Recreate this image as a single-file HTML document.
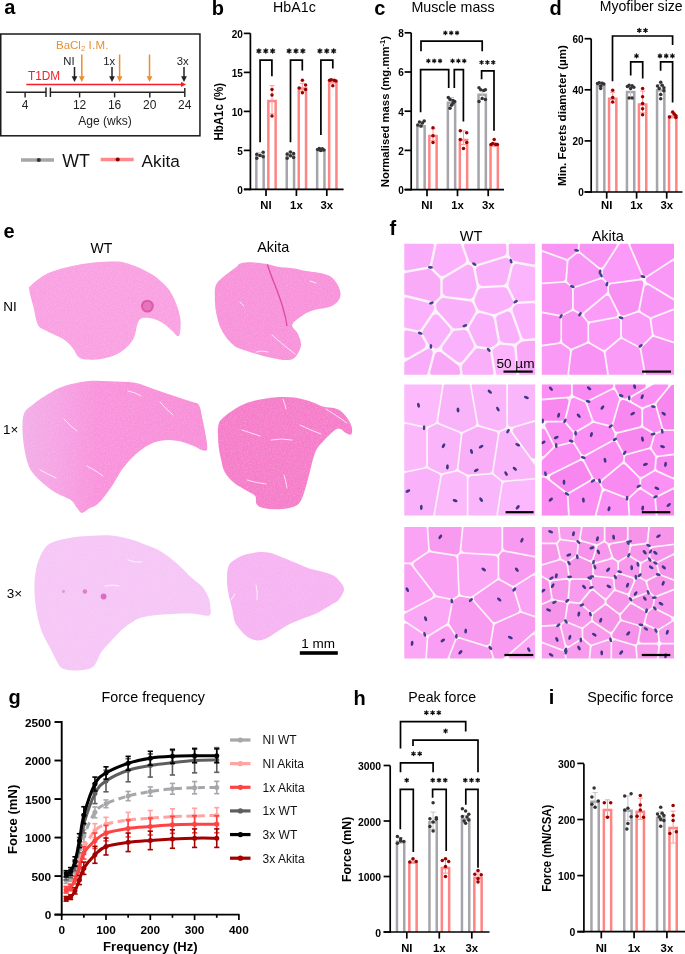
<!DOCTYPE html>
<html><head><meta charset="utf-8"><style>
html,body{margin:0;padding:0;background:#fff;}
svg{display:block;font-family:"Liberation Sans", sans-serif;will-change:transform;}
</style></head><body>
<svg width="685" height="954" viewBox="0 0 685 954">
<rect width="685" height="954" fill="#fff"/>
<text x="4.20" y="14.30" font-size="20" font-weight="bold" text-anchor="start" fill="#000">a</text>
<rect x="0.75" y="34" width="199.2" height="101.8" fill="none" stroke="#1a1a1a" stroke-width="1.5"/>
<text x="56" y="48.9" font-size="11.5" fill="#ea8f2e">BaCl<tspan font-size="7.5" dy="2.5">2</tspan><tspan dy="-2.5" letter-spacing="0.25"> I.M.</tspan></text>
<text x="28.00" y="79.60" font-size="12" text-anchor="start" fill="#f81c28" textLength="32.2" lengthAdjust="spacingAndGlyphs">T1DM</text>
<text x="69.00" y="65.00" font-size="11.3" text-anchor="middle" fill="#222">NI</text>
<text x="109.20" y="65.00" font-size="11.3" text-anchor="middle" fill="#222">1x</text>
<text x="182.80" y="65.00" font-size="11.3" text-anchor="middle" fill="#222">3x</text>
<line x1="74.50" y1="67.00" x2="74.50" y2="78.00" stroke="#222" stroke-width="1.5"/>
<path d="M71.60 76.20 L77.40 76.20 L74.50 82.00 Z" stroke="none" fill="#222" stroke-width="0"/>
<line x1="112.00" y1="67.00" x2="112.00" y2="78.00" stroke="#222" stroke-width="1.5"/>
<path d="M109.10 76.20 L114.90 76.20 L112.00 82.00 Z" stroke="none" fill="#222" stroke-width="0"/>
<line x1="184.00" y1="67.00" x2="184.00" y2="78.00" stroke="#222" stroke-width="1.5"/>
<path d="M181.10 76.20 L186.90 76.20 L184.00 82.00 Z" stroke="none" fill="#222" stroke-width="0"/>
<line x1="81.80" y1="54.50" x2="81.80" y2="78.00" stroke="#ea8f2e" stroke-width="1.5"/>
<path d="M78.90 76.20 L84.70 76.20 L81.80 82.00 Z" stroke="none" fill="#ea8f2e" stroke-width="0"/>
<line x1="119.60" y1="54.50" x2="119.60" y2="78.00" stroke="#ea8f2e" stroke-width="1.5"/>
<path d="M116.70 76.20 L122.50 76.20 L119.60 82.00 Z" stroke="none" fill="#ea8f2e" stroke-width="0"/>
<line x1="149.50" y1="54.50" x2="149.50" y2="78.00" stroke="#ea8f2e" stroke-width="1.5"/>
<path d="M146.60 76.20 L152.40 76.20 L149.50 82.00 Z" stroke="none" fill="#ea8f2e" stroke-width="0"/>
<line x1="26.30" y1="84.40" x2="182.00" y2="84.40" stroke="#f81c28" stroke-width="1.5"/>
<path d="M181 81.8 L186 84.4 L181 87 Z" stroke="none" fill="#f81c28" stroke-width="0"/>
<line x1="6.10" y1="92.20" x2="46.00" y2="92.20" stroke="#222" stroke-width="1.45"/>
<line x1="50.40" y1="92.20" x2="184.80" y2="92.20" stroke="#222" stroke-width="1.45"/>
<line x1="46.00" y1="87.60" x2="46.00" y2="97.00" stroke="#222" stroke-width="1.45"/>
<line x1="50.40" y1="87.60" x2="50.40" y2="97.00" stroke="#222" stroke-width="1.45"/>
<line x1="25.10" y1="92.20" x2="25.10" y2="97.40" stroke="#222" stroke-width="1.45"/>
<line x1="79.60" y1="92.20" x2="79.60" y2="97.40" stroke="#222" stroke-width="1.45"/>
<line x1="114.60" y1="92.20" x2="114.60" y2="97.40" stroke="#222" stroke-width="1.45"/>
<line x1="149.80" y1="92.20" x2="149.80" y2="97.40" stroke="#222" stroke-width="1.45"/>
<line x1="184.80" y1="88.00" x2="184.80" y2="97.00" stroke="#222" stroke-width="1.45"/>
<text x="25.10" y="109.00" font-size="12" text-anchor="middle" fill="#222">4</text>
<text x="79.60" y="109.00" font-size="12" text-anchor="middle" fill="#222">12</text>
<text x="114.60" y="109.00" font-size="12" text-anchor="middle" fill="#222">16</text>
<text x="149.80" y="109.00" font-size="12" text-anchor="middle" fill="#222">20</text>
<text x="184.80" y="109.00" font-size="12" text-anchor="middle" fill="#222">24</text>
<text x="105.00" y="124.80" font-size="12.3" text-anchor="middle" fill="#222" textLength="53.6" lengthAdjust="spacingAndGlyphs">Age (wks)</text>
<line x1="21.00" y1="160.00" x2="54.00" y2="160.00" stroke="#a6a6a6" stroke-width="3.4"/>
<circle cx="38.80" cy="160.00" r="2.1" fill="#333"/>
<text x="62.30" y="167.40" font-size="17.8" text-anchor="start" fill="#111">WT</text>
<line x1="100.70" y1="159.50" x2="133.70" y2="159.50" stroke="#ff8a8a" stroke-width="3.4"/>
<circle cx="117.70" cy="159.50" r="2.1" fill="#8b0000"/>
<text x="141.60" y="167.40" font-size="17.2" text-anchor="start" fill="#111">Akita</text>
<text x="211.80" y="14.50" font-size="20" font-weight="bold" text-anchor="start" fill="#000">b</text>
<path d="M256.35 189.40 L256.35 155.55 L263.65 155.55 L263.65 189.40" fill="#fff" stroke="#a5a5ab" stroke-width="2.5"/>
<path d="M268.35 189.40 L268.35 100.95 L275.65 100.95 L275.65 189.40" fill="#fff" stroke="#ff8484" stroke-width="2.5"/>
<path d="M286.75 189.40 L286.75 155.55 L294.05 155.55 L294.05 189.40" fill="#fff" stroke="#a5a5ab" stroke-width="2.5"/>
<path d="M298.75 189.40 L298.75 88.47 L306.05 88.47 L306.05 189.40" fill="#fff" stroke="#ff8484" stroke-width="2.5"/>
<path d="M317.15 189.40 L317.15 150.87 L324.45 150.87 L324.45 189.40" fill="#fff" stroke="#a5a5ab" stroke-width="2.5"/>
<path d="M329.15 189.40 L329.15 82.23 L336.45 82.23 L336.45 189.40" fill="#fff" stroke="#ff8484" stroke-width="2.5"/>
<line x1="260.00" y1="155.86" x2="260.00" y2="152.74" stroke="#c8c8cc" stroke-width="1.1"/>
<line x1="257.50" y1="152.74" x2="262.50" y2="152.74" stroke="#c8c8cc" stroke-width="1.1"/>
<line x1="257.50" y1="155.86" x2="262.50" y2="155.86" stroke="#c8c8cc" stroke-width="1.1"/>
<circle cx="256.80" cy="158.20" r="1.75" fill="#333333"/>
<circle cx="256.80" cy="154.30" r="1.75" fill="#333333"/>
<circle cx="260.00" cy="155.47" r="1.75" fill="#333333"/>
<circle cx="263.20" cy="152.35" r="1.75" fill="#333333"/>
<circle cx="263.20" cy="156.64" r="1.75" fill="#333333"/>
<line x1="272.00" y1="113.74" x2="272.00" y2="85.66" stroke="#ffa0a0" stroke-width="1.1"/>
<line x1="269.50" y1="85.66" x2="274.50" y2="85.66" stroke="#ffa0a0" stroke-width="1.1"/>
<line x1="269.50" y1="113.74" x2="274.50" y2="113.74" stroke="#ffa0a0" stroke-width="1.1"/>
<circle cx="272.00" cy="89.56" r="1.75" fill="#990000"/>
<circle cx="272.00" cy="95.02" r="1.75" fill="#990000"/>
<circle cx="272.00" cy="116.08" r="1.75" fill="#990000"/>
<line x1="290.40" y1="156.64" x2="290.40" y2="151.96" stroke="#c8c8cc" stroke-width="1.1"/>
<line x1="287.90" y1="151.96" x2="292.90" y2="151.96" stroke="#c8c8cc" stroke-width="1.1"/>
<line x1="287.90" y1="156.64" x2="292.90" y2="156.64" stroke="#c8c8cc" stroke-width="1.1"/>
<circle cx="287.20" cy="158.20" r="1.75" fill="#333333"/>
<circle cx="287.20" cy="153.91" r="1.75" fill="#333333"/>
<circle cx="290.40" cy="151.96" r="1.75" fill="#333333"/>
<circle cx="293.60" cy="153.52" r="1.75" fill="#333333"/>
<circle cx="293.60" cy="157.42" r="1.75" fill="#333333"/>
<circle cx="290.40" cy="155.86" r="1.75" fill="#333333"/>
<line x1="302.40" y1="91.12" x2="302.40" y2="83.32" stroke="#ffa0a0" stroke-width="1.1"/>
<line x1="299.90" y1="83.32" x2="304.90" y2="83.32" stroke="#ffa0a0" stroke-width="1.1"/>
<line x1="299.90" y1="91.12" x2="304.90" y2="91.12" stroke="#ffa0a0" stroke-width="1.1"/>
<circle cx="302.40" cy="80.20" r="1.75" fill="#990000"/>
<circle cx="299.20" cy="88.00" r="1.75" fill="#990000"/>
<circle cx="305.60" cy="84.88" r="1.75" fill="#990000"/>
<circle cx="305.60" cy="89.56" r="1.75" fill="#990000"/>
<circle cx="302.40" cy="92.68" r="1.75" fill="#990000"/>
<line x1="320.80" y1="150.40" x2="320.80" y2="148.84" stroke="#c8c8cc" stroke-width="1.1"/>
<line x1="318.30" y1="148.84" x2="323.30" y2="148.84" stroke="#c8c8cc" stroke-width="1.1"/>
<line x1="318.30" y1="150.40" x2="323.30" y2="150.40" stroke="#c8c8cc" stroke-width="1.1"/>
<circle cx="317.60" cy="149.62" r="1.75" fill="#333333"/>
<circle cx="319.30" cy="148.45" r="1.75" fill="#333333"/>
<circle cx="322.30" cy="148.84" r="1.75" fill="#333333"/>
<circle cx="324.00" cy="150.01" r="1.75" fill="#333333"/>
<circle cx="320.80" cy="150.40" r="1.75" fill="#333333"/>
<line x1="332.80" y1="82.54" x2="332.80" y2="80.20" stroke="#ffa0a0" stroke-width="1.1"/>
<line x1="330.30" y1="80.20" x2="335.30" y2="80.20" stroke="#ffa0a0" stroke-width="1.1"/>
<line x1="330.30" y1="82.54" x2="335.30" y2="82.54" stroke="#ffa0a0" stroke-width="1.1"/>
<circle cx="329.60" cy="80.20" r="1.75" fill="#990000"/>
<circle cx="331.30" cy="79.81" r="1.75" fill="#990000"/>
<circle cx="334.30" cy="80.20" r="1.75" fill="#990000"/>
<circle cx="336.00" cy="80.98" r="1.75" fill="#990000"/>
<circle cx="332.80" cy="85.66" r="1.75" fill="#990000"/>
<line x1="250.40" y1="33.30" x2="250.40" y2="190.20" stroke="#000" stroke-width="1.7"/>
<line x1="244.00" y1="189.40" x2="343.60" y2="189.40" stroke="#000" stroke-width="1.7"/>
<line x1="243.80" y1="189.40" x2="250.40" y2="189.40" stroke="#000" stroke-width="1.7"/>
<text x="242.90" y="193.70" font-size="10" font-weight="bold" text-anchor="end" fill="#000">0</text>
<line x1="243.80" y1="150.40" x2="250.40" y2="150.40" stroke="#000" stroke-width="1.7"/>
<text x="242.90" y="154.70" font-size="10" font-weight="bold" text-anchor="end" fill="#000">5</text>
<line x1="243.80" y1="111.40" x2="250.40" y2="111.40" stroke="#000" stroke-width="1.7"/>
<text x="242.90" y="115.70" font-size="10" font-weight="bold" text-anchor="end" fill="#000">10</text>
<line x1="243.80" y1="72.40" x2="250.40" y2="72.40" stroke="#000" stroke-width="1.7"/>
<text x="242.90" y="76.70" font-size="10" font-weight="bold" text-anchor="end" fill="#000">15</text>
<line x1="243.80" y1="33.40" x2="250.40" y2="33.40" stroke="#000" stroke-width="1.7"/>
<text x="242.90" y="37.70" font-size="10" font-weight="bold" text-anchor="end" fill="#000">20</text>
<line x1="266.00" y1="189.40" x2="266.00" y2="196.00" stroke="#000" stroke-width="1.7"/>
<text x="266.00" y="208.90" font-size="11.3" font-weight="bold" text-anchor="middle" fill="#000">NI</text>
<line x1="296.40" y1="189.40" x2="296.40" y2="196.00" stroke="#000" stroke-width="1.7"/>
<text x="296.40" y="208.90" font-size="11.3" font-weight="bold" text-anchor="middle" fill="#000">1x</text>
<line x1="326.80" y1="189.40" x2="326.80" y2="196.00" stroke="#000" stroke-width="1.7"/>
<text x="326.80" y="208.90" font-size="11.3" font-weight="bold" text-anchor="middle" fill="#000">3x</text>
<path d="M260.10 142.30 L260.10 60.10 L271.90 60.10 L271.90 76.30" stroke="#000" fill="none" stroke-width="1.7" stroke-linejoin="miter"/>
<path d="M258.91 48.88 L258.91 53.12 M257.07 49.94 L260.75 52.06 M257.07 52.06 L260.75 49.94 " stroke="#111" stroke-width="1.43" stroke-linecap="round" fill="none"/>
<path d="M265.80 48.88 L265.80 53.12 M263.96 49.94 L267.64 52.06 M263.96 52.06 L267.64 49.94 " stroke="#111" stroke-width="1.43" stroke-linecap="round" fill="none"/>
<path d="M272.69 48.88 L272.69 53.12 M270.85 49.94 L274.53 52.06 M270.85 52.06 L274.53 49.94 " stroke="#111" stroke-width="1.43" stroke-linecap="round" fill="none"/>
<path d="M290.50 142.30 L290.50 60.10 L302.30 60.10 L302.30 70.40" stroke="#000" fill="none" stroke-width="1.7" stroke-linejoin="miter"/>
<path d="M289.11 48.88 L289.11 53.12 M287.27 49.94 L290.95 52.06 M287.27 52.06 L290.95 49.94 " stroke="#111" stroke-width="1.43" stroke-linecap="round" fill="none"/>
<path d="M296.00 48.88 L296.00 53.12 M294.16 49.94 L297.84 52.06 M294.16 52.06 L297.84 49.94 " stroke="#111" stroke-width="1.43" stroke-linecap="round" fill="none"/>
<path d="M302.89 48.88 L302.89 53.12 M301.05 49.94 L304.73 52.06 M301.05 52.06 L304.73 49.94 " stroke="#111" stroke-width="1.43" stroke-linecap="round" fill="none"/>
<path d="M320.90 135.00 L320.90 60.10 L332.80 60.10 L332.80 68.60" stroke="#000" fill="none" stroke-width="1.7" stroke-linejoin="miter"/>
<path d="M319.91 48.88 L319.91 53.12 M318.07 49.94 L321.75 52.06 M318.07 52.06 L321.75 49.94 " stroke="#111" stroke-width="1.43" stroke-linecap="round" fill="none"/>
<path d="M326.80 48.88 L326.80 53.12 M324.96 49.94 L328.64 52.06 M324.96 52.06 L328.64 49.94 " stroke="#111" stroke-width="1.43" stroke-linecap="round" fill="none"/>
<path d="M333.69 48.88 L333.69 53.12 M331.85 49.94 L335.53 52.06 M331.85 52.06 L335.53 49.94 " stroke="#111" stroke-width="1.43" stroke-linecap="round" fill="none"/>
<text x="0" y="0" font-size="12" font-weight="bold" text-anchor="middle" textLength="57.7" lengthAdjust="spacingAndGlyphs" transform="translate(223 111.75) rotate(-90)">HbA1c (%)</text>
<text x="273.10" y="11.80" font-size="14.6" text-anchor="start" fill="#000" textLength="42.7" lengthAdjust="spacingAndGlyphs">HbA1c</text>
<text x="374.30" y="14.60" font-size="20" font-weight="bold" text-anchor="start" fill="#000">c</text>
<path d="M417.35 189.60 L417.35 126.17 L424.65 126.17 L424.65 189.60" fill="#fff" stroke="#a5a5ab" stroke-width="2.5"/>
<path d="M429.35 189.60 L429.35 135.97 L436.65 135.97 L436.65 189.60" fill="#fff" stroke="#ff8484" stroke-width="2.5"/>
<path d="M447.85 189.60 L447.85 102.65 L455.15 102.65 L455.15 189.60" fill="#fff" stroke="#a5a5ab" stroke-width="2.5"/>
<path d="M459.85 189.60 L459.85 139.89 L467.15 139.89 L467.15 189.60" fill="#fff" stroke="#ff8484" stroke-width="2.5"/>
<path d="M478.55 189.60 L478.55 94.81 L485.85 94.81 L485.85 189.60" fill="#fff" stroke="#a5a5ab" stroke-width="2.5"/>
<path d="M490.55 189.60 L490.55 145.77 L497.85 145.77 L497.85 189.60" fill="#fff" stroke="#ff8484" stroke-width="2.5"/>
<line x1="421.00" y1="126.88" x2="421.00" y2="121.98" stroke="#c8c8cc" stroke-width="1.1"/>
<line x1="418.50" y1="121.98" x2="423.50" y2="121.98" stroke="#c8c8cc" stroke-width="1.1"/>
<line x1="418.50" y1="126.88" x2="423.50" y2="126.88" stroke="#c8c8cc" stroke-width="1.1"/>
<circle cx="417.80" cy="124.92" r="1.75" fill="#333333"/>
<circle cx="419.50" cy="121.98" r="1.75" fill="#333333"/>
<circle cx="422.50" cy="122.96" r="1.75" fill="#333333"/>
<circle cx="424.20" cy="121.00" r="1.75" fill="#333333"/>
<circle cx="421.00" cy="125.90" r="1.75" fill="#333333"/>
<line x1="433.00" y1="140.60" x2="433.00" y2="128.84" stroke="#ffa0a0" stroke-width="1.1"/>
<line x1="430.50" y1="128.84" x2="435.50" y2="128.84" stroke="#ffa0a0" stroke-width="1.1"/>
<line x1="430.50" y1="140.60" x2="435.50" y2="140.60" stroke="#ffa0a0" stroke-width="1.1"/>
<circle cx="433.00" cy="127.86" r="1.75" fill="#990000"/>
<circle cx="433.00" cy="135.70" r="1.75" fill="#990000"/>
<circle cx="433.00" cy="142.56" r="1.75" fill="#990000"/>
<line x1="451.50" y1="105.32" x2="451.50" y2="97.48" stroke="#c8c8cc" stroke-width="1.1"/>
<line x1="449.00" y1="97.48" x2="454.00" y2="97.48" stroke="#c8c8cc" stroke-width="1.1"/>
<line x1="449.00" y1="105.32" x2="454.00" y2="105.32" stroke="#c8c8cc" stroke-width="1.1"/>
<circle cx="448.30" cy="97.48" r="1.75" fill="#333333"/>
<circle cx="450.00" cy="99.44" r="1.75" fill="#333333"/>
<circle cx="453.00" cy="100.42" r="1.75" fill="#333333"/>
<circle cx="454.70" cy="101.40" r="1.75" fill="#333333"/>
<circle cx="451.50" cy="105.32" r="1.75" fill="#333333"/>
<circle cx="450.00" cy="108.26" r="1.75" fill="#333333"/>
<circle cx="453.00" cy="103.36" r="1.75" fill="#333333"/>
<line x1="463.50" y1="144.52" x2="463.50" y2="130.80" stroke="#ffa0a0" stroke-width="1.1"/>
<line x1="461.00" y1="130.80" x2="466.00" y2="130.80" stroke="#ffa0a0" stroke-width="1.1"/>
<line x1="461.00" y1="144.52" x2="466.00" y2="144.52" stroke="#ffa0a0" stroke-width="1.1"/>
<circle cx="460.30" cy="130.80" r="1.75" fill="#990000"/>
<circle cx="466.70" cy="132.76" r="1.75" fill="#990000"/>
<circle cx="460.30" cy="139.62" r="1.75" fill="#990000"/>
<circle cx="466.70" cy="142.56" r="1.75" fill="#990000"/>
<circle cx="463.50" cy="148.44" r="1.75" fill="#990000"/>
<line x1="482.20" y1="99.44" x2="482.20" y2="89.64" stroke="#c8c8cc" stroke-width="1.1"/>
<line x1="479.70" y1="89.64" x2="484.70" y2="89.64" stroke="#c8c8cc" stroke-width="1.1"/>
<line x1="479.70" y1="99.44" x2="484.70" y2="99.44" stroke="#c8c8cc" stroke-width="1.1"/>
<circle cx="479.00" cy="87.68" r="1.75" fill="#333333"/>
<circle cx="480.70" cy="89.64" r="1.75" fill="#333333"/>
<circle cx="483.70" cy="90.62" r="1.75" fill="#333333"/>
<circle cx="485.40" cy="89.64" r="1.75" fill="#333333"/>
<circle cx="479.00" cy="101.40" r="1.75" fill="#333333"/>
<circle cx="482.20" cy="98.46" r="1.75" fill="#333333"/>
<circle cx="485.40" cy="99.44" r="1.75" fill="#333333"/>
<line x1="494.20" y1="146.48" x2="494.20" y2="142.56" stroke="#ffa0a0" stroke-width="1.1"/>
<line x1="491.70" y1="142.56" x2="496.70" y2="142.56" stroke="#ffa0a0" stroke-width="1.1"/>
<line x1="491.70" y1="146.48" x2="496.70" y2="146.48" stroke="#ffa0a0" stroke-width="1.1"/>
<circle cx="491.00" cy="144.52" r="1.75" fill="#990000"/>
<circle cx="492.70" cy="143.54" r="1.75" fill="#990000"/>
<circle cx="495.70" cy="144.52" r="1.75" fill="#990000"/>
<circle cx="497.40" cy="144.52" r="1.75" fill="#990000"/>
<circle cx="494.20" cy="139.62" r="1.75" fill="#990000"/>
<line x1="411.20" y1="32.80" x2="411.20" y2="190.40" stroke="#000" stroke-width="1.7"/>
<line x1="404.60" y1="189.60" x2="504.00" y2="189.60" stroke="#000" stroke-width="1.7"/>
<line x1="404.60" y1="189.60" x2="411.20" y2="189.60" stroke="#000" stroke-width="1.7"/>
<text x="403.70" y="193.90" font-size="10" font-weight="bold" text-anchor="end" fill="#000">0</text>
<line x1="404.60" y1="150.40" x2="411.20" y2="150.40" stroke="#000" stroke-width="1.7"/>
<text x="403.70" y="154.70" font-size="10" font-weight="bold" text-anchor="end" fill="#000">2</text>
<line x1="404.60" y1="111.20" x2="411.20" y2="111.20" stroke="#000" stroke-width="1.7"/>
<text x="403.70" y="115.50" font-size="10" font-weight="bold" text-anchor="end" fill="#000">4</text>
<line x1="404.60" y1="72.00" x2="411.20" y2="72.00" stroke="#000" stroke-width="1.7"/>
<text x="403.70" y="76.30" font-size="10" font-weight="bold" text-anchor="end" fill="#000">6</text>
<line x1="404.60" y1="32.80" x2="411.20" y2="32.80" stroke="#000" stroke-width="1.7"/>
<text x="403.70" y="37.10" font-size="10" font-weight="bold" text-anchor="end" fill="#000">8</text>
<line x1="427.00" y1="189.60" x2="427.00" y2="196.20" stroke="#000" stroke-width="1.7"/>
<text x="427.00" y="208.90" font-size="11.3" font-weight="bold" text-anchor="middle" fill="#000">NI</text>
<line x1="457.50" y1="189.60" x2="457.50" y2="196.20" stroke="#000" stroke-width="1.7"/>
<text x="457.50" y="208.90" font-size="11.3" font-weight="bold" text-anchor="middle" fill="#000">1x</text>
<line x1="488.20" y1="189.60" x2="488.20" y2="196.20" stroke="#000" stroke-width="1.7"/>
<text x="488.20" y="208.90" font-size="11.3" font-weight="bold" text-anchor="middle" fill="#000">3x</text>
<path d="M421.00 51.30 L421.00 41.20 L482.20 41.20 L482.20 51.30" stroke="#000" fill="none" stroke-width="1.7" stroke-linejoin="miter"/>
<path d="M445.35 31.10 L445.35 34.70 M443.79 32.00 L446.91 33.80 M443.79 33.80 L446.91 32.00 " stroke="#111" stroke-width="1.22" stroke-linecap="round" fill="none"/>
<path d="M451.20 31.10 L451.20 34.70 M449.64 32.00 L452.76 33.80 M449.64 33.80 L452.76 32.00 " stroke="#111" stroke-width="1.22" stroke-linecap="round" fill="none"/>
<path d="M457.05 31.10 L457.05 34.70 M455.49 32.00 L458.61 33.80 M455.49 33.80 L458.61 32.00 " stroke="#111" stroke-width="1.22" stroke-linecap="round" fill="none"/>
<path d="M420.60 112.20 L420.60 69.70 L448.70 69.70 L448.70 88.00" stroke="#000" fill="none" stroke-width="1.7" stroke-linejoin="miter"/>
<path d="M428.35 59.10 L428.35 62.70 M426.79 60.00 L429.91 61.80 M426.79 61.80 L429.91 60.00 " stroke="#111" stroke-width="1.22" stroke-linecap="round" fill="none"/>
<path d="M434.20 59.10 L434.20 62.70 M432.64 60.00 L435.76 61.80 M432.64 61.80 L435.76 60.00 " stroke="#111" stroke-width="1.22" stroke-linecap="round" fill="none"/>
<path d="M440.05 59.10 L440.05 62.70 M438.49 60.00 L441.61 61.80 M438.49 61.80 L441.61 60.00 " stroke="#111" stroke-width="1.22" stroke-linecap="round" fill="none"/>
<path d="M454.30 88.00 L454.30 69.70 L463.40 69.70 L463.40 121.50" stroke="#000" fill="none" stroke-width="1.7" stroke-linejoin="miter"/>
<path d="M452.55 59.10 L452.55 62.70 M450.99 60.00 L454.11 61.80 M450.99 61.80 L454.11 60.00 " stroke="#111" stroke-width="1.22" stroke-linecap="round" fill="none"/>
<path d="M458.40 59.10 L458.40 62.70 M456.84 60.00 L459.96 61.80 M456.84 61.80 L459.96 60.00 " stroke="#111" stroke-width="1.22" stroke-linecap="round" fill="none"/>
<path d="M464.25 59.10 L464.25 62.70 M462.69 60.00 L465.81 61.80 M462.69 61.80 L465.81 60.00 " stroke="#111" stroke-width="1.22" stroke-linecap="round" fill="none"/>
<path d="M481.60 79.30 L481.60 70.90 L494.00 70.90 L494.00 130.70" stroke="#000" fill="none" stroke-width="1.7" stroke-linejoin="miter"/>
<path d="M481.55 60.60 L481.55 64.20 M479.99 61.50 L483.11 63.30 M479.99 63.30 L483.11 61.50 " stroke="#111" stroke-width="1.22" stroke-linecap="round" fill="none"/>
<path d="M487.40 60.60 L487.40 64.20 M485.84 61.50 L488.96 63.30 M485.84 63.30 L488.96 61.50 " stroke="#111" stroke-width="1.22" stroke-linecap="round" fill="none"/>
<path d="M493.25 60.60 L493.25 64.20 M491.69 61.50 L494.81 63.30 M491.69 63.30 L494.81 61.50 " stroke="#111" stroke-width="1.22" stroke-linecap="round" fill="none"/>
<text x="0" y="0" font-size="11.3" font-weight="bold" text-anchor="middle" transform="translate(389.4 111.6) rotate(-90)">Normalised mass (mg.mm<tspan font-size="7.5" dy="-4.5">-1</tspan><tspan dy="4.5">)</tspan></text>
<text x="411.40" y="11.70" font-size="14.6" text-anchor="start" fill="#000" textLength="83.2" lengthAdjust="spacingAndGlyphs">Muscle mass</text>
<text x="549.60" y="14.60" font-size="20" font-weight="bold" text-anchor="start" fill="#000">d</text>
<path d="M597.05 192.00 L597.05 85.94 L604.35 85.94 L604.35 192.00" fill="#fff" stroke="#a5a5ab" stroke-width="2.5"/>
<path d="M609.05 192.00 L609.05 98.71 L616.35 98.71 L616.35 192.00" fill="#fff" stroke="#ff8484" stroke-width="2.5"/>
<path d="M626.95 192.00 L626.95 92.07 L634.25 92.07 L634.25 192.00" fill="#fff" stroke="#a5a5ab" stroke-width="2.5"/>
<path d="M638.95 192.00 L638.95 104.59 L646.25 104.59 L646.25 192.00" fill="#fff" stroke="#ff8484" stroke-width="2.5"/>
<path d="M657.05 192.00 L657.05 90.28 L664.35 90.28 L664.35 192.00" fill="#fff" stroke="#a5a5ab" stroke-width="2.5"/>
<path d="M669.05 192.00 L669.05 116.60 L676.35 116.60 L676.35 192.00" fill="#fff" stroke="#ff8484" stroke-width="2.5"/>
<line x1="600.70" y1="87.24" x2="600.70" y2="82.13" stroke="#c8c8cc" stroke-width="1.1"/>
<line x1="598.20" y1="82.13" x2="603.20" y2="82.13" stroke="#c8c8cc" stroke-width="1.1"/>
<line x1="598.20" y1="87.24" x2="603.20" y2="87.24" stroke="#c8c8cc" stroke-width="1.1"/>
<circle cx="597.50" cy="83.41" r="1.75" fill="#333333"/>
<circle cx="599.20" cy="82.65" r="1.75" fill="#333333"/>
<circle cx="602.20" cy="83.16" r="1.75" fill="#333333"/>
<circle cx="603.90" cy="83.92" r="1.75" fill="#333333"/>
<circle cx="600.70" cy="85.97" r="1.75" fill="#333333"/>
<circle cx="600.70" cy="88.52" r="1.75" fill="#333333"/>
<line x1="612.70" y1="102.57" x2="612.70" y2="92.35" stroke="#ffa0a0" stroke-width="1.1"/>
<line x1="610.20" y1="92.35" x2="615.20" y2="92.35" stroke="#ffa0a0" stroke-width="1.1"/>
<line x1="610.20" y1="102.57" x2="615.20" y2="102.57" stroke="#ffa0a0" stroke-width="1.1"/>
<circle cx="612.70" cy="90.31" r="1.75" fill="#990000"/>
<circle cx="612.70" cy="97.46" r="1.75" fill="#990000"/>
<circle cx="612.70" cy="102.06" r="1.75" fill="#990000"/>
<line x1="630.60" y1="97.46" x2="630.60" y2="87.24" stroke="#c8c8cc" stroke-width="1.1"/>
<line x1="628.10" y1="87.24" x2="633.10" y2="87.24" stroke="#c8c8cc" stroke-width="1.1"/>
<line x1="628.10" y1="97.46" x2="633.10" y2="97.46" stroke="#c8c8cc" stroke-width="1.1"/>
<circle cx="627.40" cy="86.48" r="1.75" fill="#333333"/>
<circle cx="629.10" cy="85.20" r="1.75" fill="#333333"/>
<circle cx="632.10" cy="85.71" r="1.75" fill="#333333"/>
<circle cx="633.80" cy="87.24" r="1.75" fill="#333333"/>
<circle cx="630.60" cy="88.52" r="1.75" fill="#333333"/>
<circle cx="629.10" cy="97.98" r="1.75" fill="#333333"/>
<circle cx="632.10" cy="97.98" r="1.75" fill="#333333"/>
<line x1="642.60" y1="112.80" x2="642.60" y2="91.08" stroke="#ffa0a0" stroke-width="1.1"/>
<line x1="640.10" y1="91.08" x2="645.10" y2="91.08" stroke="#ffa0a0" stroke-width="1.1"/>
<line x1="640.10" y1="112.80" x2="645.10" y2="112.80" stroke="#ffa0a0" stroke-width="1.1"/>
<circle cx="642.60" cy="88.52" r="1.75" fill="#990000"/>
<circle cx="642.60" cy="96.70" r="1.75" fill="#990000"/>
<circle cx="642.60" cy="103.60" r="1.75" fill="#990000"/>
<circle cx="642.60" cy="108.71" r="1.75" fill="#990000"/>
<circle cx="642.60" cy="114.84" r="1.75" fill="#990000"/>
<line x1="660.70" y1="94.91" x2="660.70" y2="84.69" stroke="#c8c8cc" stroke-width="1.1"/>
<line x1="658.20" y1="84.69" x2="663.20" y2="84.69" stroke="#c8c8cc" stroke-width="1.1"/>
<line x1="658.20" y1="94.91" x2="663.20" y2="94.91" stroke="#c8c8cc" stroke-width="1.1"/>
<circle cx="660.70" cy="82.13" r="1.75" fill="#333333"/>
<circle cx="657.50" cy="85.97" r="1.75" fill="#333333"/>
<circle cx="662.20" cy="85.20" r="1.75" fill="#333333"/>
<circle cx="663.90" cy="87.76" r="1.75" fill="#333333"/>
<circle cx="659.20" cy="88.52" r="1.75" fill="#333333"/>
<circle cx="663.90" cy="90.82" r="1.75" fill="#333333"/>
<circle cx="660.70" cy="94.40" r="1.75" fill="#333333"/>
<circle cx="660.70" cy="98.74" r="1.75" fill="#333333"/>
<line x1="672.70" y1="117.91" x2="672.70" y2="112.80" stroke="#ffa0a0" stroke-width="1.1"/>
<line x1="670.20" y1="112.80" x2="675.20" y2="112.80" stroke="#ffa0a0" stroke-width="1.1"/>
<line x1="670.20" y1="117.91" x2="675.20" y2="117.91" stroke="#ffa0a0" stroke-width="1.1"/>
<circle cx="672.70" cy="112.03" r="1.75" fill="#990000"/>
<circle cx="669.50" cy="116.88" r="1.75" fill="#990000"/>
<circle cx="675.90" cy="115.86" r="1.75" fill="#990000"/>
<circle cx="674.20" cy="114.07" r="1.75" fill="#990000"/>
<circle cx="675.90" cy="117.39" r="1.75" fill="#990000"/>
<line x1="591.20" y1="38.70" x2="591.20" y2="192.80" stroke="#000" stroke-width="1.7"/>
<line x1="584.60" y1="192.00" x2="682.50" y2="192.00" stroke="#000" stroke-width="1.7"/>
<line x1="584.60" y1="192.00" x2="591.20" y2="192.00" stroke="#000" stroke-width="1.7"/>
<text x="583.70" y="196.30" font-size="10" font-weight="bold" text-anchor="end" fill="#000">0</text>
<line x1="584.60" y1="140.90" x2="591.20" y2="140.90" stroke="#000" stroke-width="1.7"/>
<text x="583.70" y="145.20" font-size="10" font-weight="bold" text-anchor="end" fill="#000">20</text>
<line x1="584.60" y1="89.80" x2="591.20" y2="89.80" stroke="#000" stroke-width="1.7"/>
<text x="583.70" y="94.10" font-size="10" font-weight="bold" text-anchor="end" fill="#000">40</text>
<line x1="584.60" y1="38.70" x2="591.20" y2="38.70" stroke="#000" stroke-width="1.7"/>
<text x="583.70" y="43.00" font-size="10" font-weight="bold" text-anchor="end" fill="#000">60</text>
<line x1="606.70" y1="192.00" x2="606.70" y2="198.60" stroke="#000" stroke-width="1.7"/>
<text x="606.70" y="209.30" font-size="11.3" font-weight="bold" text-anchor="middle" fill="#000">NI</text>
<line x1="636.60" y1="192.00" x2="636.60" y2="198.60" stroke="#000" stroke-width="1.7"/>
<text x="636.60" y="209.30" font-size="11.3" font-weight="bold" text-anchor="middle" fill="#000">1x</text>
<line x1="666.70" y1="192.00" x2="666.70" y2="198.60" stroke="#000" stroke-width="1.7"/>
<text x="666.70" y="209.30" font-size="11.3" font-weight="bold" text-anchor="middle" fill="#000">3x</text>
<path d="M612.50 81.30 L612.50 36.00 L672.60 36.00 L672.60 45.00" stroke="#000" fill="none" stroke-width="1.7" stroke-linejoin="miter"/>
<path d="M639.28 28.48 L639.28 32.32 M637.62 29.44 L640.94 31.36 M637.62 31.36 L640.94 29.44 " stroke="#111" stroke-width="1.30" stroke-linecap="round" fill="none"/>
<path d="M645.52 28.48 L645.52 32.32 M643.86 29.44 L647.18 31.36 M643.86 31.36 L647.18 29.44 " stroke="#111" stroke-width="1.30" stroke-linecap="round" fill="none"/>
<path d="M630.70 75.50 L630.70 61.80 L642.70 61.80 L642.70 78.40" stroke="#000" fill="none" stroke-width="1.7" stroke-linejoin="miter"/>
<path d="M636.50 53.98 L636.50 57.82 M634.84 54.94 L638.16 56.86 M634.84 56.86 L638.16 54.94 " stroke="#111" stroke-width="1.30" stroke-linecap="round" fill="none"/>
<path d="M660.60 70.80 L660.60 61.80 L672.60 61.80 L672.60 102.50" stroke="#000" fill="none" stroke-width="1.7" stroke-linejoin="miter"/>
<path d="M659.96 53.98 L659.96 57.82 M658.30 54.94 L661.62 56.86 M658.30 56.86 L661.62 54.94 " stroke="#111" stroke-width="1.30" stroke-linecap="round" fill="none"/>
<path d="M666.20 53.98 L666.20 57.82 M664.54 54.94 L667.86 56.86 M664.54 56.86 L667.86 54.94 " stroke="#111" stroke-width="1.30" stroke-linecap="round" fill="none"/>
<path d="M672.44 53.98 L672.44 57.82 M670.78 54.94 L674.10 56.86 M670.78 56.86 L674.10 54.94 " stroke="#111" stroke-width="1.30" stroke-linecap="round" fill="none"/>
<text x="0" y="0" font-size="11.7" font-weight="bold" text-anchor="middle" textLength="140.8" lengthAdjust="spacingAndGlyphs" transform="translate(566.3 115.5) rotate(-90)">Min. Ferets diameter (µm)</text>
<text x="599.80" y="11.20" font-size="14.6" text-anchor="start" fill="#000" textLength="82.8" lengthAdjust="spacingAndGlyphs">Myofiber size</text>
<text x="3.40" y="237.50" font-size="20" font-weight="bold" text-anchor="start" fill="#000">e</text>
<text x="101.50" y="252.70" font-size="14" text-anchor="middle" fill="#000">WT</text>
<text x="273.20" y="252.10" font-size="14.4" text-anchor="middle" fill="#000">Akita</text>
<text x="3.30" y="310.50" font-size="13.5" text-anchor="start" fill="#000">NI</text>
<text x="3.00" y="434.20" font-size="13.5" text-anchor="start" fill="#000">1×</text>
<text x="6.80" y="598.30" font-size="13.5" text-anchor="start" fill="#000">3×</text>
<defs><filter id="tex" x="0" y="0" width="1" height="1">
<feTurbulence type="fractalNoise" baseFrequency="0.7" numOctaves="2" seed="3" result="n"/>
<feColorMatrix in="n" type="matrix" values="0 0 0 0 1  0 0 0 0 1  0 0 0 0 1  1.2 0 0 0 -0.45" result="w"/>
<feComposite in="w" in2="SourceGraphic" operator="in" result="wm"/>
<feComponentTransfer in="wm" result="wm2"><feFuncA type="linear" slope="0.2"/></feComponentTransfer>
<feMerge><feMergeNode in="SourceGraphic"/><feMergeNode in="wm2"/></feMerge>
</filter>
<linearGradient id="g1xwt" gradientUnits="userSpaceOnUse" x1="22" y1="0" x2="207" y2="0">
<stop offset="0" stop-color="rgb(242,174,232)"/><stop offset="0.2" stop-color="rgb(246,162,228)"/><stop offset="0.4" stop-color="rgb(249,146,220)"/><stop offset="1" stop-color="rgb(248,142,216)"/></linearGradient>
</defs>
<path d="M30.70 285.70 C33.13 283.28 39.18 278.18 43.80 275.50 C48.42 272.82 53.05 271.30 58.40 269.60 C63.75 267.90 69.57 266.52 75.90 265.30 C82.23 264.08 89.58 262.93 96.40 262.30 C103.22 261.67 111.45 261.25 116.80 261.50 C122.15 261.75 124.13 262.45 128.50 263.80 C132.87 265.15 138.13 267.17 143.00 269.60 C147.87 272.03 153.32 275.00 157.70 278.40 C162.08 281.80 166.15 285.62 169.30 290.00 C172.45 294.38 174.75 299.82 176.60 304.70 C178.45 309.58 179.82 314.68 180.40 319.30 C180.98 323.92 180.58 329.58 180.10 332.40 C179.62 335.22 178.80 336.43 177.50 336.20 C176.20 335.97 174.63 333.10 172.30 331.00 C169.97 328.90 166.43 325.55 163.50 323.60 C160.57 321.65 157.62 320.27 154.70 319.30 C151.78 318.33 148.43 317.80 146.00 317.80 C143.57 317.80 141.57 318.10 140.10 319.30 C138.63 320.50 138.17 322.08 137.20 325.00 C136.23 327.92 135.75 333.38 134.30 336.80 C132.85 340.22 131.42 342.58 128.50 345.50 C125.58 348.42 121.18 352.10 116.80 354.30 C112.42 356.50 107.07 357.82 102.20 358.70 C97.33 359.58 91.50 359.85 87.60 359.60 C83.70 359.35 81.23 359.05 78.80 357.20 C76.37 355.35 75.43 351.42 73.00 348.50 C70.57 345.58 68.58 342.62 64.20 339.70 C59.82 336.78 51.07 333.45 46.70 331.00 C42.33 328.55 40.18 328.90 38.00 325.00 C35.82 321.10 35.07 313.43 33.60 307.60 C32.13 301.77 29.68 293.65 29.20 290.00 C28.72 286.35 28.27 288.12 30.70 285.70 Z" stroke="none" fill="rgb(249,160,226)" stroke-width="0" filter="url(#tex)"/>
<path d="M239.60 263.80 C241.55 263.07 244.02 262.30 248.40 262.30 C252.78 262.30 261.03 263.07 265.90 263.80 C270.77 264.53 273.22 265.97 277.60 266.70 C281.98 267.43 287.33 267.47 292.20 268.20 C297.07 268.93 301.45 270.13 306.80 271.10 C312.15 272.07 319.93 272.78 324.30 274.00 C328.67 275.22 330.57 276.20 333.00 278.40 C335.43 280.60 337.67 284.28 338.90 287.20 C340.13 290.12 340.88 293.23 340.40 295.90 C339.92 298.57 338.20 301.25 336.00 303.20 C333.80 305.15 331.10 306.38 327.20 307.60 C323.30 308.82 316.97 309.03 312.60 310.50 C308.23 311.97 304.40 313.97 301.00 316.40 C297.60 318.83 292.70 322.18 292.20 325.10 C291.70 328.02 296.53 330.50 298.00 333.90 C299.47 337.30 301.48 341.62 301.00 345.50 C300.52 349.38 297.53 354.77 295.10 357.20 C292.67 359.63 290.78 360.10 286.40 360.10 C282.02 360.10 275.13 358.65 268.80 357.20 C262.47 355.75 254.23 353.35 248.40 351.40 C242.57 349.45 238.18 348.90 233.80 345.50 C229.42 342.10 225.02 336.35 222.10 331.00 C219.18 325.65 217.52 319.25 216.30 313.40 C215.08 307.55 214.80 300.77 214.80 295.90 C214.80 291.03 214.60 287.60 216.30 284.20 C218.00 280.80 221.60 278.42 225.00 275.50 C228.40 272.58 234.27 268.65 236.70 266.70 C239.13 264.75 237.65 264.53 239.60 263.80 Z" stroke="none" fill="rgb(248,146,218)" stroke-width="0" filter="url(#tex)"/>
<path d="M24.10 413.40 C25.70 409.65 28.08 408.52 32.10 405.30 C36.12 402.08 42.85 397.30 48.20 394.10 C53.55 390.90 57.78 388.25 64.20 386.10 C70.62 383.95 79.20 382.02 86.70 381.20 C94.20 380.38 101.17 380.93 109.20 381.20 C117.23 381.47 127.40 381.45 134.90 382.80 C142.40 384.15 147.78 387.15 154.20 389.30 C160.62 391.45 166.98 393.57 173.40 395.70 C179.82 397.83 188.42 400.50 192.70 402.10 C196.98 403.70 197.50 402.62 199.10 405.30 C200.70 407.98 201.23 413.38 202.30 418.20 C203.37 423.02 204.68 429.12 205.50 434.20 C206.32 439.28 207.73 446.02 207.20 448.70 C206.67 451.38 204.72 450.83 202.30 450.30 C199.88 449.77 196.98 447.10 192.70 445.50 C188.42 443.90 181.95 441.50 176.60 440.70 C171.25 439.90 165.42 439.90 160.60 440.70 C155.78 441.50 151.98 443.10 147.70 445.50 C143.42 447.90 139.18 451.08 134.90 455.10 C130.62 459.12 125.75 464.52 122.00 469.60 C118.25 474.68 115.60 480.78 112.40 485.60 C109.20 490.42 105.47 495.28 102.80 498.50 C100.13 501.72 98.55 503.30 96.40 504.90 C94.25 506.50 92.32 506.77 89.90 508.10 C87.48 509.43 84.03 512.90 81.90 512.90 C79.77 512.90 78.97 510.23 77.10 508.10 C75.23 505.97 74.45 502.78 70.70 500.10 C66.95 497.42 59.97 495.48 54.60 492.00 C49.23 488.52 42.78 483.47 38.50 479.20 C34.22 474.93 31.30 471.75 28.90 466.40 C26.50 461.05 25.17 453.53 24.10 447.10 C23.03 440.67 22.50 433.42 22.50 427.80 C22.50 422.18 22.50 417.15 24.10 413.40 Z" stroke="none" fill="url(#g1xwt)" stroke-width="0" filter="url(#tex)"/>
<path d="M218.40 425.20 C219.27 420.82 220.97 419.93 223.60 417.30 C226.23 414.67 230.25 411.82 234.20 409.40 C238.15 406.98 242.48 404.55 247.30 402.80 C252.12 401.05 257.85 399.85 263.10 398.90 C268.35 397.95 273.55 397.32 278.80 397.10 C284.05 396.88 289.33 396.87 294.60 397.60 C299.87 398.33 305.58 399.97 310.40 401.50 C315.22 403.03 319.57 405.70 323.50 406.80 C327.43 407.90 330.93 407.23 334.00 408.10 C337.07 408.97 339.48 410.03 341.90 412.00 C344.32 413.97 346.83 417.27 348.50 419.90 C350.17 422.53 351.47 425.38 351.90 427.80 C352.33 430.22 352.12 433.52 351.10 434.40 C350.08 435.28 347.55 433.98 345.80 433.10 C344.05 432.22 342.13 429.77 340.60 429.10 C339.07 428.43 338.13 428.43 336.60 429.10 C335.07 429.77 333.58 431.13 331.40 433.10 C329.22 435.07 325.92 438.28 323.50 440.90 C321.08 443.52 318.65 445.73 316.90 448.80 C315.15 451.87 314.32 454.92 313.00 459.30 C311.68 463.68 310.53 469.40 309.00 475.10 C307.47 480.80 305.55 488.68 303.80 493.50 C302.05 498.32 300.92 501.58 298.50 504.00 C296.08 506.42 293.02 507.12 289.30 508.00 C285.58 508.88 280.57 509.30 276.20 509.30 C271.83 509.30 266.38 508.88 263.10 508.00 C259.82 507.12 257.82 505.98 256.50 504.00 C255.18 502.02 256.73 498.28 255.20 496.10 C253.67 493.92 250.80 493.08 247.30 490.90 C243.80 488.72 237.92 486.07 234.20 483.00 C230.48 479.93 227.20 476.45 225.00 472.50 C222.80 468.55 222.10 464.12 221.00 459.30 C219.90 454.48 218.83 449.28 218.40 443.60 C217.97 437.92 217.53 429.58 218.40 425.20 Z" stroke="none" fill="rgb(246,124,202)" stroke-width="0" filter="url(#tex)"/>
<path d="M52.70 542.20 C57.22 540.47 65.38 538.67 72.10 537.60 C78.82 536.53 86.52 536.13 93.00 535.80 C99.48 535.47 105.08 535.10 111.00 535.60 C116.92 536.10 122.83 537.32 128.50 538.80 C134.17 540.28 139.58 542.38 145.00 544.50 C150.42 546.62 155.58 548.25 161.00 551.50 C166.42 554.75 172.43 559.67 177.50 564.00 C182.57 568.33 187.23 573.67 191.40 577.50 C195.57 581.33 199.63 583.63 202.50 587.00 C205.37 590.37 207.32 594.45 208.60 597.70 C209.88 600.95 210.10 603.53 210.20 606.50 C210.30 609.47 211.87 614.28 209.20 615.50 C206.53 616.72 199.63 614.08 194.20 613.80 C188.77 613.52 182.80 613.60 176.60 613.80 C170.40 614.00 162.85 614.37 157.00 615.00 C151.15 615.63 146.00 616.18 141.50 617.60 C137.00 619.02 133.58 621.18 130.00 623.50 C126.42 625.82 123.47 628.25 120.00 631.50 C116.53 634.75 112.37 639.50 109.20 643.00 C106.03 646.50 103.12 649.33 101.00 652.50 C98.88 655.67 98.00 659.50 96.50 662.00 C95.00 664.50 94.22 666.17 92.00 667.50 C89.78 668.83 86.75 669.55 83.20 670.00 C79.65 670.45 74.40 670.63 70.70 670.20 C67.00 669.77 63.53 669.32 61.00 667.40 C58.47 665.48 57.35 662.00 55.50 658.70 C53.65 655.40 52.22 652.22 49.90 647.60 C47.58 642.98 43.90 637.47 41.60 631.00 C39.30 624.53 37.30 616.20 36.10 608.80 C34.90 601.40 34.42 593.07 34.40 586.60 C34.38 580.13 35.15 574.77 36.00 570.00 C36.85 565.23 38.00 561.67 39.50 558.00 C41.00 554.33 42.80 550.63 45.00 548.00 C47.20 545.37 48.18 543.93 52.70 542.20 Z" stroke="none" fill="rgb(246,198,246)" stroke-width="0" filter="url(#tex)"/>
<path d="M228.60 566.00 C229.92 562.70 232.12 561.67 234.80 559.80 C237.48 557.93 240.97 556.05 244.70 554.80 C248.43 553.55 253.05 552.63 257.20 552.30 C261.35 551.97 265.47 551.97 269.60 552.80 C273.73 553.63 277.87 555.72 282.00 557.30 C286.13 558.88 289.85 560.43 294.40 562.30 C298.95 564.17 304.33 566.85 309.30 568.50 C314.27 570.15 320.07 570.97 324.20 572.20 C328.33 573.43 331.42 574.25 334.10 575.90 C336.78 577.55 338.65 579.82 340.30 582.10 C341.95 584.38 344.22 586.70 344.00 589.60 C343.78 592.50 341.07 597.02 339.00 599.50 C336.93 601.98 334.90 602.43 331.60 604.50 C328.30 606.57 323.75 609.63 319.20 611.90 C314.65 614.17 309.27 616.03 304.30 618.10 C299.33 620.17 293.95 622.02 289.40 624.30 C284.85 626.58 280.72 629.52 277.00 631.80 C273.28 634.08 270.40 636.57 267.10 638.00 C263.80 639.43 260.52 640.62 257.20 640.40 C253.88 640.18 250.10 638.55 247.20 636.70 C244.30 634.85 241.87 631.78 239.80 629.30 C237.73 626.82 236.05 625.12 234.80 621.80 C233.55 618.48 233.33 613.95 232.30 609.40 C231.27 604.85 229.50 599.47 228.60 594.50 C227.70 589.53 226.90 584.35 226.90 579.60 C226.90 574.85 227.28 569.30 228.60 566.00 Z" stroke="none" fill="rgb(246,180,242)" stroke-width="0" filter="url(#tex)"/>
<path d="M64 419 Q70 426 77 431" stroke="#fff" fill="none" stroke-width="1.0" stroke-opacity="0.75" stroke-linecap="round"/>
<path d="M128 391 Q135 392 141 396" stroke="#fff" fill="none" stroke-width="1.0" stroke-opacity="0.75" stroke-linecap="round"/>
<path d="M160 402 Q166 409 173 415" stroke="#fff" fill="none" stroke-width="1.0" stroke-opacity="0.75" stroke-linecap="round"/>
<path d="M87 466 Q95 470 103 476" stroke="#fff" fill="none" stroke-width="1.0" stroke-opacity="0.75" stroke-linecap="round"/>
<path d="M40 470 Q48 474 56 478" stroke="#fff" fill="none" stroke-width="1.0" stroke-opacity="0.75" stroke-linecap="round"/>
<path d="M271 440 Q281 438 292 440" stroke="#fff" fill="none" stroke-width="1.0" stroke-opacity="0.75" stroke-linecap="round"/>
<path d="M242 430 Q251 433 260 436" stroke="#fff" fill="none" stroke-width="1.0" stroke-opacity="0.75" stroke-linecap="round"/>
<path d="M300 425 Q310 430 321 434" stroke="#fff" fill="none" stroke-width="1.0" stroke-opacity="0.75" stroke-linecap="round"/>
<path d="M326 409 Q336 415 347 423" stroke="#fff" fill="none" stroke-width="1.0" stroke-opacity="0.75" stroke-linecap="round"/>
<path d="M247 480 Q256 483 266 484" stroke="#fff" fill="none" stroke-width="1.0" stroke-opacity="0.75" stroke-linecap="round"/>
<path d="M284 475 Q286 481 287 488" stroke="#fff" fill="none" stroke-width="1.0" stroke-opacity="0.75" stroke-linecap="round"/>
<path d="M283 399 Q285 404 286 409" stroke="#fff" fill="none" stroke-width="1.0" stroke-opacity="0.75" stroke-linecap="round"/>
<path d="M240 302 L244 306" stroke="#fff" fill="none" stroke-width="1.0" stroke-opacity="0.75" stroke-linecap="round"/>
<path d="M272 335 Q283 345 295 354" stroke="#fff" fill="none" stroke-width="1.0" stroke-opacity="0.75" stroke-linecap="round"/>
<path d="M310 281 L316 283" stroke="#fff" fill="none" stroke-width="1.0" stroke-opacity="0.75" stroke-linecap="round"/>
<path d="M256 352 Q262 350 268 352" stroke="#fff" fill="none" stroke-width="1.0" stroke-opacity="0.75" stroke-linecap="round"/>
<path d="M128 560 Q135 563 142 562" stroke="#fff" fill="none" stroke-width="1.0" stroke-opacity="0.75" stroke-linecap="round"/>
<path d="M105 586 Q112 584 119 586" stroke="#fff" fill="none" stroke-width="1.0" stroke-opacity="0.75" stroke-linecap="round"/>
<path d="M256 585 Q258 592 257 600" stroke="#fff" fill="none" stroke-width="1.0" stroke-opacity="0.75" stroke-linecap="round"/>
<path d="M231 600 L235 594" stroke="#fff" fill="none" stroke-width="1.0" stroke-opacity="0.75" stroke-linecap="round"/>
<circle cx="147.40" cy="306.10" r="6.4" fill="#dc5aa8"/>
<circle cx="147.40" cy="306.10" r="4.4" fill="#e874bc"/>
<path d="M267.4 264.5 C272 280 280 295 284 312 C286 318 286.5 322 287 326" stroke="#dc4aa0" fill="none" stroke-width="1.3"/>
<circle cx="63.50" cy="591.50" r="1.4" fill="#e890d4"/>
<circle cx="84.90" cy="591.50" r="2.2" fill="#e07cc8"/>
<circle cx="103.60" cy="596.50" r="2.9" fill="#dc6cc0"/>
<text x="318.20" y="647.90" font-size="13.5" text-anchor="middle" fill="#000">1 mm</text>
<rect x="299.8" y="651.2" width="38" height="3.6" fill="#000"/>
<text x="389.40" y="234.80" font-size="20" font-weight="bold" text-anchor="start" fill="#000">f</text>
<text x="471.00" y="241.00" font-size="14.5" text-anchor="middle" fill="#000">WT</text>
<text x="607.80" y="241.00" font-size="14.5" text-anchor="middle" fill="#000">Akita</text>
<clipPath id="clip0"><rect x="404.3" y="243.8" width="130.8" height="131"/></clipPath>
<g clip-path="url(#clip0)">
<rect x="404.3" y="243.8" width="130.8" height="131" fill="#fcf2fa"/>
<path d="M426.8 266.8 L427.9 266.5 L428.9 265.8 L429.6 264.9 L430.0 263.8 L433.7 246.9 L433.8 245.9 L433.7 244.8 L433.3 243.9 L432.6 243.1 L431.8 242.5 L430.9 242.1 L429.8 242.0 L406.5 242.0 L405.5 242.1 L404.5 242.5 L403.7 243.2 L403.0 244.0 L402.6 245.0 L402.5 246.0 L402.5 266.4 L402.6 267.4 L403.0 268.3 L403.6 269.1 L404.3 269.8 L405.2 270.2 L406.2 270.4 L407.2 270.3 Z " fill="rgb(249,172,249)"/>
<path d="M432.2 264.9 L432.1 265.9 L432.3 266.9 L432.7 267.8 L433.3 268.6 L439.5 274.8 L440.3 275.4 L441.3 275.8 L442.4 276.0 L443.4 275.8 L444.4 275.4 L464.2 263.7 L465.1 263.0 L465.7 262.1 L466.1 261.0 L466.2 259.9 L466.0 258.9 L460.9 244.6 L460.4 243.8 L459.8 243.0 L459.0 242.5 L458.1 242.1 L457.1 242.0 L440.5 242.0 L439.4 242.1 L438.4 242.6 L437.6 243.2 L437.0 244.1 L436.6 245.1 Z " fill="rgb(251,177,251)"/>
<path d="M469.1 260.6 L469.7 261.6 L470.6 262.5 L472.5 263.9 L473.3 264.3 L474.2 264.6 L475.1 264.6 L476.0 264.4 L503.6 255.9 L504.5 255.4 L505.3 254.8 L505.9 253.9 L506.3 253.0 L506.4 252.0 L506.3 245.9 L506.1 244.9 L505.7 243.9 L505.1 243.1 L504.3 242.5 L503.3 242.1 L502.3 242.0 L468.2 242.0 L467.1 242.1 L466.1 242.6 L465.2 243.3 L464.6 244.2 L464.2 245.2 L464.2 246.3 L464.4 247.4 Z " fill="rgb(250,174,250)"/>
<path d="M508.9 254.0 L509.0 254.9 L509.3 255.7 L509.8 256.5 L512.5 259.7 L513.1 260.3 L513.9 260.8 L514.8 261.1 L532.2 264.3 L533.2 264.4 L534.1 264.2 L535.0 263.8 L535.8 263.2 L536.4 262.3 L536.8 261.4 L536.9 260.4 L536.9 246.0 L536.8 245.0 L536.4 244.0 L535.7 243.2 L534.9 242.5 L533.9 242.1 L532.9 242.0 L512.7 242.0 L511.6 242.1 L510.7 242.6 L509.8 243.2 L509.2 244.1 L508.8 245.0 L508.7 246.1 Z " fill="rgb(249,171,248)"/>
<path d="M432.3 301.3 L433.3 301.4 L434.4 301.2 L435.3 300.8 L436.1 300.2 L439.1 297.2 L439.8 296.3 L440.2 295.4 L440.3 294.3 L440.3 280.7 L440.2 279.6 L439.8 278.7 L439.1 277.8 L431.5 270.2 L430.7 269.6 L429.8 269.2 L428.9 269.0 L427.9 269.1 L405.8 273.0 L404.7 273.4 L403.8 274.0 L403.1 274.8 L402.7 275.9 L402.5 277.0 L402.5 290.9 L402.6 291.9 L403.1 292.9 L403.7 293.7 L404.6 294.4 L405.6 294.8 Z " fill="rgb(249,171,248)"/>
<path d="M473.1 268.6 L472.8 267.6 L472.2 266.8 L471.5 266.1 L470.6 265.5 L469.6 264.9 L468.5 264.7 L467.3 264.8 L466.2 265.3 L444.7 278.0 L443.9 278.7 L443.2 279.5 L442.8 280.4 L442.7 281.5 L442.7 291.9 L442.8 292.9 L443.2 293.8 L443.7 294.6 L444.4 295.2 L445.3 295.7 L446.2 295.9 L469.0 298.8 L470.1 298.8 L471.1 298.6 L472.0 298.0 L472.7 297.3 L473.3 296.3 L476.4 288.3 L476.6 287.2 L476.6 286.0 Z " fill="rgb(250,175,250)"/>
<path d="M509.0 259.3 L508.1 258.5 L507.1 258.0 L505.9 257.8 L504.7 258.0 L478.7 266.1 L477.8 266.5 L477.0 267.1 L476.4 267.9 L476.1 268.8 L475.9 269.7 L476.0 270.7 L478.4 282.7 L478.7 283.7 L479.4 284.6 L480.3 285.3 L481.3 285.8 L482.5 285.9 L503.0 284.9 L504.0 284.7 L504.9 284.3 L505.7 283.6 L506.3 282.8 L506.7 281.8 L511.0 264.2 L511.1 263.2 L511.0 262.3 L510.7 261.4 L510.2 260.7 Z " fill="rgb(250,175,250)"/>
<path d="M508.6 284.3 L508.5 285.3 L508.6 286.2 L508.9 287.1 L515.0 299.4 L515.7 300.3 L516.6 301.0 L517.7 301.5 L518.8 301.6 L533.1 300.8 L534.1 300.7 L535.0 300.2 L535.8 299.6 L536.4 298.8 L536.8 297.8 L536.9 296.8 L536.9 271.0 L536.7 269.9 L536.3 268.9 L535.6 268.1 L534.7 267.4 L533.6 267.1 L517.4 264.0 L516.4 263.9 L515.4 264.1 L514.5 264.6 L513.7 265.2 L513.1 266.0 L512.8 267.0 Z " fill="rgb(252,180,253)"/>
<path d="M417.3 330.2 L418.2 330.2 L419.2 330.1 L420.0 329.7 L420.8 329.2 L421.4 328.5 L433.3 310.7 L433.8 309.5 L434.0 308.2 L433.9 307.0 L433.7 306.0 L433.3 305.1 L432.6 304.3 L431.8 303.7 L430.8 303.4 L407.4 297.7 L406.4 297.6 L405.4 297.7 L404.5 298.1 L403.6 298.8 L403.0 299.6 L402.6 300.6 L402.5 301.6 L402.5 323.8 L402.6 324.9 L403.1 325.9 L403.8 326.8 L404.7 327.4 L405.7 327.8 Z " fill="rgb(251,177,251)"/>
<path d="M475.0 312.8 L475.4 311.9 L475.6 311.0 L475.5 310.1 L475.3 309.2 L473.0 303.8 L472.4 302.9 L471.7 302.1 L470.8 301.6 L469.8 301.4 L443.9 298.0 L442.7 298.0 L441.5 298.4 L440.5 299.2 L437.4 302.3 L436.7 303.2 L436.3 304.2 L436.2 305.4 L436.3 308.0 L436.5 308.9 L436.8 309.7 L437.3 310.5 L452.1 327.1 L452.8 327.7 L453.6 328.1 L454.5 328.4 L455.5 328.4 L464.6 327.5 L465.5 327.3 L466.3 326.9 L467.1 326.3 L467.6 325.5 Z " fill="rgb(250,175,250)"/>
<path d="M509.1 308.0 L509.9 307.5 L510.6 306.9 L512.4 304.8 L513.0 303.8 L513.3 302.7 L513.2 301.5 L512.9 300.4 L507.4 289.5 L506.7 288.5 L505.8 287.8 L504.8 287.4 L503.6 287.3 L481.5 288.3 L480.4 288.5 L479.3 289.1 L478.5 289.9 L478.0 290.9 L474.8 299.0 L474.5 300.0 L474.6 301.0 L474.8 302.0 L477.5 308.3 L477.9 309.1 L478.6 309.8 L479.3 310.3 L480.2 310.6 L493.0 313.9 L494.3 314.0 L495.5 313.7 Z " fill="rgb(250,176,251)"/>
<path d="M533.2 338.2 L534.2 338.0 L535.1 337.6 L535.8 337.0 L536.4 336.2 L536.8 335.2 L536.9 334.2 L536.9 307.3 L536.8 306.2 L536.3 305.2 L535.7 304.4 L534.8 303.7 L533.8 303.3 L532.7 303.3 L517.8 304.0 L516.7 304.2 L515.7 304.7 L514.9 305.5 L513.5 307.1 L513.0 308.0 L512.7 309.0 L512.6 310.0 L512.8 311.0 L521.7 336.2 L522.2 337.1 L522.9 337.9 L523.8 338.5 L524.8 338.8 L525.8 338.9 Z " fill="rgb(251,177,251)"/>
<path d="M449.6 332.5 L450.1 331.6 L450.3 330.5 L450.3 329.4 L449.9 328.4 L449.3 327.5 L438.8 315.7 L438.0 315.0 L437.1 314.6 L436.1 314.4 L435.0 314.5 L434.0 314.8 L433.2 315.4 L432.5 316.2 L423.2 330.1 L422.8 331.1 L422.6 332.1 L422.7 333.2 L423.1 334.2 L428.9 344.8 L429.7 345.8 L430.7 346.5 L434.2 348.1 L435.1 348.4 L436.2 348.5 L436.4 348.5 L437.6 348.2 L438.6 347.6 L439.4 346.8 Z " fill="rgb(251,178,252)"/>
<path d="M455.4 330.8 L454.3 331.1 L453.4 331.6 L452.6 332.5 L442.9 346.0 L442.4 346.9 L442.2 347.9 L442.2 349.0 L442.5 350.0 L443.0 350.8 L443.7 351.6 L457.1 361.6 L458.0 362.1 L459.0 362.4 L460.0 362.4 L461.0 362.1 L461.9 361.6 L462.6 360.9 L472.8 348.6 L473.4 347.6 L473.7 346.5 L473.7 345.4 L473.4 344.3 L467.8 332.3 L467.3 331.5 L466.6 330.8 L465.7 330.3 L464.8 330.0 L463.8 330.0 Z " fill="rgb(251,178,252)"/>
<path d="M493.8 319.0 L493.4 317.9 L492.8 317.0 L491.9 316.3 L490.8 315.8 L480.9 313.3 L479.9 313.1 L478.9 313.3 L477.9 313.7 L477.1 314.3 L476.5 315.1 L469.7 326.7 L469.4 327.6 L469.2 328.5 L469.3 329.5 L469.6 330.4 L475.8 343.8 L476.3 344.6 L477.0 345.3 L477.8 345.8 L478.8 346.0 L489.0 347.6 L490.0 347.7 L491.0 347.5 L491.9 347.0 L495.9 344.2 L496.8 343.5 L497.4 342.5 L497.7 341.4 L497.6 340.2 Z " fill="rgb(250,176,251)"/>
<path d="M513.5 343.5 L514.4 343.4 L515.3 343.2 L516.1 342.8 L517.9 341.6 L518.7 340.9 L519.3 340.1 L519.6 339.1 L519.7 338.0 L519.5 337.0 L511.4 314.2 L510.9 313.3 L510.2 312.5 L509.3 311.9 L508.2 311.6 L507.2 311.6 L506.1 311.9 L498.7 315.0 L497.7 315.5 L497.0 316.3 L496.5 317.3 L496.2 318.3 L496.3 319.4 L499.9 339.2 L500.2 340.2 L500.8 341.1 L501.5 341.8 L502.5 342.3 L503.5 342.5 Z " fill="rgb(250,175,250)"/>
<path d="M420.6 334.7 L419.9 333.8 L419.0 333.1 L417.9 332.7 L407.3 330.5 L406.3 330.5 L405.3 330.6 L404.4 331.1 L403.6 331.7 L403.0 332.5 L402.6 333.5 L402.5 334.5 L402.5 353.7 L402.6 354.7 L403.0 355.7 L403.7 356.5 L404.5 357.2 L405.5 357.6 L406.5 357.7 L407.5 357.6 L408.5 357.2 L423.7 348.4 L424.5 347.8 L425.1 346.9 L425.5 346.0 L425.7 345.0 L425.5 343.9 L425.2 343.0 Z " fill="rgb(250,174,250)"/>
<path d="M432.6 353.9 L432.7 352.8 L432.6 351.8 L432.2 350.8 L431.5 350.0 L430.7 349.4 L429.7 349.0 L428.7 348.9 L427.7 349.0 L426.7 349.4 L404.5 362.3 L403.7 362.9 L403.0 363.7 L402.6 364.7 L402.5 365.7 L402.5 372.6 L402.6 373.6 L403.0 374.6 L403.7 375.4 L404.5 376.1 L405.5 376.5 L406.5 376.6 L423.5 376.6 L424.6 376.5 L425.5 376.1 L426.4 375.4 L427.0 374.6 L427.4 373.6 Z " fill="rgb(249,172,249)"/>
<path d="M441.1 352.6 L440.1 352.0 L439.0 351.8 L437.9 351.9 L436.9 352.2 L436.0 352.9 L435.3 353.7 L434.8 354.8 L430.4 371.6 L430.3 372.6 L430.4 373.6 L430.8 374.6 L431.4 375.4 L432.3 376.1 L433.2 376.5 L434.3 376.6 L456.0 376.6 L457.1 376.4 L458.1 376.0 L459.0 375.3 L459.6 374.3 L460.0 373.2 L460.0 372.1 L459.5 367.9 L459.2 366.8 L458.7 365.9 L457.9 365.2 Z " fill="rgb(248,168,247)"/>
<path d="M478.6 348.4 L477.6 348.4 L476.6 348.7 L475.7 349.1 L474.9 349.9 L462.7 364.6 L462.2 365.5 L461.9 366.5 L461.8 367.6 L462.5 373.1 L462.7 374.0 L463.2 374.9 L463.8 375.6 L464.6 376.1 L465.5 376.5 L466.5 376.6 L489.5 376.6 L490.5 376.5 L491.4 376.1 L492.2 375.5 L492.8 374.8 L493.3 373.9 L493.5 372.9 L493.4 371.9 L490.3 353.1 L490.0 352.1 L489.5 351.2 L488.8 350.5 L487.9 350.0 L487.0 349.8 Z " fill="rgb(250,175,250)"/>
<path d="M514.4 349.2 L514.2 348.2 L513.7 347.2 L512.9 346.4 L511.9 345.9 L510.8 345.6 L501.2 344.7 L500.3 344.7 L499.4 345.0 L498.6 345.4 L494.3 348.3 L493.4 349.0 L492.9 350.0 L492.6 351.1 L492.6 352.2 L496.1 373.3 L496.4 374.3 L497.1 375.3 L497.9 376.0 L498.9 376.4 L500.0 376.6 L512.5 376.6 L513.6 376.4 L514.6 376.0 L515.4 375.3 L516.0 374.4 L516.4 373.4 L516.4 372.3 Z " fill="rgb(252,180,253)"/>
<path d="M523.4 341.5 L522.4 341.7 L521.5 342.1 L518.5 344.1 L517.7 344.8 L517.1 345.7 L516.8 346.7 L516.7 347.8 L518.9 372.9 L519.1 373.9 L519.6 374.8 L520.2 375.5 L521.0 376.1 L521.9 376.5 L522.9 376.6 L532.9 376.6 L533.9 376.5 L534.9 376.1 L535.7 375.4 L536.4 374.6 L536.8 373.6 L536.9 372.6 L536.9 344.7 L536.7 343.6 L536.3 342.6 L535.6 341.7 L534.7 341.1 L533.7 340.8 L532.6 340.7 Z " fill="rgb(248,168,247)"/>
<ellipse cx="430.4" cy="267.4" rx="2.5" ry="1.35" fill="#433f8e" transform="rotate(6 430.4 267.4)"/>
<ellipse cx="474.3" cy="264.1" rx="2.5" ry="1.35" fill="#433f8e" transform="rotate(34 474.3 264.1)"/>
<ellipse cx="511.0" cy="261.1" rx="2.5" ry="1.35" fill="#433f8e" transform="rotate(72 511.0 261.1)"/>
<ellipse cx="431.4" cy="302.9" rx="2.5" ry="1.35" fill="#433f8e" transform="rotate(159 431.4 302.9)"/>
<ellipse cx="515.6" cy="301.7" rx="2.5" ry="1.35" fill="#433f8e" transform="rotate(149 515.6 301.7)"/>
<ellipse cx="420.3" cy="333.2" rx="2.5" ry="1.35" fill="#433f8e" transform="rotate(19 420.3 333.2)"/>
<ellipse cx="464.8" cy="325.7" rx="2.5" ry="1.35" fill="#433f8e" transform="rotate(159 464.8 325.7)"/>
<ellipse cx="430.9" cy="346.4" rx="2.5" ry="1.35" fill="#433f8e" transform="rotate(93 430.9 346.4)"/>
<ellipse cx="488.7" cy="349.9" rx="2.5" ry="1.35" fill="#433f8e" transform="rotate(48 488.7 349.9)"/>
</g>
<clipPath id="clip1"><rect x="541.8" y="243.8" width="132.2" height="131"/></clipPath>
<g clip-path="url(#clip1)">
<rect x="541.8" y="243.8" width="132.2" height="131" fill="#fcf2fa"/>
<path d="M578.1 245.0 L578.0 244.2 L577.8 243.4 L577.3 242.7 L576.7 242.2 L575.9 241.8 L575.1 241.7 L542.7 241.7 L541.9 241.8 L541.2 242.1 L540.6 242.6 L540.1 243.2 L539.8 243.9 L539.7 244.7 L539.7 247.0 L539.8 247.7 L540.1 248.4 L540.5 249.0 L541.0 249.5 L541.7 249.8 L565.8 258.6 L566.6 258.8 L567.4 258.7 L568.1 258.5 L568.8 258.1 L576.5 251.7 L577.0 251.2 L577.3 250.5 L577.5 249.8 Z " fill="rgb(249,147,244)"/>
<path d="M579.4 249.4 L579.4 250.1 L579.6 250.9 L580.0 251.5 L580.5 252.1 L599.0 266.9 L599.7 267.3 L600.5 267.6 L601.4 267.5 L602.1 267.3 L602.8 266.8 L603.4 266.2 L616.2 246.3 L616.5 245.6 L616.7 244.8 L616.6 244.0 L616.3 243.3 L615.8 242.6 L615.2 242.1 L614.4 241.8 L613.7 241.7 L582.9 241.7 L582.2 241.8 L581.5 242.0 L580.9 242.5 L580.4 243.0 L580.1 243.7 L579.9 244.4 Z " fill="rgb(249,148,245)"/>
<path d="M642.8 274.0 L643.2 274.7 L643.7 275.2 L644.3 275.6 L645.0 275.8 L645.8 275.8 L646.5 275.7 L647.2 275.4 L674.7 257.5 L675.3 257.1 L675.7 256.5 L676.0 255.8 L676.1 255.0 L676.1 244.7 L676.0 243.9 L675.7 243.2 L675.2 242.6 L674.6 242.1 L673.9 241.8 L673.1 241.7 L633.5 241.7 L632.8 241.8 L632.1 242.1 L631.5 242.5 L631.0 243.0 L630.7 243.7 L630.6 244.4 L630.6 245.2 L630.8 245.9 Z " fill="rgb(248,145,243)"/>
<path d="M543.7 252.5 L542.9 252.3 L542.1 252.4 L541.3 252.6 L540.7 253.1 L540.1 253.7 L539.8 254.5 L539.7 255.3 L539.7 279.4 L539.8 280.2 L540.1 280.9 L540.6 281.6 L541.3 282.0 L542.1 282.3 L542.9 282.4 L562.6 281.2 L563.4 281.0 L564.2 280.6 L564.8 280.0 L565.2 279.2 L565.4 278.4 L566.5 263.1 L566.5 262.3 L566.2 261.6 L565.8 260.9 L565.2 260.4 L564.6 260.0 Z " fill="rgb(251,153,247)"/>
<path d="M569.5 259.8 L568.9 260.4 L568.6 261.1 L568.4 261.9 L567.1 280.0 L567.1 280.7 L567.3 281.3 L567.6 281.9 L568.1 282.4 L571.8 285.6 L572.4 286.0 L573.1 286.3 L573.9 286.3 L574.7 286.2 L599.1 278.0 L599.8 277.7 L600.4 277.1 L600.8 276.5 L601.1 275.8 L601.1 275.0 L601.0 272.1 L600.8 271.3 L600.4 270.6 L599.9 269.9 L580.2 254.1 L579.5 253.7 L578.7 253.5 L577.9 253.5 L577.1 253.7 L576.4 254.1 Z " fill="rgb(249,149,245)"/>
<path d="M603.2 269.8 L602.9 270.6 L602.8 271.5 L603.0 276.4 L603.1 277.1 L603.4 277.8 L603.8 278.3 L607.1 281.8 L607.6 282.2 L608.2 282.5 L608.9 282.7 L609.6 282.7 L638.7 278.8 L639.5 278.6 L640.2 278.2 L640.7 277.6 L641.1 276.9 L641.3 276.2 L641.3 275.4 L641.1 274.6 L627.8 243.5 L627.4 242.8 L626.7 242.2 L625.9 241.8 L625.1 241.7 L622.9 241.7 L622.2 241.8 L621.5 242.1 L620.9 242.5 L620.4 243.1 Z " fill="rgb(251,154,248)"/>
<path d="M647.2 277.5 L646.6 278.0 L646.2 278.6 L645.9 279.3 L645.9 280.0 L646.0 280.8 L646.3 281.5 L646.7 282.1 L647.3 282.6 L671.6 297.1 L672.3 297.5 L673.1 297.6 L673.8 297.5 L674.6 297.2 L675.2 296.7 L675.7 296.1 L676.0 295.4 L676.1 294.6 L676.1 264.3 L676.0 263.5 L675.7 262.8 L675.2 262.2 L674.5 261.7 L673.8 261.4 L673.0 261.3 L672.2 261.5 L671.5 261.8 Z " fill="rgb(250,152,247)"/>
<path d="M542.5 284.2 L541.8 284.3 L541.1 284.7 L540.5 285.1 L540.1 285.7 L539.8 286.4 L539.7 287.2 L539.7 308.6 L539.8 309.5 L540.2 310.2 L540.7 310.9 L541.4 311.3 L542.2 311.6 L560.1 314.8 L560.7 314.8 L561.4 314.7 L562.0 314.5 L570.4 310.1 L571.0 309.6 L571.5 308.9 L571.8 308.2 L572.0 307.4 L572.0 289.5 L571.8 288.7 L571.5 287.9 L570.9 287.3 L566.6 283.6 L566.0 283.1 L565.3 282.9 L564.5 282.8 Z " fill="rgb(249,147,244)"/>
<path d="M573.8 307.4 L573.9 308.2 L574.2 308.9 L574.7 309.6 L575.3 310.1 L580.1 312.6 L580.8 312.8 L581.5 312.9 L582.2 312.9 L582.8 312.6 L583.4 312.2 L606.2 293.2 L606.7 292.7 L607.0 292.1 L607.2 291.5 L607.3 290.8 L607.0 285.3 L606.8 284.6 L606.6 284.0 L606.1 283.4 L603.2 280.3 L602.6 279.8 L601.8 279.5 L600.9 279.4 L600.1 279.6 L575.8 287.7 L575.1 288.0 L574.6 288.5 L574.1 289.1 L573.8 289.8 L573.8 290.6 Z " fill="rgb(250,152,247)"/>
<path d="M619.9 313.9 L620.4 314.6 L621.0 315.2 L621.8 315.5 L622.7 315.6 L623.5 315.4 L636.3 311.2 L637.0 310.8 L637.6 310.3 L638.1 309.6 L638.3 308.9 L643.3 284.0 L643.4 283.2 L643.2 282.4 L642.8 281.7 L642.3 281.1 L641.6 280.6 L640.8 280.4 L640.0 280.4 L611.5 284.3 L610.8 284.5 L610.1 284.8 L609.6 285.3 L609.2 286.0 L608.9 286.7 L608.9 287.4 L609.1 291.8 L609.2 292.4 L609.4 293.0 Z " fill="rgb(248,144,243)"/>
<path d="M674.2 308.2 L674.8 307.8 L675.3 307.3 L675.8 306.7 L676.0 306.1 L676.1 305.4 L676.1 303.7 L676.0 302.9 L675.7 302.2 L675.2 301.6 L674.6 301.1 L648.9 285.6 L648.2 285.3 L647.4 285.2 L646.5 285.3 L645.8 285.7 L645.2 286.2 L644.7 286.8 L644.4 287.6 L640.2 308.8 L640.1 309.5 L640.3 310.2 L640.6 310.9 L641.0 311.5 L641.6 311.9 L649.2 316.5 L650.0 316.8 L650.9 316.9 L651.8 316.7 Z " fill="rgb(249,149,245)"/>
<path d="M609.7 297.5 L609.2 296.8 L608.7 296.3 L608.0 296.0 L607.2 295.8 L606.4 295.9 L605.7 296.1 L605.1 296.5 L585.5 312.9 L585.0 313.4 L584.6 314.1 L584.4 314.9 L584.4 315.6 L584.6 316.4 L585.0 317.0 L587.5 320.2 L588.1 320.7 L588.8 321.1 L589.6 321.3 L590.4 321.3 L615.0 316.7 L615.8 316.5 L616.4 316.1 L616.9 315.5 L617.3 314.8 L617.5 314.0 L617.4 313.2 L617.1 312.5 Z " fill="rgb(252,156,249)"/>
<path d="M557.8 342.4 L558.6 342.2 L559.3 341.7 L559.9 341.1 L560.2 340.3 L560.4 339.4 L560.4 319.2 L560.2 318.3 L559.9 317.6 L559.4 316.9 L558.7 316.5 L557.9 316.2 L543.2 313.6 L542.5 313.6 L541.7 313.7 L541.1 314.0 L540.5 314.5 L540.1 315.1 L539.8 315.8 L539.7 316.6 L539.7 341.6 L539.8 342.3 L540.1 343.0 L540.5 343.6 L541.0 344.0 L541.7 344.4 L542.4 344.5 L543.1 344.5 Z " fill="rgb(248,145,243)"/>
<path d="M587.4 323.9 L587.3 323.3 L587.1 322.6 L586.7 322.1 L581.8 315.8 L581.4 315.4 L580.8 315.0 L574.3 311.5 L573.6 311.3 L572.8 311.2 L572.1 311.3 L571.4 311.5 L563.7 315.6 L563.1 316.1 L562.6 316.7 L562.3 317.4 L562.1 318.2 L562.1 340.8 L562.2 341.5 L562.5 342.2 L562.9 342.8 L563.4 343.2 L569.8 347.8 L570.5 348.2 L571.3 348.4 L572.0 348.3 L572.8 348.1 L585.6 342.5 L586.3 342.1 L586.9 341.4 L587.2 340.7 L587.4 339.8 Z " fill="rgb(249,147,244)"/>
<path d="M620.1 321.2 L620.1 320.5 L619.8 319.8 L619.3 319.2 L618.8 318.7 L618.1 318.4 L617.4 318.2 L616.6 318.3 L591.6 322.9 L590.8 323.1 L590.1 323.6 L589.6 324.2 L589.3 325.0 L589.1 325.8 L589.1 340.1 L589.3 340.9 L589.6 341.6 L590.0 342.2 L590.7 342.7 L602.6 349.4 L603.3 349.7 L604.0 349.8 L604.7 349.7 L605.4 349.5 L606.0 349.1 L619.1 338.0 L619.7 337.4 L620.0 336.6 L620.1 335.7 Z " fill="rgb(251,154,248)"/>
<path d="M639.8 313.0 L639.0 312.7 L638.2 312.6 L637.3 312.7 L624.0 317.2 L623.3 317.5 L622.8 318.0 L622.3 318.6 L622.0 319.3 L621.9 320.0 L621.9 335.2 L622.1 336.0 L622.4 336.8 L622.9 337.4 L623.5 337.9 L638.2 345.8 L639.0 346.1 L639.7 346.1 L640.5 346.0 L641.2 345.7 L641.8 345.3 L650.8 336.3 L651.2 335.8 L651.5 335.1 L651.7 334.5 L651.6 333.8 L649.7 320.2 L649.5 319.3 L649.0 318.6 L648.3 318.0 Z " fill="rgb(251,155,248)"/>
<path d="M653.6 318.0 L652.9 318.3 L652.3 318.9 L651.9 319.6 L651.7 320.4 L651.7 321.2 L653.4 333.1 L653.6 333.8 L654.0 334.6 L654.6 335.1 L655.4 335.5 L672.2 341.1 L672.9 341.2 L673.8 341.2 L674.5 340.9 L675.2 340.4 L675.7 339.8 L676.0 339.0 L676.1 338.2 L676.1 313.7 L676.0 312.9 L675.7 312.1 L675.1 311.5 L674.4 311.0 L673.7 310.8 L672.8 310.7 L672.0 310.9 Z " fill="rgb(252,156,249)"/>
<path d="M570.0 352.0 L569.9 351.2 L569.7 350.5 L569.3 349.8 L568.7 349.2 L562.0 344.5 L561.3 344.1 L560.6 343.9 L559.8 343.9 L542.3 346.5 L541.5 346.7 L540.7 347.2 L540.2 347.8 L539.8 348.6 L539.7 349.4 L539.7 373.9 L539.8 374.7 L540.1 375.4 L540.6 376.0 L541.2 376.5 L541.9 376.8 L542.7 376.9 L564.3 376.9 L565.0 376.8 L565.7 376.6 L566.3 376.1 L566.8 375.6 L567.1 375.0 L567.3 374.3 Z " fill="rgb(251,153,247)"/>
<path d="M573.5 349.8 L572.9 350.2 L572.3 350.7 L571.9 351.4 L571.8 352.2 L569.2 373.5 L569.2 374.4 L569.5 375.2 L569.9 375.9 L570.6 376.4 L571.3 376.8 L572.2 376.9 L603.9 376.9 L604.7 376.8 L605.4 376.5 L606.0 376.1 L606.4 375.6 L606.8 374.9 L606.9 374.2 L606.9 373.5 L603.9 353.5 L603.6 352.7 L603.1 351.9 L602.4 351.4 L589.5 344.1 L588.9 343.8 L588.2 343.7 L587.5 343.7 L586.8 344.0 Z " fill="rgb(248,146,244)"/>
<path d="M639.8 350.0 L639.5 349.1 L639.0 348.4 L638.3 347.8 L623.0 339.6 L622.3 339.3 L621.6 339.2 L620.9 339.3 L620.2 339.6 L619.6 339.9 L606.8 350.8 L606.2 351.4 L605.9 352.0 L605.7 352.8 L605.7 353.5 L608.9 374.3 L609.1 375.2 L609.6 375.9 L610.2 376.4 L611.0 376.8 L611.8 376.9 L641.0 376.9 L641.8 376.8 L642.4 376.5 L643.1 376.1 L643.5 375.5 L643.9 374.9 L644.0 374.1 L644.0 373.4 Z " fill="rgb(251,155,248)"/>
<path d="M654.8 337.2 L654.0 337.0 L653.2 337.1 L652.4 337.4 L651.7 337.9 L642.5 347.1 L642.0 347.7 L641.7 348.4 L641.6 349.1 L641.6 349.8 L646.0 374.4 L646.2 375.2 L646.7 375.9 L647.3 376.4 L648.1 376.8 L648.9 376.9 L673.1 376.9 L673.9 376.8 L674.6 376.5 L675.2 376.0 L675.7 375.4 L676.0 374.7 L676.1 373.9 L676.1 346.4 L676.0 345.7 L675.7 345.0 L675.3 344.4 L674.7 343.9 L674.0 343.6 Z " fill="rgb(248,146,244)"/>
<ellipse cx="576.6" cy="250.4" rx="2.5" ry="1.35" fill="#433f8e" transform="rotate(9 576.6 250.4)"/>
<ellipse cx="600.0" cy="271.9" rx="2.5" ry="1.35" fill="#433f8e" transform="rotate(102 600.0 271.9)"/>
<ellipse cx="643.0" cy="276.6" rx="2.5" ry="1.35" fill="#433f8e" transform="rotate(15 643.0 276.6)"/>
<ellipse cx="572.3" cy="286.6" rx="2.5" ry="1.35" fill="#433f8e" transform="rotate(21 572.3 286.6)"/>
<ellipse cx="601.1" cy="275.2" rx="2.5" ry="1.35" fill="#433f8e" transform="rotate(64 601.1 275.2)"/>
<ellipse cx="606.9" cy="284.1" rx="2.5" ry="1.35" fill="#433f8e" transform="rotate(102 606.9 284.1)"/>
<ellipse cx="561.0" cy="316.3" rx="2.5" ry="1.35" fill="#433f8e" transform="rotate(122 561.0 316.3)"/>
<ellipse cx="580.0" cy="314.3" rx="2.5" ry="1.35" fill="#433f8e" transform="rotate(126 580.0 314.3)"/>
<ellipse cx="621.0" cy="317.8" rx="2.5" ry="1.35" fill="#433f8e" transform="rotate(16 621.0 317.8)"/>
<ellipse cx="640.6" cy="345.9" rx="2.5" ry="1.35" fill="#433f8e" transform="rotate(142 640.6 345.9)"/>
</g>
<clipPath id="clip2"><rect x="404.3" y="384.4" width="130.8" height="131.2"/></clipPath>
<g clip-path="url(#clip2)">
<rect x="404.3" y="384.4" width="130.8" height="131.2" fill="#fcf2fa"/>
<path d="M425.8 426.6 L426.6 426.7 L427.4 426.6 L428.1 426.3 L434.6 423.2 L435.3 422.8 L435.9 422.2 L436.3 421.4 L436.5 420.6 L441.9 386.3 L442.0 385.4 L441.8 384.6 L441.4 383.8 L440.8 383.2 L440.1 382.7 L439.3 382.4 L438.5 382.2 L405.7 382.2 L404.7 382.4 L403.9 382.7 L403.2 383.3 L402.6 384.0 L402.3 384.8 L402.2 385.8 L402.2 418.6 L402.3 419.6 L402.7 420.5 L403.2 421.2 L404.0 421.7 L404.9 422.1 Z " fill="rgb(252,186,253)"/>
<path d="M469.8 385.1 L469.4 384.2 L468.9 383.4 L468.2 382.8 L467.3 382.4 L466.3 382.2 L447.3 382.2 L446.3 382.4 L445.4 382.8 L444.7 383.4 L444.1 384.3 L443.8 385.2 L438.4 419.7 L438.4 420.7 L438.6 421.6 L439.0 422.4 L439.7 423.1 L440.5 423.5 L460.3 431.5 L461.2 431.7 L462.2 431.7 L463.1 431.4 L474.4 426.3 L475.2 425.8 L475.8 425.1 L476.2 424.3 L476.4 423.4 L476.4 422.5 Z " fill="rgb(249,179,249)"/>
<path d="M497.8 430.4 L498.6 430.5 L499.4 430.5 L500.1 430.2 L504.1 428.5 L505.0 428.0 L505.7 427.2 L506.1 426.3 L506.2 425.3 L506.2 385.8 L506.1 384.8 L505.8 384.0 L505.2 383.3 L504.5 382.7 L503.7 382.4 L502.8 382.2 L475.1 382.2 L474.3 382.4 L473.5 382.7 L472.8 383.2 L472.2 383.9 L471.8 384.6 L471.7 385.5 L471.7 386.4 L478.2 422.8 L478.5 423.8 L479.0 424.6 L479.8 425.2 L480.7 425.6 Z " fill="rgb(250,180,250)"/>
<path d="M508.0 423.3 L508.1 424.2 L508.4 425.1 L509.0 425.8 L509.7 426.4 L510.6 426.7 L511.5 426.8 L512.5 426.7 L534.8 420.0 L535.6 419.7 L536.3 419.1 L536.8 418.4 L537.1 417.6 L537.2 416.7 L537.2 385.8 L537.1 384.8 L536.8 384.0 L536.2 383.3 L535.5 382.7 L534.7 382.4 L533.8 382.2 L511.5 382.2 L510.5 382.4 L509.7 382.7 L509.0 383.3 L508.4 384.0 L508.1 384.8 L508.0 385.8 Z " fill="rgb(250,182,251)"/>
<path d="M423.5 467.4 L424.4 467.0 L425.2 466.5 L425.7 465.8 L426.1 464.9 L426.2 463.9 L426.2 431.3 L426.1 430.3 L425.7 429.4 L425.2 428.7 L424.4 428.2 L423.5 427.8 L406.4 424.1 L405.5 424.1 L404.6 424.2 L403.8 424.6 L403.1 425.1 L402.6 425.8 L402.3 426.7 L402.2 427.5 L402.2 467.7 L402.3 468.5 L402.6 469.4 L403.1 470.1 L403.8 470.6 L404.6 471.0 L405.5 471.1 L406.4 471.1 Z " fill="rgb(251,185,252)"/>
<path d="M454.3 470.4 L455.1 470.1 L455.8 469.6 L456.4 469.0 L456.8 468.2 L457.0 467.4 L460.5 436.2 L460.5 435.2 L460.2 434.4 L459.8 433.6 L459.1 433.0 L458.3 432.5 L438.5 424.5 L437.5 424.3 L436.6 424.3 L435.6 424.6 L429.9 427.3 L429.1 427.9 L428.5 428.6 L428.1 429.5 L427.9 430.5 L428.0 464.7 L428.1 465.7 L428.5 466.6 L429.1 467.3 L429.9 467.9 L440.3 472.8 L441.1 473.1 L441.8 473.2 L442.6 473.1 Z " fill="rgb(250,180,250)"/>
<path d="M489.0 472.9 L490.0 472.7 L490.8 472.3 L491.5 471.6 L491.9 470.9 L492.2 470.0 L497.6 435.3 L497.6 434.5 L497.5 433.6 L497.1 432.9 L496.6 432.2 L495.9 431.7 L495.1 431.4 L479.1 426.9 L478.3 426.8 L477.5 426.9 L476.7 427.1 L464.3 432.7 L463.6 433.2 L462.9 433.8 L462.5 434.6 L462.3 435.5 L458.7 467.6 L458.7 468.4 L458.9 469.3 L459.3 470.0 L459.9 470.6 L460.6 471.1 L466.9 474.3 L467.8 474.6 L468.7 474.6 Z " fill="rgb(248,175,247)"/>
<path d="M501.6 431.5 L500.8 431.9 L500.2 432.5 L499.8 433.3 L499.5 434.1 L493.7 471.1 L493.7 472.0 L493.9 472.9 L494.4 473.7 L495.0 474.4 L501.6 479.7 L502.4 480.2 L503.2 480.4 L504.1 480.5 L534.0 478.0 L534.9 477.8 L535.7 477.4 L536.3 476.8 L536.8 476.1 L537.1 475.3 L537.2 474.5 L537.2 469.8 L537.1 468.7 L536.6 467.7 L509.8 430.9 L509.2 430.2 L508.4 429.7 L507.5 429.5 L506.5 429.5 L505.6 429.7 Z " fill="rgb(250,180,250)"/>
<path d="M439.9 477.4 L440.0 476.5 L439.8 475.6 L439.4 474.8 L438.7 474.1 L438.0 473.6 L428.1 468.9 L427.4 468.6 L426.6 468.5 L425.8 468.6 L404.9 473.1 L404.0 473.5 L403.2 474.0 L402.7 474.7 L402.3 475.6 L402.2 476.6 L402.2 514.2 L402.3 515.2 L402.6 516.0 L403.2 516.7 L403.9 517.3 L404.7 517.6 L405.7 517.7 L429.8 517.7 L430.8 517.6 L431.7 517.2 L432.4 516.6 L433.0 515.8 L433.3 514.9 Z " fill="rgb(249,178,249)"/>
<path d="M466.8 478.3 L466.6 477.3 L466.2 476.4 L465.6 475.7 L464.8 475.1 L458.5 472.0 L457.8 471.7 L457.0 471.6 L456.2 471.7 L444.3 474.4 L443.4 474.8 L442.6 475.4 L442.0 476.3 L441.7 477.2 L435.2 513.6 L435.2 514.5 L435.4 515.4 L435.7 516.1 L436.3 516.8 L437.0 517.3 L437.8 517.6 L438.7 517.7 L463.2 517.7 L464.2 517.6 L465.0 517.3 L465.7 516.7 L466.3 516.0 L466.6 515.2 L466.8 514.2 Z " fill="rgb(251,185,252)"/>
<path d="M501.2 483.8 L501.2 482.9 L501.0 482.0 L500.6 481.2 L499.9 480.6 L493.3 475.2 L492.6 474.8 L491.7 474.5 L490.9 474.5 L471.7 476.1 L470.8 476.3 L470.0 476.6 L469.4 477.2 L468.9 477.9 L468.6 478.7 L468.5 479.6 L468.5 514.2 L468.6 515.2 L468.9 516.0 L469.5 516.7 L470.2 517.3 L471.0 517.6 L472.0 517.7 L492.8 517.7 L493.8 517.6 L494.7 517.2 L495.5 516.6 L496.0 515.7 L496.3 514.8 Z " fill="rgb(250,182,251)"/>
<path d="M505.9 482.0 L505.0 482.2 L504.2 482.7 L503.5 483.3 L503.0 484.1 L502.7 485.0 L498.2 513.7 L498.2 514.6 L498.3 515.4 L498.7 516.2 L499.3 516.8 L500.0 517.3 L500.8 517.6 L501.6 517.7 L533.8 517.7 L534.7 517.6 L535.5 517.3 L536.2 516.7 L536.8 516.0 L537.1 515.2 L537.2 514.2 L537.2 483.2 L537.1 482.2 L536.7 481.4 L536.1 480.6 L535.3 480.1 L534.4 479.8 L533.5 479.7 Z " fill="rgb(251,184,252)"/>
<path d="M515.3 427.6 L514.4 428.0 L513.7 428.6 L513.2 429.4 L512.9 430.3 L512.8 431.2 L513.0 432.2 L513.5 433.0 L530.9 457.0 L531.5 457.7 L532.3 458.1 L533.1 458.4 L534.0 458.5 L534.8 458.3 L535.6 457.9 L536.3 457.4 L536.8 456.7 L537.1 455.8 L537.2 455.0 L537.2 425.7 L537.1 424.8 L536.8 424.0 L536.2 423.2 L535.5 422.7 L534.6 422.3 L533.7 422.2 L532.7 422.4 Z " fill="rgb(248,175,247)"/>
<ellipse cx="424.1" cy="427.7" rx="2.5" ry="1.35" fill="#433f8e" transform="rotate(91 424.1 427.7)"/>
<ellipse cx="508.0" cy="431.1" rx="2.5" ry="1.35" fill="#433f8e" transform="rotate(120 508.0 431.1)"/>
<ellipse cx="418.5" cy="405.2" rx="2.6" ry="1.4" fill="#3f3586" transform="rotate(78 418.5 405.2)"/>
<ellipse cx="458.0" cy="410.0" rx="2.6" ry="1.4" fill="#3f3586" transform="rotate(83 458.0 410.0)"/>
<ellipse cx="489.8" cy="391.7" rx="2.6" ry="1.4" fill="#3f3586" transform="rotate(42 489.8 391.7)"/>
<ellipse cx="497.9" cy="409.1" rx="2.6" ry="1.4" fill="#3f3586" transform="rotate(60 497.9 409.1)"/>
<ellipse cx="526.4" cy="397.5" rx="2.6" ry="1.4" fill="#3f3586" transform="rotate(24 526.4 397.5)"/>
<ellipse cx="443.5" cy="445.7" rx="2.6" ry="1.4" fill="#3f3586" transform="rotate(119 443.5 445.7)"/>
<ellipse cx="471.5" cy="451.5" rx="2.6" ry="1.4" fill="#3f3586" transform="rotate(72 471.5 451.5)"/>
<ellipse cx="481.1" cy="446.6" rx="2.6" ry="1.4" fill="#3f3586" transform="rotate(148 481.1 446.6)"/>
<ellipse cx="447.4" cy="466.9" rx="2.6" ry="1.4" fill="#3f3586" transform="rotate(94 447.4 466.9)"/>
<ellipse cx="476.3" cy="470.3" rx="2.6" ry="1.4" fill="#3f3586" transform="rotate(152 476.3 470.3)"/>
<ellipse cx="517.7" cy="444.7" rx="2.6" ry="1.4" fill="#3f3586" transform="rotate(25 517.7 444.7)"/>
<ellipse cx="514.8" cy="468.8" rx="2.6" ry="1.4" fill="#3f3586" transform="rotate(44 514.8 468.8)"/>
<ellipse cx="506.1" cy="473.6" rx="2.6" ry="1.4" fill="#3f3586" transform="rotate(60 506.1 473.6)"/>
<ellipse cx="407.9" cy="491.0" rx="2.6" ry="1.4" fill="#3f3586" transform="rotate(152 407.9 491.0)"/>
<ellipse cx="421.3" cy="507.3" rx="2.6" ry="1.4" fill="#3f3586" transform="rotate(92 421.3 507.3)"/>
<ellipse cx="455.1" cy="500.6" rx="2.6" ry="1.4" fill="#3f3586" transform="rotate(21 455.1 500.6)"/>
<ellipse cx="481.1" cy="499.6" rx="2.6" ry="1.4" fill="#3f3586" transform="rotate(54 481.1 499.6)"/>
<ellipse cx="517.7" cy="507.3" rx="2.6" ry="1.4" fill="#3f3586" transform="rotate(128 517.7 507.3)"/>
</g>
<clipPath id="clip3"><rect x="541.8" y="384.4" width="132.2" height="131.2"/></clipPath>
<g clip-path="url(#clip3)">
<rect x="541.8" y="384.4" width="132.2" height="131.2" fill="#fcf2fa"/>
<path d="M568.3 396.4 L569.0 396.2 L569.7 395.9 L570.2 395.4 L570.6 394.8 L570.9 394.1 L571.0 393.4 L571.0 385.3 L570.9 384.5 L570.6 383.8 L570.1 383.2 L569.5 382.7 L568.8 382.4 L568.0 382.3 L542.7 382.3 L541.9 382.4 L541.2 382.7 L540.6 383.2 L540.1 383.8 L539.8 384.5 L539.7 385.3 L539.7 395.6 L539.8 396.5 L540.1 397.2 L540.7 397.9 L541.4 398.3 L542.1 398.6 L543.0 398.6 Z " fill="rgb(251,143,243)"/>
<path d="M572.8 393.4 L572.9 394.3 L573.3 395.0 L573.9 395.7 L574.6 396.1 L584.6 400.5 L585.5 400.7 L586.4 400.7 L587.2 400.4 L611.7 388.2 L612.4 387.7 L612.9 387.0 L613.2 386.2 L613.3 385.3 L613.3 385.2 L613.2 384.4 L612.9 383.7 L612.4 383.1 L611.8 382.7 L611.1 382.4 L610.3 382.3 L575.8 382.3 L575.0 382.4 L574.3 382.7 L573.7 383.2 L573.2 383.8 L572.9 384.5 L572.8 385.3 Z " fill="rgb(249,138,241)"/>
<path d="M624.9 398.4 L625.6 398.5 L626.3 398.4 L627.0 398.1 L644.3 387.9 L645.0 387.4 L645.4 386.8 L645.7 386.1 L645.8 385.3 L645.7 384.5 L645.4 383.8 L644.9 383.2 L644.3 382.7 L643.6 382.4 L642.8 382.3 L618.1 382.3 L617.3 382.4 L616.6 382.7 L616.0 383.2 L615.5 383.9 L615.2 384.6 L615.1 385.4 L615.2 386.9 L615.3 387.6 L615.6 388.2 L620.1 396.4 L620.6 397.1 L621.3 397.6 L622.2 397.9 Z " fill="rgb(248,134,239)"/>
<path d="M561.6 420.7 L562.4 420.6 L563.1 420.3 L563.8 419.8 L564.2 419.2 L564.5 418.4 L568.5 402.1 L568.6 401.3 L568.5 400.5 L568.2 399.8 L567.6 399.2 L566.9 398.7 L566.2 398.5 L565.4 398.4 L542.4 400.5 L541.7 400.6 L541.0 401.0 L540.5 401.5 L540.1 402.1 L539.8 402.7 L539.7 403.5 L539.7 417.7 L539.8 418.4 L540.0 419.1 L540.5 419.7 L541.0 420.2 L541.6 420.5 L541.7 420.5 L542.7 420.7 Z " fill="rgb(248,135,239)"/>
<path d="M575.0 398.3 L574.2 398.0 L573.5 398.0 L572.8 398.2 L572.1 398.5 L571.5 399.0 L571.1 399.6 L570.9 400.3 L566.0 419.9 L565.9 420.6 L566.0 421.3 L566.2 422.0 L566.6 422.5 L572.7 429.8 L573.3 430.4 L574.1 430.8 L574.9 430.9 L575.7 430.8 L576.5 430.5 L589.9 422.7 L590.5 422.2 L591.0 421.5 L591.3 420.7 L591.4 419.9 L591.2 419.1 L585.7 403.9 L585.3 403.2 L584.8 402.6 L584.1 402.2 Z " fill="rgb(251,145,244)"/>
<path d="M618.9 399.8 L619.0 399.0 L618.9 398.2 L618.6 397.5 L615.4 391.6 L614.9 390.9 L614.3 390.5 L613.6 390.1 L612.9 390.0 L612.1 390.1 L611.4 390.3 L589.5 401.3 L588.9 401.7 L588.4 402.2 L588.0 402.8 L587.8 403.5 L587.8 404.3 L588.0 405.0 L593.3 419.6 L593.6 420.2 L594.1 420.8 L594.7 421.2 L595.4 421.5 L608.5 424.7 L609.2 424.8 L610.0 424.7 L610.7 424.4 L611.3 424.0 L611.8 423.4 L612.1 422.7 Z " fill="rgb(252,146,245)"/>
<path d="M632.6 396.9 L632.0 397.4 L631.5 398.0 L631.2 398.7 L631.1 399.5 L631.2 400.3 L631.6 401.0 L632.0 401.6 L632.7 402.1 L641.1 406.7 L641.9 407.0 L642.7 407.0 L643.5 406.8 L654.0 403.1 L654.7 402.7 L655.3 402.1 L667.5 387.2 L667.9 386.6 L668.1 385.8 L668.1 385.1 L668.0 384.4 L667.7 383.7 L667.2 383.1 L666.6 382.7 L665.9 382.4 L665.1 382.3 L658.2 382.3 L657.4 382.4 L656.7 382.7 Z " fill="rgb(251,143,243)"/>
<path d="M676.1 387.9 L676.0 387.1 L675.7 386.3 L675.1 385.7 L674.5 385.2 L673.7 384.9 L672.9 384.9 L672.1 385.0 L671.4 385.4 L670.8 386.0 L657.3 402.5 L656.9 403.1 L656.7 403.8 L656.6 404.5 L656.7 405.3 L663.0 427.2 L663.4 427.9 L663.8 428.5 L664.5 429.0 L665.2 429.3 L665.9 429.4 L673.1 429.4 L673.9 429.2 L674.6 428.9 L675.2 428.5 L675.7 427.9 L676.0 427.1 L676.1 426.4 Z " fill="rgb(248,134,239)"/>
<path d="M641.3 410.6 L641.2 409.8 L640.9 409.1 L640.4 408.4 L639.7 408.0 L626.3 400.7 L625.4 400.4 L623.5 400.0 L622.7 400.0 L622.0 400.1 L621.4 400.4 L620.8 400.9 L620.3 401.4 L620.0 402.1 L613.2 425.3 L613.1 426.0 L613.2 426.8 L613.4 427.5 L614.9 430.2 L615.3 430.9 L615.9 431.4 L616.7 431.7 L617.4 431.8 L618.2 431.8 L639.0 426.5 L639.8 426.2 L640.4 425.8 L640.9 425.1 L641.2 424.4 L641.3 423.6 Z " fill="rgb(248,135,239)"/>
<path d="M659.5 430.8 L660.2 430.3 L660.8 429.7 L661.2 428.9 L661.3 428.1 L661.2 427.2 L655.6 407.8 L655.2 407.0 L654.7 406.4 L654.1 406.0 L653.3 405.7 L652.5 405.6 L651.7 405.8 L645.1 408.2 L644.4 408.5 L643.9 409.0 L643.5 409.6 L643.2 410.3 L643.1 411.0 L643.1 424.4 L643.2 425.2 L643.5 425.9 L644.0 426.5 L644.6 427.0 L653.4 432.1 L654.1 432.4 L654.7 432.5 L655.4 432.5 L656.1 432.3 Z " fill="rgb(251,144,244)"/>
<path d="M553.9 443.4 L554.4 444.1 L555.0 444.6 L555.7 445.0 L556.5 445.1 L557.3 445.0 L570.3 441.7 L571.0 441.5 L571.6 441.0 L572.1 440.5 L572.4 439.8 L572.6 439.1 L573.1 434.5 L573.0 433.7 L572.8 432.9 L572.4 432.2 L565.1 423.6 L564.5 423.0 L563.7 422.6 L562.8 422.5 L548.3 422.5 L547.6 422.6 L546.8 422.9 L546.2 423.3 L545.8 423.9 L545.4 424.6 L545.3 425.4 L545.4 426.1 L545.6 426.8 Z " fill="rgb(250,142,243)"/>
<path d="M611.9 428.5 L611.4 427.8 L610.8 427.3 L610.0 427.0 L594.5 423.1 L593.7 423.0 L593.0 423.1 L592.2 423.4 L576.3 432.7 L575.7 433.1 L575.3 433.7 L575.0 434.3 L574.8 435.0 L574.2 440.7 L574.2 441.4 L574.4 442.0 L574.6 442.6 L581.4 453.4 L581.8 454.0 L582.5 454.4 L583.2 454.7 L583.9 454.8 L584.7 454.7 L585.4 454.4 L612.9 439.4 L613.5 438.9 L614.0 438.3 L614.3 437.6 L614.4 436.9 L614.5 434.4 L614.5 433.6 L614.2 432.9 Z " fill="rgb(251,143,243)"/>
<path d="M648.3 447.7 L649.0 447.4 L649.6 446.9 L650.1 446.3 L650.4 445.6 L653.0 436.6 L653.1 435.8 L653.0 435.0 L652.7 434.3 L652.2 433.6 L651.6 433.2 L643.1 428.2 L642.4 427.9 L641.6 427.8 L640.9 427.9 L618.5 433.5 L617.8 433.8 L617.2 434.3 L616.7 434.9 L616.4 435.6 L616.3 436.3 L616.2 438.1 L616.3 438.9 L616.6 439.6 L623.4 452.0 L623.9 452.6 L624.5 453.1 L625.3 453.4 L626.1 453.5 L626.8 453.4 Z " fill="rgb(248,134,239)"/>
<path d="M663.8 431.1 L663.2 431.2 L662.6 431.4 L656.7 434.0 L656.0 434.5 L655.4 435.1 L655.0 435.9 L652.0 446.5 L651.9 447.4 L652.0 448.2 L652.3 449.0 L655.6 454.0 L656.1 454.7 L656.8 455.1 L657.6 455.4 L658.5 455.4 L673.5 453.5 L674.2 453.3 L674.8 452.9 L675.4 452.5 L675.8 451.9 L676.0 451.2 L676.1 450.5 L676.1 434.1 L676.0 433.4 L675.7 432.6 L675.2 432.0 L674.6 431.6 L673.9 431.3 L673.1 431.1 Z " fill="rgb(251,144,244)"/>
<path d="M544.5 475.9 L545.1 475.9 L545.8 475.8 L546.5 475.6 L579.1 459.4 L579.8 458.9 L580.3 458.3 L580.7 457.5 L580.8 456.7 L580.7 455.9 L580.3 455.1 L573.9 444.8 L573.4 444.2 L572.8 443.8 L572.1 443.5 L571.4 443.4 L570.6 443.5 L555.8 447.2 L555.0 447.5 L554.4 448.0 L540.6 461.9 L540.1 462.5 L539.8 463.3 L539.7 464.0 L539.7 472.4 L539.8 473.2 L540.1 474.0 L540.6 474.6 L541.3 475.1 L542.1 475.3 Z " fill="rgb(250,142,243)"/>
<path d="M585.6 456.4 L585.0 456.8 L584.5 457.4 L584.2 458.1 L584.0 458.9 L584.1 459.7 L584.4 460.4 L593.4 477.4 L593.9 478.2 L594.7 478.7 L597.8 480.2 L598.6 480.4 L599.5 480.5 L600.3 480.2 L601.0 479.8 L621.9 462.4 L622.5 461.8 L622.8 461.1 L623.0 460.3 L623.2 456.2 L623.1 455.3 L622.8 454.6 L616.3 442.9 L615.9 442.3 L615.3 441.8 L614.6 441.5 L613.8 441.4 L613.0 441.5 L612.3 441.8 Z " fill="rgb(250,140,242)"/>
<path d="M624.8 460.3 L624.9 461.2 L625.2 461.9 L625.7 462.6 L639.0 475.9 L639.6 476.4 L640.4 476.7 L641.1 476.8 L641.9 476.7 L642.6 476.4 L652.8 470.5 L653.4 470.0 L653.8 469.5 L654.2 468.8 L654.3 468.1 L655.1 457.9 L655.1 456.9 L654.7 456.0 L651.4 450.9 L650.9 450.3 L650.3 449.8 L649.6 449.6 L648.9 449.5 L648.1 449.6 L627.1 455.2 L626.4 455.5 L625.8 456.0 L625.3 456.6 L625.0 457.2 L624.9 458.0 Z " fill="rgb(249,138,241)"/>
<path d="M671.9 476.9 L672.6 477.1 L673.3 477.2 L674.0 477.0 L674.7 476.7 L675.3 476.2 L675.7 475.6 L676.0 474.9 L676.1 474.2 L676.1 458.3 L676.0 457.5 L675.6 456.7 L675.1 456.1 L674.4 455.6 L673.6 455.4 L672.7 455.4 L659.4 457.1 L658.6 457.3 L657.9 457.7 L657.3 458.3 L657.0 459.0 L656.8 459.8 L656.2 467.6 L656.2 468.3 L656.4 469.0 L656.8 469.6 L657.3 470.1 L657.9 470.5 Z " fill="rgb(249,137,240)"/>
<path d="M583.5 462.5 L583.0 461.9 L582.4 461.4 L581.7 461.0 L581.0 460.9 L580.2 461.0 L579.5 461.2 L551.6 475.1 L551.0 475.5 L550.5 476.0 L550.1 476.7 L550.0 477.5 L550.0 478.2 L550.2 478.9 L550.6 479.6 L551.1 480.1 L566.1 491.6 L566.7 492.0 L567.3 492.2 L568.1 492.2 L568.8 492.1 L569.4 491.8 L589.5 480.1 L590.1 479.6 L590.6 479.0 L590.9 478.3 L591.0 477.6 L590.9 476.8 L590.6 476.1 Z " fill="rgb(248,134,239)"/>
<path d="M602.5 480.9 L602.0 481.5 L601.6 482.1 L601.5 482.9 L601.5 483.7 L601.7 484.4 L602.9 487.1 L603.3 487.7 L603.9 488.3 L604.6 488.6 L626.3 497.0 L627.1 497.2 L627.9 497.1 L628.7 496.9 L629.4 496.4 L638.2 488.3 L638.7 487.7 L639.0 487.0 L639.2 486.3 L639.5 480.4 L639.4 479.6 L639.1 478.8 L638.6 478.1 L625.7 465.2 L625.1 464.7 L624.4 464.4 L623.7 464.3 L623.0 464.3 L622.3 464.6 L621.7 465.0 Z " fill="rgb(249,138,241)"/>
<path d="M641.0 485.7 L641.1 486.4 L641.3 487.2 L641.8 487.8 L642.4 488.4 L653.7 495.6 L654.4 495.9 L655.2 496.0 L656.0 496.0 L656.7 495.7 L674.4 486.8 L675.1 486.3 L675.7 485.7 L676.0 485.0 L676.1 484.1 L676.1 482.8 L676.0 481.9 L675.6 481.1 L675.1 480.5 L674.3 480.0 L656.5 471.9 L655.8 471.6 L655.1 471.6 L654.4 471.7 L653.7 472.0 L642.8 478.4 L642.2 478.9 L641.7 479.4 L641.4 480.1 L641.3 480.8 Z " fill="rgb(251,145,244)"/>
<path d="M566.8 495.8 L566.6 494.9 L566.2 494.2 L565.6 493.6 L545.8 478.3 L545.2 477.9 L544.6 477.7 L543.3 477.5 L542.6 477.4 L541.8 477.5 L541.1 477.8 L540.5 478.3 L540.1 478.9 L539.8 479.6 L539.7 480.4 L539.7 514.7 L539.8 515.5 L540.1 516.2 L540.6 516.8 L541.2 517.3 L541.9 517.6 L542.7 517.7 L565.0 517.7 L565.8 517.6 L566.5 517.3 L567.1 516.8 L567.6 516.1 L567.9 515.3 L567.9 514.5 Z " fill="rgb(250,140,242)"/>
<path d="M601.5 490.0 L601.6 489.3 L601.5 488.7 L601.3 488.0 L599.4 483.8 L599.1 483.2 L598.6 482.7 L598.0 482.3 L594.6 480.7 L594.0 480.5 L593.2 480.4 L592.5 480.5 L591.8 480.8 L570.1 493.5 L569.5 494.0 L569.0 494.7 L568.7 495.4 L568.6 496.3 L569.8 514.9 L569.9 515.6 L570.2 516.3 L570.7 516.9 L571.3 517.3 L572.0 517.6 L572.8 517.7 L591.8 517.7 L592.6 517.6 L593.3 517.3 L593.9 516.8 L594.4 516.2 L594.7 515.5 Z " fill="rgb(250,142,243)"/>
<path d="M627.5 501.2 L627.3 500.4 L626.9 499.7 L626.3 499.0 L625.6 498.6 L606.5 491.3 L605.6 491.1 L604.8 491.1 L604.0 491.4 L603.3 491.9 L602.8 492.6 L602.5 493.3 L597.0 513.9 L596.9 514.7 L597.0 515.5 L597.3 516.2 L597.8 516.8 L598.4 517.3 L599.1 517.6 L599.9 517.7 L625.3 517.7 L626.1 517.6 L626.9 517.3 L627.5 516.8 L628.0 516.1 L628.2 515.3 L628.3 514.5 Z " fill="rgb(251,145,244)"/>
<path d="M630.2 498.1 L629.6 498.8 L629.3 499.6 L629.2 500.5 L630.1 514.9 L630.3 515.6 L630.6 516.3 L631.1 516.9 L631.7 517.3 L632.4 517.6 L633.1 517.7 L652.6 517.7 L653.4 517.6 L654.2 517.3 L654.8 516.7 L655.3 516.1 L655.6 515.3 L655.6 514.5 L654.4 499.5 L654.3 498.9 L654.0 498.2 L653.6 497.7 L653.0 497.2 L642.0 490.3 L641.3 489.9 L640.6 489.8 L639.8 489.9 L639.0 490.1 L638.4 490.6 Z " fill="rgb(251,144,244)"/>
<path d="M657.5 514.9 L657.6 515.7 L657.9 516.3 L658.4 516.9 L659.0 517.3 L659.7 517.6 L660.5 517.7 L673.1 517.7 L673.9 517.6 L674.6 517.3 L675.2 516.8 L675.7 516.2 L676.0 515.5 L676.1 514.7 L676.1 492.9 L676.0 492.1 L675.7 491.4 L675.3 490.8 L674.7 490.3 L674.0 490.0 L673.2 489.9 L672.5 489.9 L671.8 490.2 L657.9 497.2 L657.3 497.5 L656.8 498.1 L656.5 498.7 L656.3 499.4 L656.2 500.1 Z " fill="rgb(248,135,239)"/>
<path d="M545.4 430.4 L544.9 429.7 L544.3 429.2 L543.6 428.9 L542.8 428.7 L542.0 428.8 L541.3 429.1 L540.6 429.6 L540.1 430.2 L539.8 430.9 L539.7 431.7 L539.7 453.0 L539.8 453.8 L540.1 454.5 L540.6 455.1 L541.2 455.6 L541.9 455.9 L542.7 456.0 L543.5 455.9 L544.2 455.6 L544.8 455.1 L551.9 448.0 L552.4 447.4 L552.7 446.7 L552.8 446.0 L552.7 445.2 L552.5 444.5 Z " fill="rgb(250,142,243)"/>
<ellipse cx="588.1" cy="401.4" rx="2.5" ry="1.35" fill="#433f8e" transform="rotate(13 588.1 401.4)"/>
<ellipse cx="629.2" cy="397.9" rx="2.5" ry="1.35" fill="#433f8e" transform="rotate(89 629.2 397.9)"/>
<ellipse cx="621.2" cy="395.6" rx="2.5" ry="1.35" fill="#433f8e" transform="rotate(18 621.2 395.6)"/>
<ellipse cx="564.9" cy="420.9" rx="2.5" ry="1.35" fill="#433f8e" transform="rotate(118 564.9 420.9)"/>
<ellipse cx="542.6" cy="421.1" rx="2.5" ry="1.35" fill="#433f8e" transform="rotate(96 542.6 421.1)"/>
<ellipse cx="575.6" cy="433.3" rx="2.5" ry="1.35" fill="#433f8e" transform="rotate(88 575.6 433.3)"/>
<ellipse cx="610.7" cy="426.2" rx="2.5" ry="1.35" fill="#433f8e" transform="rotate(143 610.7 426.2)"/>
<ellipse cx="653.3" cy="406.6" rx="2.5" ry="1.35" fill="#433f8e" transform="rotate(12 653.3 406.6)"/>
<ellipse cx="662.2" cy="431.3" rx="2.5" ry="1.35" fill="#433f8e" transform="rotate(79 662.2 431.3)"/>
<ellipse cx="653.1" cy="434.1" rx="2.5" ry="1.35" fill="#433f8e" transform="rotate(165 653.1 434.1)"/>
<ellipse cx="556.2" cy="445.6" rx="2.5" ry="1.35" fill="#433f8e" transform="rotate(84 556.2 445.6)"/>
<ellipse cx="571.2" cy="441.1" rx="2.5" ry="1.35" fill="#433f8e" transform="rotate(17 571.2 441.1)"/>
<ellipse cx="583.3" cy="457.5" rx="2.5" ry="1.35" fill="#433f8e" transform="rotate(17 583.3 457.5)"/>
<ellipse cx="614.9" cy="439.4" rx="2.5" ry="1.35" fill="#433f8e" transform="rotate(145 614.9 439.4)"/>
<ellipse cx="624.7" cy="452.8" rx="2.5" ry="1.35" fill="#433f8e" transform="rotate(124 624.7 452.8)"/>
<ellipse cx="545.5" cy="473.8" rx="2.5" ry="1.35" fill="#433f8e" transform="rotate(77 545.5 473.8)"/>
<ellipse cx="593.0" cy="480.9" rx="2.5" ry="1.35" fill="#433f8e" transform="rotate(149 593.0 480.9)"/>
<ellipse cx="599.6" cy="481.0" rx="2.5" ry="1.35" fill="#433f8e" transform="rotate(73 599.6 481.0)"/>
<ellipse cx="566.9" cy="493.9" rx="2.5" ry="1.35" fill="#433f8e" transform="rotate(30 566.9 493.9)"/>
<ellipse cx="627.1" cy="498.2" rx="2.5" ry="1.35" fill="#433f8e" transform="rotate(94 627.1 498.2)"/>
<ellipse cx="638.8" cy="486.2" rx="2.5" ry="1.35" fill="#433f8e" transform="rotate(150 638.8 486.2)"/>
<ellipse cx="655.6" cy="496.8" rx="2.5" ry="1.35" fill="#433f8e" transform="rotate(158 655.6 496.8)"/>
<ellipse cx="550.9" cy="388.7" rx="2.6" ry="1.4" fill="#3f3586" transform="rotate(50 550.9 388.7)"/>
<ellipse cx="589.1" cy="388.3" rx="2.6" ry="1.4" fill="#3f3586" transform="rotate(37 589.1 388.3)"/>
<ellipse cx="634.6" cy="386.5" rx="2.6" ry="1.4" fill="#3f3586" transform="rotate(79 634.6 386.5)"/>
<ellipse cx="558.6" cy="415.3" rx="2.6" ry="1.4" fill="#3f3586" transform="rotate(106 558.6 415.3)"/>
<ellipse cx="578.7" cy="415.7" rx="2.6" ry="1.4" fill="#3f3586" transform="rotate(49 578.7 415.7)"/>
<ellipse cx="602.4" cy="407.5" rx="2.6" ry="1.4" fill="#3f3586" transform="rotate(126 602.4 407.5)"/>
<ellipse cx="642.2" cy="396.7" rx="2.6" ry="1.4" fill="#3f3586" transform="rotate(112 642.2 396.7)"/>
<ellipse cx="663.7" cy="413.7" rx="2.6" ry="1.4" fill="#3f3586" transform="rotate(39 663.7 413.7)"/>
<ellipse cx="632.7" cy="413.6" rx="2.6" ry="1.4" fill="#3f3586" transform="rotate(148 632.7 413.6)"/>
<ellipse cx="556.2" cy="437.5" rx="2.6" ry="1.4" fill="#3f3586" transform="rotate(155 556.2 437.5)"/>
<ellipse cx="591.4" cy="434.6" rx="2.6" ry="1.4" fill="#3f3586" transform="rotate(107 591.4 434.6)"/>
<ellipse cx="642.5" cy="439.1" rx="2.6" ry="1.4" fill="#3f3586" transform="rotate(77 642.5 439.1)"/>
<ellipse cx="662.5" cy="446.6" rx="2.6" ry="1.4" fill="#3f3586" transform="rotate(22 662.5 446.6)"/>
<ellipse cx="605.0" cy="460.2" rx="2.6" ry="1.4" fill="#3f3586" transform="rotate(78 605.0 460.2)"/>
<ellipse cx="645.4" cy="464.4" rx="2.6" ry="1.4" fill="#3f3586" transform="rotate(158 645.4 464.4)"/>
<ellipse cx="665.5" cy="464.4" rx="2.6" ry="1.4" fill="#3f3586" transform="rotate(99 665.5 464.4)"/>
<ellipse cx="564.0" cy="482.2" rx="2.6" ry="1.4" fill="#3f3586" transform="rotate(89 564.0 482.2)"/>
<ellipse cx="656.9" cy="488.3" rx="2.6" ry="1.4" fill="#3f3586" transform="rotate(25 656.9 488.3)"/>
<ellipse cx="550.8" cy="499.6" rx="2.6" ry="1.4" fill="#3f3586" transform="rotate(141 550.8 499.6)"/>
<ellipse cx="583.4" cy="500.1" rx="2.6" ry="1.4" fill="#3f3586" transform="rotate(83 583.4 500.1)"/>
<ellipse cx="609.0" cy="508.8" rx="2.6" ry="1.4" fill="#3f3586" transform="rotate(103 609.0 508.8)"/>
<ellipse cx="642.7" cy="508.2" rx="2.6" ry="1.4" fill="#3f3586" transform="rotate(95 642.7 508.2)"/>
<ellipse cx="668.7" cy="505.0" rx="2.6" ry="1.4" fill="#3f3586" transform="rotate(141 668.7 505.0)"/>
<ellipse cx="543.1" cy="442.4" rx="2.6" ry="1.4" fill="#3f3586" transform="rotate(155 543.1 442.4)"/>
</g>
<clipPath id="clip4"><rect x="404.3" y="527.1" width="130.8" height="131.4"/></clipPath>
<g clip-path="url(#clip4)">
<rect x="404.3" y="527.1" width="130.8" height="131.4" fill="#fcf2fa"/>
<path d="M426.7 528.2 L426.5 527.4 L426.2 526.6 L425.6 525.9 L424.9 525.4 L424.1 525.1 L423.2 525.0 L405.7 525.0 L404.7 525.1 L403.9 525.4 L403.2 526.0 L402.6 526.7 L402.3 527.5 L402.2 528.5 L402.2 559.0 L402.3 559.9 L402.6 560.7 L403.1 561.4 L403.8 562.0 L404.6 562.4 L405.5 562.5 L409.5 562.6 L410.6 562.5 L411.6 562.0 L426.5 552.0 L427.2 551.4 L427.7 550.7 L428.0 549.8 L428.1 548.9 Z " fill="rgb(251,163,244)"/>
<path d="M429.7 547.8 L429.9 548.7 L430.3 549.6 L431.0 550.3 L431.8 550.8 L432.7 551.1 L455.2 554.6 L456.1 554.6 L456.9 554.4 L457.6 554.0 L458.3 553.5 L458.5 553.3 L459.0 552.7 L459.3 552.0 L459.5 551.2 L461.7 528.8 L461.7 527.8 L461.4 526.9 L460.9 526.1 L460.1 525.5 L459.2 525.1 L458.3 525.0 L431.9 525.0 L431.0 525.1 L430.1 525.5 L429.4 526.1 L428.8 526.8 L428.5 527.7 L428.4 528.7 Z " fill="rgb(248,154,240)"/>
<path d="M501.4 528.5 L501.3 527.5 L501.0 526.7 L500.4 526.0 L499.7 525.4 L498.9 525.1 L497.9 525.0 L467.0 525.0 L466.2 525.1 L465.4 525.4 L464.7 525.9 L464.1 526.5 L463.7 527.3 L463.5 528.1 L461.5 548.4 L461.5 549.3 L461.8 550.2 L462.3 551.0 L463.0 551.6 L463.8 552.0 L464.7 552.2 L496.3 554.1 L497.1 554.1 L497.9 553.9 L498.6 553.5 L499.2 552.9 L500.6 551.2 L501.1 550.5 L501.4 549.8 L501.4 549.0 Z " fill="rgb(251,165,245)"/>
<path d="M503.2 546.9 L503.3 547.9 L503.7 548.8 L504.3 549.5 L505.1 550.1 L506.0 550.4 L533.1 555.5 L534.0 555.5 L534.8 555.4 L535.6 555.0 L536.3 554.4 L536.8 553.7 L537.1 552.9 L537.2 552.0 L537.2 528.5 L537.1 527.5 L536.8 526.7 L536.2 526.0 L535.5 525.4 L534.7 525.1 L533.8 525.0 L506.7 525.0 L505.7 525.1 L504.9 525.4 L504.2 526.0 L503.6 526.7 L503.3 527.5 L503.2 528.5 Z " fill="rgb(248,155,240)"/>
<path d="M456.4 596.3 L457.2 595.8 L457.7 595.0 L458.1 594.1 L458.2 593.2 L456.7 559.3 L456.5 558.4 L456.1 557.5 L455.4 556.8 L454.6 556.3 L453.7 556.0 L430.6 552.5 L429.8 552.4 L428.9 552.6 L428.1 553.0 L415.2 561.7 L414.5 562.3 L414.0 563.1 L413.7 564.0 L413.7 565.0 L413.9 565.9 L414.4 566.7 L435.7 594.4 L436.2 595.0 L437.0 595.4 L437.8 595.7 L451.2 598.4 L452.0 598.5 L452.8 598.3 L453.6 598.0 Z " fill="rgb(250,161,243)"/>
<path d="M497.6 559.2 L497.5 558.3 L497.2 557.5 L496.6 556.8 L496.0 556.3 L495.2 555.9 L494.3 555.7 L462.2 553.7 L461.1 553.8 L460.2 554.2 L459.4 554.8 L459.2 555.0 L458.7 555.8 L458.4 556.6 L458.3 557.6 L459.8 592.2 L460.0 593.1 L460.4 594.0 L461.0 594.7 L461.8 595.2 L462.7 595.5 L469.4 596.6 L470.3 596.6 L471.2 596.4 L472.0 596.0 L496.1 579.4 L496.7 578.9 L497.2 578.2 L497.5 577.4 L497.6 576.6 Z " fill="rgb(252,166,246)"/>
<path d="M535.6 571.9 L536.3 571.3 L536.8 570.6 L537.1 569.8 L537.2 568.9 L537.2 560.9 L537.1 559.9 L536.7 559.1 L536.1 558.3 L535.3 557.8 L534.4 557.5 L504.6 551.9 L503.7 551.8 L502.8 552.0 L502.0 552.4 L501.3 553.0 L500.1 554.5 L499.7 555.1 L499.4 555.9 L499.3 556.7 L499.3 576.3 L499.4 577.2 L499.8 578.1 L500.3 578.8 L501.1 579.4 L511.4 585.1 L512.2 585.5 L513.2 585.6 L514.1 585.4 L515.0 585.0 Z " fill="rgb(248,155,240)"/>
<path d="M431.1 597.9 L431.8 597.4 L432.3 596.7 L432.7 595.9 L432.9 595.1 L432.9 594.2 L432.6 593.4 L432.2 592.7 L411.4 565.7 L410.7 565.0 L409.8 564.5 L408.8 564.3 L405.8 564.2 L404.8 564.3 L404.0 564.6 L403.2 565.2 L402.6 565.9 L402.3 566.8 L402.2 567.7 L402.2 607.4 L402.3 608.3 L402.6 609.2 L403.1 609.9 L403.8 610.4 L404.7 610.8 L405.6 610.9 L406.5 610.9 L407.3 610.5 Z " fill="rgb(250,161,243)"/>
<path d="M500.4 580.9 L499.5 580.6 L498.5 580.5 L497.6 580.6 L496.7 581.1 L475.5 595.7 L474.8 596.3 L474.3 597.2 L474.0 598.1 L474.0 599.1 L474.3 600.0 L474.9 600.9 L492.4 620.9 L493.0 621.5 L493.8 621.9 L494.7 622.1 L495.6 622.1 L496.4 621.8 L517.0 612.7 L517.8 612.2 L518.4 611.6 L518.8 610.9 L519.1 610.1 L519.1 609.2 L519.0 608.4 L512.9 589.1 L512.6 588.2 L512.0 587.6 L511.3 587.0 Z " fill="rgb(248,156,241)"/>
<path d="M516.5 586.1 L515.8 586.7 L515.3 587.4 L515.0 588.3 L514.9 589.2 L515.0 590.1 L521.1 609.5 L521.4 610.3 L521.9 610.9 L522.5 611.4 L523.3 611.8 L532.6 615.0 L533.5 615.2 L534.5 615.1 L535.4 614.8 L536.1 614.3 L536.7 613.5 L537.1 612.6 L537.2 611.7 L537.2 579.2 L537.1 578.3 L536.8 577.5 L536.2 576.7 L535.4 576.2 L534.6 575.8 L533.6 575.7 L532.7 575.9 L531.9 576.3 Z " fill="rgb(250,162,244)"/>
<path d="M404.5 613.9 L403.8 614.5 L403.2 615.1 L402.9 616.0 L402.7 616.8 L402.8 617.7 L403.1 618.6 L403.6 619.3 L404.3 619.9 L425.7 634.2 L426.6 634.7 L427.6 634.8 L428.6 634.7 L429.5 634.3 L446.1 624.1 L446.9 623.5 L447.4 622.7 L447.7 621.8 L451.0 603.6 L451.1 602.7 L450.9 601.8 L450.5 601.0 L449.9 600.3 L449.1 599.8 L448.3 599.6 L437.3 597.4 L436.5 597.3 L435.8 597.4 L435.0 597.7 Z " fill="rgb(252,166,246)"/>
<path d="M460.6 596.8 L459.7 596.8 L458.9 597.0 L458.2 597.3 L454.8 599.3 L454.0 599.9 L453.4 600.7 L453.1 601.7 L449.4 622.3 L449.3 623.2 L449.5 624.0 L449.9 624.8 L456.6 635.2 L457.1 635.8 L457.7 636.3 L458.5 636.7 L485.5 644.9 L486.3 645.1 L487.1 645.0 L488.0 644.8 L488.7 644.3 L489.3 643.7 L489.7 643.0 L489.9 642.2 L492.7 625.8 L492.7 624.7 L492.4 623.8 L491.9 622.9 L471.4 599.5 L470.8 598.9 L470.1 598.5 L469.3 598.3 Z " fill="rgb(248,154,240)"/>
<path d="M491.0 646.3 L490.9 647.1 L491.1 648.0 L494.4 658.2 L494.8 659.0 L495.3 659.7 L496.0 660.2 L496.9 660.5 L497.7 660.6 L499.4 660.6 L500.2 660.5 L501.0 660.3 L501.7 659.8 L536.1 629.6 L536.7 628.9 L537.1 628.0 L537.2 627.0 L537.2 620.9 L537.1 620.1 L536.8 619.3 L536.3 618.6 L535.7 618.0 L534.9 617.6 L522.3 613.2 L521.4 613.0 L520.5 613.1 L519.7 613.3 L496.3 623.7 L495.6 624.1 L495.0 624.8 L494.5 625.5 L494.3 626.3 Z " fill="rgb(248,154,240)"/>
<path d="M426.6 638.9 L426.5 638.0 L426.2 637.2 L425.7 636.4 L425.0 635.8 L407.6 624.2 L406.7 623.8 L405.8 623.6 L404.9 623.7 L404.0 624.0 L403.2 624.6 L402.6 625.3 L402.3 626.2 L402.2 627.1 L402.2 657.1 L402.3 658.1 L402.6 658.9 L403.2 659.6 L403.9 660.2 L404.7 660.5 L405.7 660.6 L421.9 660.6 L422.7 660.5 L423.5 660.2 L424.3 659.7 L424.8 659.0 L425.2 658.2 L425.4 657.4 Z " fill="rgb(252,166,246)"/>
<path d="M427.1 656.9 L427.2 657.9 L427.5 658.8 L428.0 659.5 L428.8 660.1 L429.6 660.5 L430.6 660.6 L444.0 660.6 L444.8 660.6 L445.6 660.3 L446.3 659.8 L446.8 659.2 L447.2 658.4 L455.1 638.8 L455.3 638.0 L455.3 637.1 L455.1 636.3 L454.8 635.6 L449.8 627.9 L449.2 627.2 L448.5 626.7 L447.6 626.3 L446.7 626.3 L445.9 626.4 L445.0 626.8 L429.9 636.0 L429.3 636.6 L428.8 637.2 L428.4 638.0 L428.3 638.8 Z " fill="rgb(249,158,242)"/>
<path d="M489.8 649.6 L489.5 648.9 L489.0 648.2 L488.3 647.7 L487.5 647.4 L460.3 639.0 L459.4 638.8 L458.6 638.9 L457.8 639.2 L457.0 639.7 L456.4 640.3 L456.0 641.0 L450.1 655.9 L449.9 656.8 L449.9 657.8 L450.2 658.7 L450.8 659.5 L451.5 660.1 L452.4 660.5 L453.4 660.6 L488.6 660.6 L489.5 660.5 L490.4 660.2 L491.1 659.6 L491.7 658.8 L492.0 657.9 L492.1 657.0 L491.9 656.1 Z " fill="rgb(248,156,241)"/>
<path d="M510.2 654.5 L509.6 655.2 L509.2 656.1 L509.1 657.0 L509.1 657.9 L509.5 658.8 L510.0 659.6 L510.8 660.2 L511.6 660.5 L512.6 660.6 L533.8 660.6 L534.7 660.5 L535.5 660.2 L536.2 659.6 L536.8 658.9 L537.1 658.1 L537.2 657.1 L537.2 638.6 L537.1 637.7 L536.8 636.9 L536.3 636.1 L535.6 635.6 L534.8 635.2 L533.9 635.1 L533.0 635.1 L532.2 635.4 L531.4 635.9 Z " fill="rgb(252,166,246)"/>
<ellipse cx="451.8" cy="601.1" rx="2.5" ry="1.35" fill="#433f8e" transform="rotate(79 451.8 601.1)"/>
<ellipse cx="470.9" cy="600.1" rx="2.5" ry="1.35" fill="#433f8e" transform="rotate(138 470.9 600.1)"/>
<ellipse cx="514.3" cy="589.5" rx="2.5" ry="1.35" fill="#433f8e" transform="rotate(133 514.3 589.5)"/>
<ellipse cx="424.7" cy="634.4" rx="2.5" ry="1.35" fill="#433f8e" transform="rotate(72 424.7 634.4)"/>
<ellipse cx="456.4" cy="636.3" rx="2.5" ry="1.35" fill="#433f8e" transform="rotate(90 456.4 636.3)"/>
<ellipse cx="490.3" cy="648.0" rx="2.5" ry="1.35" fill="#433f8e" transform="rotate(48 490.3 648.0)"/>
<ellipse cx="440.3" cy="536.9" rx="2.6" ry="1.4" fill="#3f3586" transform="rotate(127 440.3 536.9)"/>
<ellipse cx="521.9" cy="540.2" rx="2.6" ry="1.4" fill="#3f3586" transform="rotate(114 521.9 540.2)"/>
<ellipse cx="483.7" cy="569.4" rx="2.6" ry="1.4" fill="#3f3586" transform="rotate(35 483.7 569.4)"/>
<ellipse cx="516.8" cy="569.7" rx="2.6" ry="1.4" fill="#3f3586" transform="rotate(52 516.8 569.7)"/>
<ellipse cx="407.3" cy="589.7" rx="2.6" ry="1.4" fill="#3f3586" transform="rotate(63 407.3 589.7)"/>
<ellipse cx="499.2" cy="599.5" rx="2.6" ry="1.4" fill="#3f3586" transform="rotate(39 499.2 599.5)"/>
<ellipse cx="425.6" cy="618.7" rx="2.6" ry="1.4" fill="#3f3586" transform="rotate(70 425.6 618.7)"/>
<ellipse cx="465.7" cy="631.0" rx="2.6" ry="1.4" fill="#3f3586" transform="rotate(93 465.7 631.0)"/>
<ellipse cx="510.3" cy="637.5" rx="2.6" ry="1.4" fill="#3f3586" transform="rotate(27 510.3 637.5)"/>
<ellipse cx="412.1" cy="643.3" rx="2.6" ry="1.4" fill="#3f3586" transform="rotate(96 412.1 643.3)"/>
<ellipse cx="442.8" cy="640.4" rx="2.6" ry="1.4" fill="#3f3586" transform="rotate(145 442.8 640.4)"/>
<ellipse cx="460.4" cy="652.3" rx="2.6" ry="1.4" fill="#3f3586" transform="rotate(134 460.4 652.3)"/>
<ellipse cx="528.8" cy="649.7" rx="2.6" ry="1.4" fill="#3f3586" transform="rotate(62 528.8 649.7)"/>
</g>
<clipPath id="clip5"><rect x="541.8" y="527.1" width="132.2" height="131.4"/></clipPath>
<g clip-path="url(#clip5)">
<rect x="541.8" y="527.1" width="132.2" height="131.4" fill="#fcf2fa"/>
<path d="M555.2 542.5 L556.0 542.4 L556.7 542.1 L557.2 541.6 L558.4 540.0 L558.7 539.5 L558.9 538.9 L558.9 538.2 L557.8 527.2 L557.7 526.6 L557.4 526.1 L557.0 525.6 L556.5 525.2 L556.0 525.0 L555.3 525.0 L542.1 525.0 L541.5 525.0 L540.9 525.3 L540.4 525.7 L540.0 526.2 L539.7 526.8 L539.6 527.5 L539.6 540.0 L539.7 540.7 L540.0 541.3 L540.4 541.8 L540.9 542.2 L541.5 542.4 L542.1 542.5 Z " fill="rgb(249,157,238)"/>
<path d="M576.3 540.7 L576.9 540.7 L577.5 540.5 L578.1 540.2 L578.5 539.7 L578.9 539.2 L579.0 538.6 L580.8 527.9 L580.8 527.2 L580.7 526.6 L580.4 526.1 L580.0 525.6 L579.5 525.3 L579.0 525.0 L578.4 525.0 L562.1 525.0 L561.4 525.0 L560.8 525.3 L560.2 525.8 L559.8 526.3 L559.6 527.0 L559.6 527.7 L560.5 536.7 L560.7 537.4 L561.0 538.0 L561.4 538.5 L562.0 538.8 L562.7 539.0 Z " fill="rgb(249,157,238)"/>
<path d="M603.8 527.5 L603.7 526.8 L603.4 526.2 L603.1 525.7 L602.5 525.3 L601.9 525.0 L601.3 525.0 L585.1 525.0 L584.5 525.0 L583.8 525.3 L583.3 525.8 L582.9 526.4 L582.7 527.0 L580.9 537.5 L580.9 538.2 L581.0 538.7 L581.3 539.3 L581.7 539.8 L582.2 540.1 L582.7 540.4 L595.8 544.1 L596.5 544.2 L597.1 544.1 L597.7 543.9 L602.5 541.2 L603.0 540.8 L603.4 540.3 L603.7 539.7 L603.8 539.1 Z " fill="rgb(248,152,236)"/>
<path d="M624.8 540.4 L625.5 540.2 L626.1 539.8 L626.5 539.3 L626.8 538.7 L626.9 538.0 L626.9 527.5 L626.8 526.8 L626.6 526.2 L626.2 525.7 L625.7 525.3 L625.1 525.0 L624.4 525.0 L608.0 525.0 L607.3 525.0 L606.7 525.3 L606.2 525.7 L605.8 526.2 L605.6 526.8 L605.5 527.5 L605.5 539.5 L605.6 540.2 L605.9 540.9 L606.3 541.4 L607.4 542.4 L608.1 542.8 L608.8 543.0 L609.5 543.0 Z " fill="rgb(246,147,233)"/>
<path d="M648.1 527.7 L648.1 527.0 L647.9 526.3 L647.5 525.8 L647.0 525.3 L646.3 525.0 L645.6 525.0 L631.1 525.0 L630.5 525.0 L629.9 525.3 L629.3 525.7 L628.9 526.2 L628.7 526.8 L628.6 527.5 L628.6 539.9 L628.7 540.6 L629.0 541.2 L630.1 543.1 L630.6 543.7 L631.2 544.1 L631.9 544.3 L632.6 544.3 L644.7 542.8 L645.3 542.6 L645.9 542.3 L646.4 541.8 L646.7 541.2 L646.8 540.6 Z " fill="rgb(246,148,234)"/>
<path d="M674.0 543.5 L674.5 543.3 L675.1 543.1 L675.5 542.7 L675.9 542.2 L676.1 541.6 L676.1 541.0 L676.1 527.5 L676.1 526.8 L675.8 526.2 L675.4 525.7 L674.9 525.3 L674.3 525.0 L673.6 525.0 L652.4 525.0 L651.8 525.0 L651.2 525.2 L650.7 525.6 L650.3 526.1 L650.0 526.6 L649.9 527.2 L648.4 542.1 L648.4 542.7 L648.6 543.3 L648.9 543.9 L650.0 545.3 L650.5 545.7 L651.0 546.0 L651.6 546.2 L652.3 546.2 Z " fill="rgb(247,149,234)"/>
<path d="M557.2 559.4 L557.8 559.2 L558.3 558.8 L558.6 558.3 L558.9 557.7 L559.0 557.1 L558.9 556.5 L556.6 546.2 L556.4 545.6 L556.0 545.0 L555.5 544.6 L554.9 544.3 L554.2 544.2 L542.1 544.2 L541.5 544.3 L540.9 544.6 L540.4 545.0 L540.0 545.5 L539.7 546.1 L539.6 546.7 L539.6 561.3 L539.7 562.0 L540.0 562.6 L540.4 563.1 L540.9 563.5 L541.6 563.8 L542.2 563.8 L542.9 563.7 Z " fill="rgb(247,149,234)"/>
<path d="M561.7 540.6 L561.1 540.6 L560.4 540.7 L559.9 541.0 L559.4 541.5 L558.5 542.7 L558.2 543.3 L558.0 544.0 L558.1 544.7 L560.9 557.6 L561.2 558.3 L561.6 558.9 L562.2 559.3 L565.6 561.0 L566.2 561.2 L566.9 561.2 L567.5 561.1 L568.1 560.8 L575.3 555.7 L575.8 555.2 L576.2 554.6 L576.4 553.9 L577.2 544.9 L577.2 544.3 L577.0 543.7 L576.6 543.1 L576.2 542.7 L575.6 542.4 L575.0 542.2 Z " fill="rgb(250,158,239)"/>
<path d="M582.1 542.0 L581.5 541.9 L580.9 541.9 L580.3 542.1 L579.8 542.5 L579.4 543.0 L579.1 543.5 L579.0 544.1 L578.1 553.2 L578.2 553.8 L578.3 554.4 L578.6 555.0 L579.1 555.4 L579.6 555.7 L588.9 559.9 L589.5 560.1 L590.1 560.1 L590.7 560.0 L591.3 559.7 L591.7 559.3 L592.1 558.8 L592.3 558.3 L595.2 548.3 L595.3 547.6 L595.2 547.0 L595.0 546.4 L594.6 545.9 L594.1 545.5 L593.5 545.2 Z " fill="rgb(246,146,233)"/>
<path d="M594.0 558.6 L593.9 559.3 L594.0 559.9 L594.2 560.6 L594.6 561.1 L595.2 561.5 L595.8 561.7 L596.4 561.8 L597.1 561.7 L609.2 558.3 L609.8 558.0 L610.3 557.6 L610.7 557.0 L610.9 556.4 L611.0 555.7 L610.8 555.1 L607.6 545.2 L607.3 544.6 L606.8 544.1 L605.8 543.2 L605.3 542.9 L604.8 542.7 L604.1 542.6 L603.5 542.7 L603.0 542.9 L598.5 545.4 L598.0 545.8 L597.6 546.3 L597.4 546.9 Z " fill="rgb(248,152,236)"/>
<path d="M613.2 556.8 L613.6 557.5 L614.2 558.1 L616.8 559.9 L617.5 560.3 L618.2 560.4 L618.9 560.3 L619.5 560.0 L627.0 555.6 L627.5 555.1 L627.9 554.6 L628.1 553.9 L629.5 546.5 L629.5 545.9 L629.4 545.3 L629.2 544.8 L628.2 543.2 L627.8 542.7 L627.4 542.4 L626.8 542.1 L626.2 542.0 L625.6 542.0 L612.1 544.3 L611.5 544.5 L611.0 544.8 L610.5 545.2 L610.2 545.7 L610.0 546.3 L610.0 546.9 L610.1 547.5 Z " fill="rgb(246,147,233)"/>
<path d="M649.5 548.5 L649.5 547.9 L649.3 547.3 L649.0 546.7 L647.9 545.4 L647.5 544.9 L646.9 544.6 L646.3 544.4 L645.6 544.4 L633.1 546.0 L632.5 546.1 L631.9 546.4 L631.5 546.9 L631.1 547.4 L630.9 548.0 L629.9 553.5 L629.9 554.0 L630.0 554.6 L630.3 555.2 L630.6 555.6 L631.1 556.0 L639.6 561.3 L640.2 561.6 L640.9 561.7 L641.5 561.6 L642.1 561.4 L647.4 558.5 L647.9 558.1 L648.3 557.6 L648.6 557.1 L648.7 556.5 Z " fill="rgb(247,150,235)"/>
<path d="M653.3 547.8 L652.6 548.0 L652.0 548.3 L651.6 548.8 L651.2 549.4 L651.1 550.0 L650.4 556.4 L650.5 557.1 L650.7 557.7 L651.1 558.3 L651.6 558.7 L655.3 561.0 L655.9 561.3 L656.5 561.4 L657.2 561.4 L657.8 561.2 L674.8 552.7 L675.3 552.3 L675.8 551.7 L676.1 551.1 L676.1 550.4 L676.1 547.8 L676.1 547.1 L675.8 546.4 L675.3 545.9 L674.7 545.5 L674.0 545.3 L673.3 545.3 Z " fill="rgb(247,151,235)"/>
<path d="M548.9 579.5 L549.6 579.8 L550.4 579.8 L565.9 578.1 L566.5 577.9 L567.1 577.6 L567.6 577.1 L567.9 576.6 L568.1 575.9 L568.1 575.2 L566.4 564.5 L566.2 563.9 L565.9 563.4 L565.5 562.9 L565.0 562.6 L561.2 560.7 L560.6 560.5 L560.0 560.4 L559.4 560.5 L541.4 565.9 L540.8 566.2 L540.4 566.6 L540.0 567.1 L539.7 567.7 L539.6 568.3 L539.6 572.5 L539.7 573.2 L540.0 573.8 L540.4 574.3 L540.9 574.7 Z " fill="rgb(249,155,237)"/>
<path d="M569.9 576.1 L570.1 576.7 L570.5 577.3 L571.0 577.8 L571.7 578.1 L572.4 578.2 L588.9 578.2 L589.7 578.1 L590.3 577.8 L590.9 577.3 L591.6 576.3 L592.0 575.9 L592.2 575.3 L592.2 574.7 L592.2 564.8 L592.1 564.1 L591.8 563.5 L591.3 562.9 L590.7 562.5 L578.5 557.1 L577.8 556.9 L577.2 556.9 L576.6 557.0 L576.0 557.3 L569.2 562.1 L568.7 562.6 L568.3 563.2 L568.1 563.8 L568.1 564.5 Z " fill="rgb(246,148,234)"/>
<path d="M617.3 563.6 L617.2 563.0 L617.0 562.5 L616.7 562.0 L616.2 561.6 L613.6 559.7 L612.9 559.4 L612.2 559.3 L611.5 559.4 L595.7 563.9 L595.1 564.1 L594.6 564.5 L594.2 565.0 L594.0 565.6 L593.9 566.3 L593.9 572.9 L594.0 573.5 L594.2 574.1 L594.6 574.6 L595.0 575.0 L595.6 575.3 L596.2 575.4 L612.0 577.0 L612.5 577.0 L613.1 576.8 L613.6 576.6 L614.1 576.2 L616.6 573.3 L617.0 572.8 L617.2 572.2 L617.3 571.6 Z " fill="rgb(249,157,238)"/>
<path d="M630.0 557.3 L629.4 557.1 L628.7 557.0 L628.0 557.0 L627.4 557.3 L620.2 561.6 L619.7 562.0 L619.3 562.5 L619.1 563.1 L619.0 563.8 L619.0 570.5 L619.1 571.1 L619.3 571.7 L619.6 572.2 L620.1 572.6 L620.7 572.9 L634.7 577.6 L635.5 577.7 L636.3 577.6 L637.1 577.3 L637.7 577.0 L638.2 576.5 L638.6 575.9 L638.8 575.2 L639.8 565.1 L639.7 564.4 L639.5 563.7 L639.1 563.2 L638.6 562.7 Z " fill="rgb(248,152,236)"/>
<path d="M642.8 563.0 L642.3 563.4 L641.9 563.8 L641.6 564.3 L641.5 564.9 L640.5 575.3 L640.5 576.0 L640.7 576.7 L641.2 577.3 L641.7 577.7 L644.9 579.4 L645.4 579.6 L646.0 579.7 L646.6 579.7 L647.2 579.5 L656.6 574.8 L657.1 574.4 L657.6 573.9 L657.8 573.3 L657.9 572.6 L657.9 571.9 L656.0 564.3 L655.7 563.7 L655.3 563.2 L654.9 562.8 L650.6 560.1 L650.0 559.8 L649.4 559.7 L648.7 559.8 L648.1 560.0 Z " fill="rgb(249,156,238)"/>
<path d="M659.2 562.3 L658.7 562.7 L658.2 563.2 L658.0 563.8 L657.9 564.5 L657.9 565.2 L659.8 572.5 L660.0 573.0 L660.3 573.5 L660.7 573.9 L661.2 574.2 L672.7 578.8 L673.4 578.9 L674.1 578.9 L674.8 578.7 L675.3 578.3 L675.8 577.8 L676.1 577.1 L676.1 576.4 L676.1 557.9 L676.1 557.3 L675.8 556.7 L675.5 556.2 L675.0 555.8 L674.4 555.5 L673.8 555.4 L673.1 555.5 L672.5 555.7 Z " fill="rgb(246,146,233)"/>
<path d="M564.5 600.9 L565.2 600.9 L565.8 600.7 L566.4 600.4 L566.9 599.9 L567.2 599.3 L567.4 598.6 L568.7 582.5 L568.7 581.9 L568.5 581.3 L568.2 580.7 L567.7 580.3 L567.2 580.0 L566.6 579.8 L566.0 579.8 L552.9 581.2 L552.3 581.4 L551.7 581.7 L551.2 582.2 L550.9 582.8 L550.7 583.4 L550.7 584.1 L552.6 597.1 L552.8 597.7 L553.1 598.3 L553.5 598.7 L554.1 599.1 L554.7 599.2 Z " fill="rgb(247,151,235)"/>
<path d="M590.1 582.0 L589.9 581.3 L589.5 580.7 L589.0 580.3 L588.4 580.0 L587.7 579.9 L572.9 579.9 L572.3 580.0 L571.8 580.2 L571.3 580.5 L570.9 581.0 L570.6 581.6 L570.5 582.2 L569.1 598.9 L569.1 599.6 L569.3 600.2 L569.6 600.8 L570.1 601.2 L570.7 601.5 L571.4 601.6 L578.2 602.2 L578.8 602.1 L579.4 602.0 L579.9 601.7 L580.3 601.3 L590.4 589.1 L590.8 588.5 L591.0 587.8 L591.0 587.1 Z " fill="rgb(248,154,237)"/>
<path d="M594.8 577.0 L594.1 577.0 L593.6 577.1 L593.0 577.4 L592.6 577.9 L592.1 578.4 L591.8 579.0 L591.6 579.7 L591.6 580.4 L592.7 587.2 L592.9 587.7 L593.2 588.2 L593.6 588.7 L603.6 597.3 L604.2 597.6 L604.8 597.8 L605.4 597.9 L606.1 597.8 L606.7 597.5 L607.1 597.0 L613.0 590.3 L613.4 589.7 L613.6 589.1 L613.7 588.4 L613.0 580.8 L612.8 580.2 L612.5 579.6 L612.0 579.1 L611.4 578.7 L610.7 578.6 Z " fill="rgb(250,158,239)"/>
<path d="M633.3 581.7 L633.4 581.1 L633.4 580.4 L633.2 579.7 L632.9 579.1 L632.4 578.7 L631.7 578.4 L619.9 574.4 L619.2 574.3 L618.5 574.4 L617.8 574.7 L617.3 575.1 L615.2 577.5 L614.8 578.0 L614.6 578.7 L614.5 579.4 L615.3 587.6 L615.4 588.3 L615.8 588.9 L616.3 589.4 L616.9 589.7 L625.8 593.1 L626.4 593.2 L627.1 593.2 L627.7 593.0 L628.2 592.7 L628.7 592.2 L629.0 591.7 Z " fill="rgb(246,148,234)"/>
<path d="M640.3 578.8 L639.6 578.6 L638.9 578.5 L638.3 578.7 L637.2 579.0 L636.5 579.4 L636.0 579.8 L635.7 580.4 L629.9 593.9 L629.7 594.6 L629.7 595.3 L630.0 596.0 L630.0 596.1 L630.4 596.6 L630.8 597.1 L631.4 597.3 L632.0 597.5 L632.6 597.5 L633.2 597.3 L646.1 592.2 L646.6 591.9 L647.1 591.5 L647.4 590.9 L647.6 590.4 L647.6 589.8 L647.5 589.1 L645.6 582.6 L645.3 582.0 L644.9 581.5 L644.4 581.1 Z " fill="rgb(249,155,237)"/>
<path d="M660.4 575.7 L659.7 575.5 L659.0 575.5 L658.4 575.8 L648.9 580.5 L648.3 580.9 L647.9 581.4 L647.6 582.1 L647.5 582.8 L647.6 583.5 L649.8 590.8 L650.1 591.3 L650.4 591.8 L653.6 595.0 L654.2 595.5 L654.9 595.7 L655.6 595.8 L656.3 595.6 L674.6 588.3 L675.1 588.0 L675.5 587.6 L675.9 587.1 L676.1 586.6 L676.1 586.0 L676.1 583.7 L676.1 583.1 L675.9 582.5 L675.5 582.0 L675.1 581.6 L674.6 581.3 Z " fill="rgb(247,149,234)"/>
<path d="M604.7 601.6 L604.6 600.9 L604.3 600.3 L603.9 599.7 L594.1 591.4 L593.6 591.0 L592.9 590.8 L592.3 590.8 L591.6 590.9 L591.0 591.2 L590.6 591.7 L582.6 601.2 L582.3 601.7 L582.1 602.3 L582.1 603.0 L582.2 603.6 L582.5 604.2 L582.9 604.7 L590.8 611.5 L591.3 611.9 L592.0 612.1 L592.7 612.1 L593.4 612.0 L594.0 611.6 L603.8 604.0 L604.3 603.4 L604.6 602.8 L604.7 602.0 Z " fill="rgb(247,150,235)"/>
<path d="M616.5 591.4 L615.9 591.2 L615.3 591.2 L614.7 591.4 L614.2 591.7 L613.7 592.1 L607.1 599.7 L606.7 600.2 L606.5 600.8 L606.4 601.4 L606.4 602.0 L606.6 602.8 L606.9 603.4 L607.4 604.0 L618.0 612.2 L618.5 612.5 L619.1 612.7 L619.7 612.7 L620.4 612.6 L620.9 612.3 L621.4 611.9 L629.2 603.0 L629.5 602.5 L629.7 601.9 L629.8 601.3 L629.8 600.1 L629.7 599.5 L629.5 598.9 L628.3 596.5 L628.0 596.0 L627.5 595.6 L627.0 595.3 Z " fill="rgb(247,149,234)"/>
<path d="M634.0 598.8 L633.5 599.1 L633.0 599.6 L632.7 600.1 L632.5 600.7 L632.4 601.3 L632.5 601.9 L632.8 602.5 L633.2 603.0 L633.7 603.3 L645.7 610.2 L646.2 610.4 L646.8 610.5 L647.4 610.4 L648.0 610.3 L648.5 609.9 L651.4 607.6 L651.8 607.2 L652.1 606.7 L652.3 606.1 L653.5 598.8 L653.5 598.2 L653.4 597.6 L653.1 597.1 L652.8 596.6 L650.2 594.0 L649.6 593.6 L648.9 593.3 L648.2 593.3 L647.5 593.4 Z " fill="rgb(246,147,233)"/>
<path d="M656.7 597.3 L656.1 597.6 L655.6 598.0 L655.3 598.6 L655.1 599.2 L654.1 605.2 L654.1 605.8 L654.2 606.4 L654.5 607.0 L655.0 607.5 L655.5 607.8 L672.5 616.4 L673.1 616.6 L673.8 616.6 L674.4 616.5 L675.0 616.3 L675.5 615.9 L675.8 615.3 L676.1 614.8 L676.1 614.1 L676.1 593.2 L676.1 592.5 L675.8 591.9 L675.3 591.3 L674.8 590.9 L674.1 590.7 L673.4 590.7 L672.7 590.9 Z " fill="rgb(248,153,236)"/>
<path d="M549.5 599.9 L550.0 599.6 L550.5 599.1 L550.8 598.6 L550.9 597.9 L550.9 597.3 L548.8 582.5 L548.6 581.8 L548.2 581.2 L547.6 580.7 L543.4 578.2 L542.8 577.9 L542.2 577.8 L541.5 577.9 L540.9 578.2 L540.4 578.6 L540.0 579.1 L539.7 579.7 L539.6 580.3 L539.6 600.5 L539.7 601.1 L540.0 601.7 L540.3 602.2 L540.8 602.6 L541.4 602.9 L542.0 603.0 L542.6 603.0 L543.2 602.8 Z " fill="rgb(246,146,233)"/>
<path d="M553.0 600.7 L552.2 600.7 L551.5 600.9 L541.1 605.6 L540.5 606.0 L540.0 606.5 L539.8 607.2 L539.6 607.9 L539.6 622.8 L539.7 623.5 L540.0 624.1 L540.4 624.6 L541.0 625.0 L541.6 625.3 L542.3 625.3 L559.2 624.1 L559.9 623.9 L560.5 623.6 L563.3 621.5 L563.8 621.0 L564.1 620.5 L564.3 619.9 L566.5 605.4 L566.5 604.8 L566.4 604.2 L566.1 603.6 L565.6 603.1 L565.1 602.8 L564.4 602.6 Z " fill="rgb(246,148,234)"/>
<path d="M570.9 603.3 L570.3 603.3 L569.7 603.5 L569.1 603.8 L568.7 604.3 L568.4 604.8 L568.2 605.4 L566.2 618.8 L566.1 619.5 L566.3 620.2 L566.6 620.7 L567.1 621.2 L567.7 621.5 L581.0 626.9 L581.6 627.0 L582.3 627.0 L582.9 626.8 L583.5 626.5 L590.1 621.2 L590.6 620.7 L590.9 620.1 L591.1 619.4 L591.3 615.6 L591.3 615.0 L591.1 614.5 L590.9 614.0 L590.5 613.5 L580.2 604.5 L579.5 604.1 L578.7 603.9 Z " fill="rgb(248,152,236)"/>
<path d="M594.0 613.8 L593.5 614.3 L593.2 614.9 L593.0 615.6 L592.8 619.0 L592.8 619.7 L593.0 620.3 L593.4 620.8 L593.9 621.3 L609.1 631.4 L609.6 631.7 L610.3 631.8 L610.9 631.8 L611.6 631.6 L612.1 631.2 L612.5 630.7 L619.2 620.6 L619.5 620.1 L619.6 619.5 L619.6 618.9 L619.3 616.3 L619.1 615.7 L618.8 615.1 L618.3 614.6 L607.1 605.9 L606.6 605.6 L605.9 605.4 L605.3 605.4 L604.6 605.6 L604.1 605.9 Z " fill="rgb(246,148,234)"/>
<path d="M621.6 614.2 L621.2 614.8 L621.0 615.5 L621.0 616.2 L621.2 617.8 L621.4 618.5 L621.8 619.1 L622.3 619.6 L623.0 619.9 L639.7 624.9 L640.4 625.0 L641.1 624.9 L641.8 624.6 L642.7 623.9 L643.2 623.5 L643.5 623.0 L643.7 622.5 L645.8 614.3 L645.8 613.6 L645.8 613.0 L645.5 612.4 L645.1 611.9 L644.6 611.5 L632.6 604.7 L632.0 604.4 L631.3 604.3 L630.6 604.5 L630.0 604.7 L629.5 605.2 Z " fill="rgb(246,146,233)"/>
<path d="M645.7 621.4 L645.7 622.1 L645.8 622.8 L646.1 623.4 L646.6 623.9 L647.2 624.3 L656.7 628.5 L657.2 628.7 L657.9 628.7 L658.4 628.6 L659.0 628.4 L670.2 621.4 L670.7 620.9 L671.1 620.4 L671.3 619.8 L671.4 619.1 L671.3 618.5 L671.0 617.9 L670.5 617.4 L670.0 617.0 L654.4 609.2 L653.7 609.0 L653.0 609.0 L652.4 609.1 L651.7 609.5 L648.6 612.0 L648.1 612.6 L647.8 613.3 Z " fill="rgb(247,150,235)"/>
<path d="M560.1 627.8 L559.8 627.2 L559.4 626.6 L558.8 626.2 L558.2 626.0 L557.5 625.9 L542.0 627.0 L541.4 627.2 L540.8 627.4 L540.3 627.8 L540.0 628.3 L539.7 628.9 L539.6 629.5 L539.6 639.0 L539.7 639.6 L539.9 640.2 L540.3 640.6 L540.7 641.0 L541.3 641.3 L561.3 648.8 L561.9 649.0 L562.6 648.9 L563.3 648.7 L563.8 648.4 L564.3 647.8 L564.5 647.2 L564.7 646.6 L564.6 645.9 Z " fill="rgb(248,152,236)"/>
<path d="M566.3 622.8 L565.7 622.7 L565.1 622.7 L564.5 622.8 L563.9 623.2 L562.5 624.2 L562.0 624.7 L561.6 625.4 L561.5 626.1 L561.6 626.8 L565.8 643.9 L566.1 644.6 L566.5 645.1 L567.0 645.5 L567.7 645.8 L568.3 645.8 L569.0 645.7 L569.6 645.5 L580.4 638.7 L580.9 638.3 L581.3 637.8 L581.5 637.2 L581.6 636.6 L581.6 630.6 L581.5 630.0 L581.3 629.5 L581.0 629.0 L580.6 628.6 L580.0 628.3 Z " fill="rgb(249,157,238)"/>
<path d="M608.9 638.7 L609.5 638.4 L610.0 638.0 L610.4 637.4 L610.6 636.8 L610.6 636.2 L610.6 635.7 L610.5 635.1 L610.3 634.6 L610.0 634.1 L609.5 633.7 L593.4 623.0 L592.8 622.7 L592.2 622.6 L591.6 622.6 L591.0 622.8 L590.4 623.1 L584.3 628.0 L583.8 628.6 L583.4 629.2 L583.3 630.0 L583.3 636.9 L583.4 637.6 L583.7 638.2 L584.2 638.8 L589.9 643.7 L590.4 644.1 L591.0 644.3 L591.7 644.4 L592.3 644.2 Z " fill="rgb(249,155,237)"/>
<path d="M612.3 636.0 L612.4 636.6 L612.7 637.1 L613.1 637.6 L613.6 638.0 L614.1 638.2 L634.0 644.2 L634.6 644.3 L635.3 644.2 L636.0 643.9 L636.5 643.5 L636.9 642.9 L637.1 642.2 L639.5 628.9 L639.6 628.3 L639.5 627.7 L639.2 627.2 L638.8 626.7 L638.4 626.3 L637.8 626.1 L622.8 621.6 L622.1 621.5 L621.5 621.5 L620.9 621.8 L620.4 622.1 L620.0 622.6 L612.7 633.5 L612.4 634.2 L612.3 635.0 Z " fill="rgb(246,146,233)"/>
<path d="M645.6 625.5 L645.0 625.3 L644.3 625.3 L643.7 625.4 L643.2 625.7 L642.6 626.1 L642.1 626.5 L641.7 627.1 L641.5 627.7 L639.3 639.8 L639.3 640.4 L639.4 641.0 L639.7 641.6 L640.1 642.1 L640.6 642.4 L641.1 642.7 L641.8 642.7 L655.7 642.7 L656.4 642.6 L657.0 642.4 L657.6 641.9 L658.0 641.3 L658.2 640.7 L658.2 640.0 L657.3 632.0 L657.2 631.4 L656.8 630.8 L656.4 630.4 L655.8 630.0 Z " fill="rgb(246,146,233)"/>
<path d="M676.1 624.2 L676.1 623.5 L675.8 622.9 L675.4 622.4 L674.9 622.0 L674.2 621.7 L673.6 621.7 L672.9 621.8 L672.3 622.0 L660.2 629.6 L659.6 630.1 L659.3 630.7 L659.0 631.3 L659.0 632.0 L660.0 640.5 L660.1 641.1 L660.4 641.6 L660.8 642.1 L661.3 642.5 L661.8 642.7 L662.4 642.7 L673.6 642.7 L674.3 642.7 L674.9 642.4 L675.4 642.0 L675.8 641.5 L676.1 640.9 L676.1 640.2 Z " fill="rgb(249,157,238)"/>
<path d="M564.4 653.2 L564.2 652.6 L563.9 652.0 L563.4 651.5 L562.8 651.2 L543.0 643.8 L542.4 643.7 L541.7 643.7 L541.0 643.9 L540.5 644.3 L540.0 644.8 L539.7 645.5 L539.6 646.1 L539.6 658.1 L539.7 658.8 L540.0 659.4 L540.4 659.9 L540.9 660.3 L541.5 660.6 L542.1 660.6 L562.5 660.6 L563.2 660.6 L563.8 660.3 L564.4 659.8 L564.7 659.2 L565.0 658.5 L565.0 657.8 Z " fill="rgb(249,157,238)"/>
<path d="M589.7 647.3 L589.7 646.7 L589.6 646.1 L589.3 645.6 L588.9 645.2 L583.8 640.7 L583.3 640.3 L582.7 640.1 L582.0 640.1 L581.4 640.2 L580.8 640.5 L567.4 648.8 L566.9 649.3 L566.5 649.9 L566.2 650.6 L566.0 651.3 L565.9 652.0 L566.8 658.5 L566.9 659.0 L567.2 659.6 L567.6 660.0 L568.1 660.4 L568.6 660.6 L569.2 660.6 L586.1 660.6 L586.7 660.6 L587.3 660.4 L587.8 660.0 L588.2 659.5 L588.5 659.0 L588.6 658.4 Z " fill="rgb(249,155,237)"/>
<path d="M610.5 643.4 L610.4 642.8 L610.2 642.1 L609.7 641.6 L609.2 641.2 L608.6 641.0 L607.9 640.9 L607.2 641.1 L593.1 645.8 L592.4 646.1 L591.9 646.6 L591.5 647.2 L591.4 647.9 L590.4 657.9 L590.4 658.6 L590.6 659.3 L591.0 659.8 L591.5 660.3 L592.2 660.6 L592.9 660.6 L608.0 660.6 L608.7 660.6 L609.3 660.3 L609.8 659.9 L610.2 659.4 L610.4 658.8 L610.5 658.1 Z " fill="rgb(249,157,238)"/>
<path d="M615.4 640.4 L614.8 640.3 L614.1 640.4 L613.5 640.6 L613.0 641.0 L612.6 641.5 L612.3 642.1 L612.2 642.8 L612.2 658.1 L612.3 658.8 L612.6 659.4 L613.0 659.9 L613.5 660.3 L614.1 660.6 L614.7 660.6 L633.6 660.6 L634.2 660.6 L634.9 660.3 L635.4 659.9 L635.8 659.3 L636.0 658.7 L636.1 658.0 L635.3 648.1 L635.2 647.5 L635.0 646.9 L634.6 646.4 L634.1 646.1 L633.6 645.8 Z " fill="rgb(248,154,237)"/>
<path d="M639.5 644.4 L638.8 644.5 L638.2 644.8 L637.6 645.2 L637.3 645.8 L637.0 646.4 L637.0 647.1 L637.8 658.3 L637.9 658.9 L638.2 659.5 L638.6 660.0 L639.1 660.3 L639.7 660.6 L640.3 660.6 L654.5 660.6 L655.1 660.6 L655.6 660.4 L656.1 660.0 L656.5 659.6 L656.8 659.0 L656.9 658.4 L658.2 647.2 L658.2 646.5 L658.0 645.9 L657.6 645.3 L657.0 644.8 L656.4 644.5 L655.7 644.4 Z " fill="rgb(249,155,237)"/>
<path d="M662.4 644.4 L661.8 644.5 L661.3 644.7 L660.8 645.1 L660.4 645.5 L660.1 646.1 L660.0 646.7 L658.7 657.9 L658.7 658.6 L659.0 659.2 L659.3 659.8 L659.9 660.3 L660.5 660.6 L661.2 660.6 L673.6 660.6 L674.3 660.6 L674.9 660.3 L675.4 659.9 L675.8 659.4 L676.1 658.8 L676.1 658.1 L676.1 646.9 L676.1 646.3 L675.8 645.7 L675.4 645.2 L674.9 644.8 L674.3 644.5 L673.6 644.4 Z " fill="rgb(248,152,236)"/>
<ellipse cx="578.4" cy="542.1" rx="2.5" ry="1.35" fill="#433f8e" transform="rotate(44 578.4 542.1)"/>
<ellipse cx="629.7" cy="541.5" rx="2.5" ry="1.35" fill="#433f8e" transform="rotate(170 629.7 541.5)"/>
<ellipse cx="628.0" cy="542.8" rx="2.5" ry="1.35" fill="#433f8e" transform="rotate(59 628.0 542.8)"/>
<ellipse cx="648.6" cy="545.4" rx="2.5" ry="1.35" fill="#433f8e" transform="rotate(20 648.6 545.4)"/>
<ellipse cx="650.5" cy="551.5" rx="2.5" ry="1.35" fill="#433f8e" transform="rotate(116 650.5 551.5)"/>
<ellipse cx="569.0" cy="563.1" rx="2.5" ry="1.35" fill="#433f8e" transform="rotate(53 569.0 563.1)"/>
<ellipse cx="577.3" cy="556.8" rx="2.5" ry="1.35" fill="#433f8e" transform="rotate(80 577.3 556.8)"/>
<ellipse cx="593.5" cy="562.1" rx="2.5" ry="1.35" fill="#433f8e" transform="rotate(102 593.5 562.1)"/>
<ellipse cx="594.9" cy="567.0" rx="2.5" ry="1.35" fill="#433f8e" transform="rotate(69 594.9 567.0)"/>
<ellipse cx="628.8" cy="555.3" rx="2.5" ry="1.35" fill="#433f8e" transform="rotate(115 628.8 555.3)"/>
<ellipse cx="637.9" cy="564.3" rx="2.5" ry="1.35" fill="#433f8e" transform="rotate(76 637.9 564.3)"/>
<ellipse cx="649.7" cy="559.4" rx="2.5" ry="1.35" fill="#433f8e" transform="rotate(56 649.7 559.4)"/>
<ellipse cx="655.4" cy="563.0" rx="2.5" ry="1.35" fill="#433f8e" transform="rotate(28 655.4 563.0)"/>
<ellipse cx="551.5" cy="578.2" rx="2.5" ry="1.35" fill="#433f8e" transform="rotate(147 551.5 578.2)"/>
<ellipse cx="569.6" cy="576.9" rx="2.5" ry="1.35" fill="#433f8e" transform="rotate(178 569.6 576.9)"/>
<ellipse cx="589.6" cy="578.1" rx="2.5" ry="1.35" fill="#433f8e" transform="rotate(17 589.6 578.1)"/>
<ellipse cx="591.8" cy="576.6" rx="2.5" ry="1.35" fill="#433f8e" transform="rotate(172 591.8 576.6)"/>
<ellipse cx="615.3" cy="577.0" rx="2.5" ry="1.35" fill="#433f8e" transform="rotate(62 615.3 577.0)"/>
<ellipse cx="619.6" cy="571.7" rx="2.5" ry="1.35" fill="#433f8e" transform="rotate(15 619.6 571.7)"/>
<ellipse cx="635.9" cy="577.3" rx="2.5" ry="1.35" fill="#433f8e" transform="rotate(82 635.9 577.3)"/>
<ellipse cx="639.7" cy="575.3" rx="2.5" ry="1.35" fill="#433f8e" transform="rotate(136 639.7 575.3)"/>
<ellipse cx="658.2" cy="574.6" rx="2.5" ry="1.35" fill="#433f8e" transform="rotate(13 658.2 574.6)"/>
<ellipse cx="567.2" cy="600.8" rx="2.5" ry="1.35" fill="#433f8e" transform="rotate(143 567.2 600.8)"/>
<ellipse cx="554.4" cy="602.2" rx="2.5" ry="1.35" fill="#433f8e" transform="rotate(154 554.4 602.2)"/>
<ellipse cx="581.9" cy="605.0" rx="2.5" ry="1.35" fill="#433f8e" transform="rotate(155 581.9 605.0)"/>
<ellipse cx="591.4" cy="587.6" rx="2.5" ry="1.35" fill="#433f8e" transform="rotate(157 591.4 587.6)"/>
<ellipse cx="630.7" cy="599.3" rx="2.5" ry="1.35" fill="#433f8e" transform="rotate(56 630.7 599.3)"/>
<ellipse cx="648.2" cy="592.4" rx="2.5" ry="1.35" fill="#433f8e" transform="rotate(68 648.2 592.4)"/>
<ellipse cx="654.3" cy="597.7" rx="2.5" ry="1.35" fill="#433f8e" transform="rotate(178 654.3 597.7)"/>
<ellipse cx="590.4" cy="614.1" rx="2.5" ry="1.35" fill="#433f8e" transform="rotate(73 590.4 614.1)"/>
<ellipse cx="646.5" cy="610.8" rx="2.5" ry="1.35" fill="#433f8e" transform="rotate(105 646.5 610.8)"/>
<ellipse cx="654.8" cy="608.4" rx="2.5" ry="1.35" fill="#433f8e" transform="rotate(47 654.8 608.4)"/>
<ellipse cx="558.3" cy="625.2" rx="2.5" ry="1.35" fill="#433f8e" transform="rotate(142 558.3 625.2)"/>
<ellipse cx="565.9" cy="621.4" rx="2.5" ry="1.35" fill="#433f8e" transform="rotate(53 565.9 621.4)"/>
<ellipse cx="640.9" cy="624.9" rx="2.5" ry="1.35" fill="#433f8e" transform="rotate(7 640.9 624.9)"/>
<ellipse cx="645.9" cy="628.9" rx="2.5" ry="1.35" fill="#433f8e" transform="rotate(34 645.9 628.9)"/>
<ellipse cx="655.9" cy="630.6" rx="2.5" ry="1.35" fill="#433f8e" transform="rotate(63 655.9 630.6)"/>
<ellipse cx="566.0" cy="652.2" rx="2.5" ry="1.35" fill="#433f8e" transform="rotate(111 566.0 652.2)"/>
<ellipse cx="565.5" cy="649.9" rx="2.5" ry="1.35" fill="#433f8e" transform="rotate(120 565.5 649.9)"/>
<ellipse cx="580.8" cy="640.0" rx="2.5" ry="1.35" fill="#433f8e" transform="rotate(89 580.8 640.0)"/>
<ellipse cx="610.6" cy="639.8" rx="2.5" ry="1.35" fill="#433f8e" transform="rotate(72 610.6 639.8)"/>
<ellipse cx="550.6" cy="531.7" rx="2.6" ry="1.4" fill="#3f3586" transform="rotate(22 550.6 531.7)"/>
<ellipse cx="573.5" cy="533.8" rx="2.6" ry="1.4" fill="#3f3586" transform="rotate(102 573.5 533.8)"/>
<ellipse cx="597.4" cy="538.8" rx="2.6" ry="1.4" fill="#3f3586" transform="rotate(107 597.4 538.8)"/>
<ellipse cx="613.6" cy="537.2" rx="2.6" ry="1.4" fill="#3f3586" transform="rotate(80 613.6 537.2)"/>
<ellipse cx="658.5" cy="536.1" rx="2.6" ry="1.4" fill="#3f3586" transform="rotate(147 658.5 536.1)"/>
<ellipse cx="568.8" cy="555.0" rx="2.6" ry="1.4" fill="#3f3586" transform="rotate(157 568.8 555.0)"/>
<ellipse cx="591.9" cy="547.9" rx="2.6" ry="1.4" fill="#3f3586" transform="rotate(159 591.9 547.9)"/>
<ellipse cx="598.4" cy="551.9" rx="2.6" ry="1.4" fill="#3f3586" transform="rotate(65 598.4 551.9)"/>
<ellipse cx="644.7" cy="552.2" rx="2.6" ry="1.4" fill="#3f3586" transform="rotate(48 644.7 552.2)"/>
<ellipse cx="655.4" cy="552.8" rx="2.6" ry="1.4" fill="#3f3586" transform="rotate(37 655.4 552.8)"/>
<ellipse cx="556.3" cy="575.8" rx="2.6" ry="1.4" fill="#3f3586" transform="rotate(102 556.3 575.8)"/>
<ellipse cx="608.1" cy="569.7" rx="2.6" ry="1.4" fill="#3f3586" transform="rotate(134 608.1 569.7)"/>
<ellipse cx="631.7" cy="567.6" rx="2.6" ry="1.4" fill="#3f3586" transform="rotate(87 631.7 567.6)"/>
<ellipse cx="651.2" cy="567.3" rx="2.6" ry="1.4" fill="#3f3586" transform="rotate(33 651.2 567.3)"/>
<ellipse cx="663.8" cy="567.4" rx="2.6" ry="1.4" fill="#3f3586" transform="rotate(39 663.8 567.4)"/>
<ellipse cx="552.7" cy="585.7" rx="2.6" ry="1.4" fill="#3f3586" transform="rotate(123 552.7 585.7)"/>
<ellipse cx="584.1" cy="586.9" rx="2.6" ry="1.4" fill="#3f3586" transform="rotate(48 584.1 586.9)"/>
<ellipse cx="608.9" cy="586.4" rx="2.6" ry="1.4" fill="#3f3586" transform="rotate(26 608.9 586.4)"/>
<ellipse cx="627.5" cy="585.2" rx="2.6" ry="1.4" fill="#3f3586" transform="rotate(113 627.5 585.2)"/>
<ellipse cx="635.6" cy="593.5" rx="2.6" ry="1.4" fill="#3f3586" transform="rotate(125 635.6 593.5)"/>
<ellipse cx="663.2" cy="583.3" rx="2.6" ry="1.4" fill="#3f3586" transform="rotate(112 663.2 583.3)"/>
<ellipse cx="644.8" cy="598.5" rx="2.6" ry="1.4" fill="#3f3586" transform="rotate(54 644.8 598.5)"/>
<ellipse cx="661.0" cy="603.7" rx="2.6" ry="1.4" fill="#3f3586" transform="rotate(28 661.0 603.7)"/>
<ellipse cx="543.1" cy="590.7" rx="2.6" ry="1.4" fill="#3f3586" transform="rotate(143 543.1 590.7)"/>
<ellipse cx="548.6" cy="610.0" rx="2.6" ry="1.4" fill="#3f3586" transform="rotate(20 548.6 610.0)"/>
<ellipse cx="578.8" cy="614.1" rx="2.6" ry="1.4" fill="#3f3586" transform="rotate(101 578.8 614.1)"/>
<ellipse cx="600.7" cy="620.2" rx="2.6" ry="1.4" fill="#3f3586" transform="rotate(109 600.7 620.2)"/>
<ellipse cx="556.9" cy="639.4" rx="2.6" ry="1.4" fill="#3f3586" transform="rotate(66 556.9 639.4)"/>
<ellipse cx="569.8" cy="637.4" rx="2.6" ry="1.4" fill="#3f3586" transform="rotate(109 569.8 637.4)"/>
<ellipse cx="594.3" cy="634.7" rx="2.6" ry="1.4" fill="#3f3586" transform="rotate(33 594.3 634.7)"/>
<ellipse cx="628.2" cy="633.4" rx="2.6" ry="1.4" fill="#3f3586" transform="rotate(135 628.2 633.4)"/>
<ellipse cx="667.3" cy="632.2" rx="2.6" ry="1.4" fill="#3f3586" transform="rotate(109 667.3 632.2)"/>
<ellipse cx="551.1" cy="654.9" rx="2.6" ry="1.4" fill="#3f3586" transform="rotate(32 551.1 654.9)"/>
<ellipse cx="579.0" cy="648.0" rx="2.6" ry="1.4" fill="#3f3586" transform="rotate(61 579.0 648.0)"/>
<ellipse cx="601.7" cy="652.8" rx="2.6" ry="1.4" fill="#3f3586" transform="rotate(88 601.7 652.8)"/>
<ellipse cx="621.2" cy="652.5" rx="2.6" ry="1.4" fill="#3f3586" transform="rotate(131 621.2 652.5)"/>
<ellipse cx="665.6" cy="655.9" rx="2.6" ry="1.4" fill="#3f3586" transform="rotate(97 665.6 655.9)"/>
</g>
<text x="496.40" y="367.90" font-size="13.6" text-anchor="start" fill="#000" textLength="38.2" lengthAdjust="spacingAndGlyphs">50 µm</text>
<rect x="503.5" y="370.5" width="29.2" height="2.2" fill="#000"/>
<rect x="642.1" y="370.5" width="28.9" height="2.2" fill="#000"/>
<rect x="505.6" y="511.1" width="28.0" height="2.2" fill="#000"/>
<rect x="641.8" y="511.1" width="28.5" height="2.2" fill="#000"/>
<rect x="504.4" y="653.9" width="28.9" height="2.2" fill="#000"/>
<rect x="641.8" y="653.9" width="28.5" height="2.2" fill="#000"/>
<text x="8.60" y="704.20" font-size="20" font-weight="bold" text-anchor="start" fill="#000">g</text>
<text x="101.60" y="702.00" font-size="14.6" text-anchor="start" fill="#000" textLength="103.4" lengthAdjust="spacingAndGlyphs">Force frequency</text>
<line x1="61.70" y1="721.00" x2="61.70" y2="915.50" stroke="#000" stroke-width="1.9"/>
<line x1="54.50" y1="914.60" x2="239.50" y2="914.60" stroke="#000" stroke-width="1.9"/>
<line x1="54.50" y1="914.60" x2="61.70" y2="914.60" stroke="#000" stroke-width="1.9"/>
<text x="51.20" y="919.10" font-size="11.8" font-weight="bold" text-anchor="end" fill="#000">0</text>
<line x1="54.50" y1="876.08" x2="61.70" y2="876.08" stroke="#000" stroke-width="1.9"/>
<text x="51.20" y="880.58" font-size="11.8" font-weight="bold" text-anchor="end" fill="#000">500</text>
<line x1="54.50" y1="837.56" x2="61.70" y2="837.56" stroke="#000" stroke-width="1.9"/>
<text x="51.20" y="842.06" font-size="11.8" font-weight="bold" text-anchor="end" fill="#000">1000</text>
<line x1="54.50" y1="799.04" x2="61.70" y2="799.04" stroke="#000" stroke-width="1.9"/>
<text x="51.20" y="803.54" font-size="11.8" font-weight="bold" text-anchor="end" fill="#000">1500</text>
<line x1="54.50" y1="760.52" x2="61.70" y2="760.52" stroke="#000" stroke-width="1.9"/>
<text x="51.20" y="765.02" font-size="11.8" font-weight="bold" text-anchor="end" fill="#000">2000</text>
<line x1="54.50" y1="722.00" x2="61.70" y2="722.00" stroke="#000" stroke-width="1.9"/>
<text x="51.20" y="726.50" font-size="11.8" font-weight="bold" text-anchor="end" fill="#000">2500</text>
<line x1="61.70" y1="914.60" x2="61.70" y2="920.00" stroke="#000" stroke-width="1.7"/>
<line x1="83.85" y1="914.60" x2="83.85" y2="917.80" stroke="#000" stroke-width="1.7"/>
<line x1="106.00" y1="914.60" x2="106.00" y2="920.00" stroke="#000" stroke-width="1.7"/>
<line x1="128.15" y1="914.60" x2="128.15" y2="917.80" stroke="#000" stroke-width="1.7"/>
<line x1="150.30" y1="914.60" x2="150.30" y2="920.00" stroke="#000" stroke-width="1.7"/>
<line x1="172.45" y1="914.60" x2="172.45" y2="917.80" stroke="#000" stroke-width="1.7"/>
<line x1="194.60" y1="914.60" x2="194.60" y2="920.00" stroke="#000" stroke-width="1.7"/>
<line x1="216.75" y1="914.60" x2="216.75" y2="917.80" stroke="#000" stroke-width="1.7"/>
<line x1="238.90" y1="914.60" x2="238.90" y2="920.00" stroke="#000" stroke-width="1.7"/>
<text x="61.70" y="934.30" font-size="11.8" font-weight="bold" text-anchor="middle" fill="#000">0</text>
<text x="106.00" y="934.30" font-size="11.8" font-weight="bold" text-anchor="middle" fill="#000">100</text>
<text x="150.30" y="934.30" font-size="11.8" font-weight="bold" text-anchor="middle" fill="#000">200</text>
<text x="194.60" y="934.30" font-size="11.8" font-weight="bold" text-anchor="middle" fill="#000">300</text>
<text x="238.90" y="934.30" font-size="11.8" font-weight="bold" text-anchor="middle" fill="#000">400</text>
<text x="150.40" y="950.70" font-size="12.4" font-weight="bold" text-anchor="middle" fill="#000" textLength="94.6" lengthAdjust="spacingAndGlyphs">Frequency (Hz)</text>
<text x="0" y="0" font-size="13.2" font-weight="bold" text-anchor="middle" textLength="69.2" lengthAdjust="spacingAndGlyphs" transform="translate(16.8 819.3) rotate(-90)">Force (mN)</text>
<path d="M66.13 880.32 C66.87 880.00 69.08 879.87 70.56 878.39 C72.04 876.91 73.51 875.44 74.99 871.46 C76.47 867.48 77.94 860.42 79.42 854.51 C80.90 848.60 81.27 843.04 83.85 836.02 C86.43 829.00 91.23 817.74 94.93 812.37 C98.62 807.00 100.46 806.54 106.00 803.82 C111.54 801.09 120.77 798.08 128.15 796.04 C135.53 793.99 142.92 792.77 150.30 791.57 C157.68 790.36 165.07 789.44 172.45 788.79 C179.83 788.15 187.22 787.93 194.60 787.72 C201.98 787.50 213.06 787.52 216.75 787.48" stroke="#a7a7ab" fill="none" stroke-width="3.0" stroke-dasharray="7 4.5" stroke-linecap="butt"/>
<line x1="66.13" y1="877.24" x2="66.13" y2="883.40" stroke="#a7a7ab" stroke-width="1.6"/>
<line x1="63.53" y1="877.24" x2="68.73" y2="877.24" stroke="#a7a7ab" stroke-width="1.6"/>
<line x1="63.53" y1="883.40" x2="68.73" y2="883.40" stroke="#a7a7ab" stroke-width="1.6"/>
<circle cx="66.13" cy="880.32" r="2.5" fill="#a7a7ab"/>
<line x1="70.56" y1="875.31" x2="70.56" y2="881.47" stroke="#a7a7ab" stroke-width="1.6"/>
<line x1="67.96" y1="875.31" x2="73.16" y2="875.31" stroke="#a7a7ab" stroke-width="1.6"/>
<line x1="67.96" y1="881.47" x2="73.16" y2="881.47" stroke="#a7a7ab" stroke-width="1.6"/>
<circle cx="70.56" cy="878.39" r="2.5" fill="#a7a7ab"/>
<line x1="74.99" y1="866.84" x2="74.99" y2="876.08" stroke="#a7a7ab" stroke-width="1.6"/>
<line x1="72.39" y1="866.84" x2="77.59" y2="866.84" stroke="#a7a7ab" stroke-width="1.6"/>
<line x1="72.39" y1="876.08" x2="77.59" y2="876.08" stroke="#a7a7ab" stroke-width="1.6"/>
<circle cx="74.99" cy="871.46" r="2.5" fill="#a7a7ab"/>
<line x1="79.42" y1="848.35" x2="79.42" y2="860.67" stroke="#a7a7ab" stroke-width="1.6"/>
<line x1="76.82" y1="848.35" x2="82.02" y2="848.35" stroke="#a7a7ab" stroke-width="1.6"/>
<line x1="76.82" y1="860.67" x2="82.02" y2="860.67" stroke="#a7a7ab" stroke-width="1.6"/>
<circle cx="79.42" cy="854.51" r="2.5" fill="#a7a7ab"/>
<line x1="83.85" y1="829.86" x2="83.85" y2="842.18" stroke="#a7a7ab" stroke-width="1.6"/>
<line x1="81.25" y1="829.86" x2="86.45" y2="829.86" stroke="#a7a7ab" stroke-width="1.6"/>
<line x1="81.25" y1="842.18" x2="86.45" y2="842.18" stroke="#a7a7ab" stroke-width="1.6"/>
<circle cx="83.85" cy="836.02" r="2.5" fill="#a7a7ab"/>
<line x1="94.93" y1="806.98" x2="94.93" y2="817.76" stroke="#a7a7ab" stroke-width="1.6"/>
<line x1="92.33" y1="806.98" x2="97.53" y2="806.98" stroke="#a7a7ab" stroke-width="1.6"/>
<line x1="92.33" y1="817.76" x2="97.53" y2="817.76" stroke="#a7a7ab" stroke-width="1.6"/>
<circle cx="94.93" cy="812.37" r="2.5" fill="#a7a7ab"/>
<line x1="106.00" y1="799.96" x2="106.00" y2="807.67" stroke="#a7a7ab" stroke-width="1.6"/>
<line x1="103.40" y1="799.96" x2="108.60" y2="799.96" stroke="#a7a7ab" stroke-width="1.6"/>
<line x1="103.40" y1="807.67" x2="108.60" y2="807.67" stroke="#a7a7ab" stroke-width="1.6"/>
<circle cx="106.00" cy="803.82" r="2.5" fill="#a7a7ab"/>
<line x1="128.15" y1="791.41" x2="128.15" y2="800.66" stroke="#a7a7ab" stroke-width="1.6"/>
<line x1="125.55" y1="791.41" x2="130.75" y2="791.41" stroke="#a7a7ab" stroke-width="1.6"/>
<line x1="125.55" y1="800.66" x2="130.75" y2="800.66" stroke="#a7a7ab" stroke-width="1.6"/>
<circle cx="128.15" cy="796.04" r="2.5" fill="#a7a7ab"/>
<line x1="150.30" y1="786.94" x2="150.30" y2="796.19" stroke="#a7a7ab" stroke-width="1.6"/>
<line x1="147.70" y1="786.94" x2="152.90" y2="786.94" stroke="#a7a7ab" stroke-width="1.6"/>
<line x1="147.70" y1="796.19" x2="152.90" y2="796.19" stroke="#a7a7ab" stroke-width="1.6"/>
<circle cx="150.30" cy="791.57" r="2.5" fill="#a7a7ab"/>
<line x1="172.45" y1="783.40" x2="172.45" y2="794.19" stroke="#a7a7ab" stroke-width="1.6"/>
<line x1="169.85" y1="783.40" x2="175.05" y2="783.40" stroke="#a7a7ab" stroke-width="1.6"/>
<line x1="169.85" y1="794.19" x2="175.05" y2="794.19" stroke="#a7a7ab" stroke-width="1.6"/>
<circle cx="172.45" cy="788.79" r="2.5" fill="#a7a7ab"/>
<line x1="194.60" y1="781.55" x2="194.60" y2="793.88" stroke="#a7a7ab" stroke-width="1.6"/>
<line x1="192.00" y1="781.55" x2="197.20" y2="781.55" stroke="#a7a7ab" stroke-width="1.6"/>
<line x1="192.00" y1="793.88" x2="197.20" y2="793.88" stroke="#a7a7ab" stroke-width="1.6"/>
<circle cx="194.60" cy="787.72" r="2.5" fill="#a7a7ab"/>
<line x1="216.75" y1="781.32" x2="216.75" y2="793.65" stroke="#a7a7ab" stroke-width="1.6"/>
<line x1="214.15" y1="781.32" x2="219.35" y2="781.32" stroke="#a7a7ab" stroke-width="1.6"/>
<line x1="214.15" y1="793.65" x2="219.35" y2="793.65" stroke="#a7a7ab" stroke-width="1.6"/>
<circle cx="216.75" cy="787.48" r="2.5" fill="#a7a7ab"/>
<path d="M66.13 876.08 C66.87 875.69 69.08 875.57 70.56 873.77 C72.04 871.97 73.51 870.05 74.99 865.29 C76.47 860.54 77.94 852.20 79.42 845.26 C80.90 838.33 81.27 832.31 83.85 823.69 C86.43 815.08 91.23 800.68 94.93 793.57 C98.62 786.46 100.46 784.90 106.00 781.01 C111.54 777.12 120.77 772.81 128.15 770.23 C135.53 767.65 142.92 766.79 150.30 765.53 C157.68 764.27 165.07 763.51 172.45 762.68 C179.83 761.84 187.22 760.97 194.60 760.52 C201.98 760.07 213.06 760.07 216.75 759.98" stroke="#5e5e5e" fill="none" stroke-width="3.0" stroke-linecap="butt"/>
<line x1="66.13" y1="872.23" x2="66.13" y2="879.93" stroke="#5e5e5e" stroke-width="1.6"/>
<line x1="63.53" y1="872.23" x2="68.73" y2="872.23" stroke="#5e5e5e" stroke-width="1.6"/>
<line x1="63.53" y1="879.93" x2="68.73" y2="879.93" stroke="#5e5e5e" stroke-width="1.6"/>
<circle cx="66.13" cy="876.08" r="2.5" fill="#5e5e5e"/>
<line x1="70.56" y1="869.92" x2="70.56" y2="877.62" stroke="#5e5e5e" stroke-width="1.6"/>
<line x1="67.96" y1="869.92" x2="73.16" y2="869.92" stroke="#5e5e5e" stroke-width="1.6"/>
<line x1="67.96" y1="877.62" x2="73.16" y2="877.62" stroke="#5e5e5e" stroke-width="1.6"/>
<circle cx="70.56" cy="873.77" r="2.5" fill="#5e5e5e"/>
<line x1="74.99" y1="859.90" x2="74.99" y2="870.69" stroke="#5e5e5e" stroke-width="1.6"/>
<line x1="72.39" y1="859.90" x2="77.59" y2="859.90" stroke="#5e5e5e" stroke-width="1.6"/>
<line x1="72.39" y1="870.69" x2="77.59" y2="870.69" stroke="#5e5e5e" stroke-width="1.6"/>
<circle cx="74.99" cy="865.29" r="2.5" fill="#5e5e5e"/>
<line x1="79.42" y1="837.56" x2="79.42" y2="852.97" stroke="#5e5e5e" stroke-width="1.6"/>
<line x1="76.82" y1="837.56" x2="82.02" y2="837.56" stroke="#5e5e5e" stroke-width="1.6"/>
<line x1="76.82" y1="852.97" x2="82.02" y2="852.97" stroke="#5e5e5e" stroke-width="1.6"/>
<circle cx="79.42" cy="845.26" r="2.5" fill="#5e5e5e"/>
<line x1="83.85" y1="814.45" x2="83.85" y2="832.94" stroke="#5e5e5e" stroke-width="1.6"/>
<line x1="81.25" y1="814.45" x2="86.45" y2="814.45" stroke="#5e5e5e" stroke-width="1.6"/>
<line x1="81.25" y1="832.94" x2="86.45" y2="832.94" stroke="#5e5e5e" stroke-width="1.6"/>
<circle cx="83.85" cy="823.69" r="2.5" fill="#5e5e5e"/>
<line x1="94.93" y1="783.55" x2="94.93" y2="803.59" stroke="#5e5e5e" stroke-width="1.6"/>
<line x1="92.33" y1="783.55" x2="97.53" y2="783.55" stroke="#5e5e5e" stroke-width="1.6"/>
<line x1="92.33" y1="803.59" x2="97.53" y2="803.59" stroke="#5e5e5e" stroke-width="1.6"/>
<circle cx="94.93" cy="793.57" r="2.5" fill="#5e5e5e"/>
<line x1="106.00" y1="770.23" x2="106.00" y2="791.80" stroke="#5e5e5e" stroke-width="1.6"/>
<line x1="103.40" y1="770.23" x2="108.60" y2="770.23" stroke="#5e5e5e" stroke-width="1.6"/>
<line x1="103.40" y1="791.80" x2="108.60" y2="791.80" stroke="#5e5e5e" stroke-width="1.6"/>
<circle cx="106.00" cy="781.01" r="2.5" fill="#5e5e5e"/>
<line x1="128.15" y1="758.67" x2="128.15" y2="781.78" stroke="#5e5e5e" stroke-width="1.6"/>
<line x1="125.55" y1="758.67" x2="130.75" y2="758.67" stroke="#5e5e5e" stroke-width="1.6"/>
<line x1="125.55" y1="781.78" x2="130.75" y2="781.78" stroke="#5e5e5e" stroke-width="1.6"/>
<circle cx="128.15" cy="770.23" r="2.5" fill="#5e5e5e"/>
<line x1="150.30" y1="753.97" x2="150.30" y2="777.08" stroke="#5e5e5e" stroke-width="1.6"/>
<line x1="147.70" y1="753.97" x2="152.90" y2="753.97" stroke="#5e5e5e" stroke-width="1.6"/>
<line x1="147.70" y1="777.08" x2="152.90" y2="777.08" stroke="#5e5e5e" stroke-width="1.6"/>
<circle cx="150.30" cy="765.53" r="2.5" fill="#5e5e5e"/>
<line x1="172.45" y1="750.35" x2="172.45" y2="775.00" stroke="#5e5e5e" stroke-width="1.6"/>
<line x1="169.85" y1="750.35" x2="175.05" y2="750.35" stroke="#5e5e5e" stroke-width="1.6"/>
<line x1="169.85" y1="775.00" x2="175.05" y2="775.00" stroke="#5e5e5e" stroke-width="1.6"/>
<circle cx="172.45" cy="762.68" r="2.5" fill="#5e5e5e"/>
<line x1="194.60" y1="748.19" x2="194.60" y2="772.85" stroke="#5e5e5e" stroke-width="1.6"/>
<line x1="192.00" y1="748.19" x2="197.20" y2="748.19" stroke="#5e5e5e" stroke-width="1.6"/>
<line x1="192.00" y1="772.85" x2="197.20" y2="772.85" stroke="#5e5e5e" stroke-width="1.6"/>
<circle cx="194.60" cy="760.52" r="2.5" fill="#5e5e5e"/>
<line x1="216.75" y1="747.65" x2="216.75" y2="772.31" stroke="#5e5e5e" stroke-width="1.6"/>
<line x1="214.15" y1="747.65" x2="219.35" y2="747.65" stroke="#5e5e5e" stroke-width="1.6"/>
<line x1="214.15" y1="772.31" x2="219.35" y2="772.31" stroke="#5e5e5e" stroke-width="1.6"/>
<circle cx="216.75" cy="759.98" r="2.5" fill="#5e5e5e"/>
<path d="M66.13 889.18 C66.87 888.79 69.08 888.41 70.56 886.87 C72.04 885.32 73.51 883.66 74.99 879.93 C76.47 876.21 77.94 869.79 79.42 864.52 C80.90 859.26 81.27 854.00 83.85 848.35 C86.43 842.70 91.23 834.65 94.93 830.63 C98.62 826.61 100.46 825.99 106.00 824.23 C111.54 822.47 120.77 821.07 128.15 820.07 C135.53 819.07 142.92 818.81 150.30 818.22 C157.68 817.63 165.07 816.90 172.45 816.53 C179.83 816.16 187.22 816.18 194.60 815.99 C201.98 815.80 213.06 815.48 216.75 815.37" stroke="#ffa3a3" fill="none" stroke-width="3.0" stroke-dasharray="7 4.5" stroke-linecap="butt"/>
<line x1="66.13" y1="886.10" x2="66.13" y2="892.26" stroke="#ffa3a3" stroke-width="1.6"/>
<line x1="63.53" y1="886.10" x2="68.73" y2="886.10" stroke="#ffa3a3" stroke-width="1.6"/>
<line x1="63.53" y1="892.26" x2="68.73" y2="892.26" stroke="#ffa3a3" stroke-width="1.6"/>
<circle cx="66.13" cy="889.18" r="2.5" fill="#ffa3a3"/>
<line x1="70.56" y1="883.78" x2="70.56" y2="889.95" stroke="#ffa3a3" stroke-width="1.6"/>
<line x1="67.96" y1="883.78" x2="73.16" y2="883.78" stroke="#ffa3a3" stroke-width="1.6"/>
<line x1="67.96" y1="889.95" x2="73.16" y2="889.95" stroke="#ffa3a3" stroke-width="1.6"/>
<circle cx="70.56" cy="886.87" r="2.5" fill="#ffa3a3"/>
<line x1="74.99" y1="876.08" x2="74.99" y2="883.78" stroke="#ffa3a3" stroke-width="1.6"/>
<line x1="72.39" y1="876.08" x2="77.59" y2="876.08" stroke="#ffa3a3" stroke-width="1.6"/>
<line x1="72.39" y1="883.78" x2="77.59" y2="883.78" stroke="#ffa3a3" stroke-width="1.6"/>
<circle cx="74.99" cy="879.93" r="2.5" fill="#ffa3a3"/>
<line x1="79.42" y1="859.13" x2="79.42" y2="869.92" stroke="#ffa3a3" stroke-width="1.6"/>
<line x1="76.82" y1="859.13" x2="82.02" y2="859.13" stroke="#ffa3a3" stroke-width="1.6"/>
<line x1="76.82" y1="869.92" x2="82.02" y2="869.92" stroke="#ffa3a3" stroke-width="1.6"/>
<circle cx="79.42" cy="864.52" r="2.5" fill="#ffa3a3"/>
<line x1="83.85" y1="842.18" x2="83.85" y2="854.51" stroke="#ffa3a3" stroke-width="1.6"/>
<line x1="81.25" y1="842.18" x2="86.45" y2="842.18" stroke="#ffa3a3" stroke-width="1.6"/>
<line x1="81.25" y1="854.51" x2="86.45" y2="854.51" stroke="#ffa3a3" stroke-width="1.6"/>
<circle cx="83.85" cy="848.35" r="2.5" fill="#ffa3a3"/>
<line x1="94.93" y1="823.69" x2="94.93" y2="837.56" stroke="#ffa3a3" stroke-width="1.6"/>
<line x1="92.33" y1="823.69" x2="97.53" y2="823.69" stroke="#ffa3a3" stroke-width="1.6"/>
<line x1="92.33" y1="837.56" x2="97.53" y2="837.56" stroke="#ffa3a3" stroke-width="1.6"/>
<circle cx="94.93" cy="830.63" r="2.5" fill="#ffa3a3"/>
<line x1="106.00" y1="817.30" x2="106.00" y2="831.17" stroke="#ffa3a3" stroke-width="1.6"/>
<line x1="103.40" y1="817.30" x2="108.60" y2="817.30" stroke="#ffa3a3" stroke-width="1.6"/>
<line x1="103.40" y1="831.17" x2="108.60" y2="831.17" stroke="#ffa3a3" stroke-width="1.6"/>
<circle cx="106.00" cy="824.23" r="2.5" fill="#ffa3a3"/>
<line x1="128.15" y1="812.37" x2="128.15" y2="827.78" stroke="#ffa3a3" stroke-width="1.6"/>
<line x1="125.55" y1="812.37" x2="130.75" y2="812.37" stroke="#ffa3a3" stroke-width="1.6"/>
<line x1="125.55" y1="827.78" x2="130.75" y2="827.78" stroke="#ffa3a3" stroke-width="1.6"/>
<circle cx="128.15" cy="820.07" r="2.5" fill="#ffa3a3"/>
<line x1="150.30" y1="810.52" x2="150.30" y2="825.93" stroke="#ffa3a3" stroke-width="1.6"/>
<line x1="147.70" y1="810.52" x2="152.90" y2="810.52" stroke="#ffa3a3" stroke-width="1.6"/>
<line x1="147.70" y1="825.93" x2="152.90" y2="825.93" stroke="#ffa3a3" stroke-width="1.6"/>
<circle cx="150.30" cy="818.22" r="2.5" fill="#ffa3a3"/>
<line x1="172.45" y1="808.82" x2="172.45" y2="824.23" stroke="#ffa3a3" stroke-width="1.6"/>
<line x1="169.85" y1="808.82" x2="175.05" y2="808.82" stroke="#ffa3a3" stroke-width="1.6"/>
<line x1="169.85" y1="824.23" x2="175.05" y2="824.23" stroke="#ffa3a3" stroke-width="1.6"/>
<circle cx="172.45" cy="816.53" r="2.5" fill="#ffa3a3"/>
<line x1="194.60" y1="808.28" x2="194.60" y2="823.69" stroke="#ffa3a3" stroke-width="1.6"/>
<line x1="192.00" y1="808.28" x2="197.20" y2="808.28" stroke="#ffa3a3" stroke-width="1.6"/>
<line x1="192.00" y1="823.69" x2="197.20" y2="823.69" stroke="#ffa3a3" stroke-width="1.6"/>
<circle cx="194.60" cy="815.99" r="2.5" fill="#ffa3a3"/>
<line x1="216.75" y1="807.67" x2="216.75" y2="823.08" stroke="#ffa3a3" stroke-width="1.6"/>
<line x1="214.15" y1="807.67" x2="219.35" y2="807.67" stroke="#ffa3a3" stroke-width="1.6"/>
<line x1="214.15" y1="823.08" x2="219.35" y2="823.08" stroke="#ffa3a3" stroke-width="1.6"/>
<circle cx="216.75" cy="815.37" r="2.5" fill="#ffa3a3"/>
<path d="M66.13 889.95 C66.87 889.56 69.08 889.29 70.56 887.64 C72.04 885.98 73.51 883.39 74.99 880.01 C76.47 876.63 77.94 871.88 79.42 867.37 C80.90 862.87 81.27 857.41 83.85 852.97 C86.43 848.53 91.23 844.02 94.93 840.72 C98.62 837.42 100.46 835.21 106.00 833.17 C111.54 831.13 120.77 829.57 128.15 828.47 C135.53 827.37 142.92 827.15 150.30 826.54 C157.68 825.94 165.07 825.22 172.45 824.85 C179.83 824.48 187.22 824.40 194.60 824.31 C201.98 824.22 213.06 824.31 216.75 824.31" stroke="#ff4343" fill="none" stroke-width="3.0" stroke-linecap="butt"/>
<line x1="66.13" y1="886.87" x2="66.13" y2="893.03" stroke="#ff4343" stroke-width="1.6"/>
<line x1="63.53" y1="886.87" x2="68.73" y2="886.87" stroke="#ff4343" stroke-width="1.6"/>
<line x1="63.53" y1="893.03" x2="68.73" y2="893.03" stroke="#ff4343" stroke-width="1.6"/>
<circle cx="66.13" cy="889.95" r="2.5" fill="#ff4343"/>
<line x1="70.56" y1="884.55" x2="70.56" y2="890.72" stroke="#ff4343" stroke-width="1.6"/>
<line x1="67.96" y1="884.55" x2="73.16" y2="884.55" stroke="#ff4343" stroke-width="1.6"/>
<line x1="67.96" y1="890.72" x2="73.16" y2="890.72" stroke="#ff4343" stroke-width="1.6"/>
<circle cx="70.56" cy="887.64" r="2.5" fill="#ff4343"/>
<line x1="74.99" y1="876.16" x2="74.99" y2="883.86" stroke="#ff4343" stroke-width="1.6"/>
<line x1="72.39" y1="876.16" x2="77.59" y2="876.16" stroke="#ff4343" stroke-width="1.6"/>
<line x1="72.39" y1="883.86" x2="77.59" y2="883.86" stroke="#ff4343" stroke-width="1.6"/>
<circle cx="74.99" cy="880.01" r="2.5" fill="#ff4343"/>
<line x1="79.42" y1="861.98" x2="79.42" y2="872.77" stroke="#ff4343" stroke-width="1.6"/>
<line x1="76.82" y1="861.98" x2="82.02" y2="861.98" stroke="#ff4343" stroke-width="1.6"/>
<line x1="76.82" y1="872.77" x2="82.02" y2="872.77" stroke="#ff4343" stroke-width="1.6"/>
<circle cx="79.42" cy="867.37" r="2.5" fill="#ff4343"/>
<line x1="83.85" y1="846.80" x2="83.85" y2="859.13" stroke="#ff4343" stroke-width="1.6"/>
<line x1="81.25" y1="846.80" x2="86.45" y2="846.80" stroke="#ff4343" stroke-width="1.6"/>
<line x1="81.25" y1="859.13" x2="86.45" y2="859.13" stroke="#ff4343" stroke-width="1.6"/>
<circle cx="83.85" cy="852.97" r="2.5" fill="#ff4343"/>
<line x1="94.93" y1="833.01" x2="94.93" y2="848.42" stroke="#ff4343" stroke-width="1.6"/>
<line x1="92.33" y1="833.01" x2="97.53" y2="833.01" stroke="#ff4343" stroke-width="1.6"/>
<line x1="92.33" y1="848.42" x2="97.53" y2="848.42" stroke="#ff4343" stroke-width="1.6"/>
<circle cx="94.93" cy="840.72" r="2.5" fill="#ff4343"/>
<line x1="106.00" y1="825.46" x2="106.00" y2="840.87" stroke="#ff4343" stroke-width="1.6"/>
<line x1="103.40" y1="825.46" x2="108.60" y2="825.46" stroke="#ff4343" stroke-width="1.6"/>
<line x1="103.40" y1="840.87" x2="108.60" y2="840.87" stroke="#ff4343" stroke-width="1.6"/>
<circle cx="106.00" cy="833.17" r="2.5" fill="#ff4343"/>
<line x1="128.15" y1="819.99" x2="128.15" y2="836.94" stroke="#ff4343" stroke-width="1.6"/>
<line x1="125.55" y1="819.99" x2="130.75" y2="819.99" stroke="#ff4343" stroke-width="1.6"/>
<line x1="125.55" y1="836.94" x2="130.75" y2="836.94" stroke="#ff4343" stroke-width="1.6"/>
<circle cx="128.15" cy="828.47" r="2.5" fill="#ff4343"/>
<line x1="150.30" y1="818.07" x2="150.30" y2="835.02" stroke="#ff4343" stroke-width="1.6"/>
<line x1="147.70" y1="818.07" x2="152.90" y2="818.07" stroke="#ff4343" stroke-width="1.6"/>
<line x1="147.70" y1="835.02" x2="152.90" y2="835.02" stroke="#ff4343" stroke-width="1.6"/>
<circle cx="150.30" cy="826.54" r="2.5" fill="#ff4343"/>
<line x1="172.45" y1="816.37" x2="172.45" y2="833.32" stroke="#ff4343" stroke-width="1.6"/>
<line x1="169.85" y1="816.37" x2="175.05" y2="816.37" stroke="#ff4343" stroke-width="1.6"/>
<line x1="169.85" y1="833.32" x2="175.05" y2="833.32" stroke="#ff4343" stroke-width="1.6"/>
<circle cx="172.45" cy="824.85" r="2.5" fill="#ff4343"/>
<line x1="194.60" y1="815.83" x2="194.60" y2="832.78" stroke="#ff4343" stroke-width="1.6"/>
<line x1="192.00" y1="815.83" x2="197.20" y2="815.83" stroke="#ff4343" stroke-width="1.6"/>
<line x1="192.00" y1="832.78" x2="197.20" y2="832.78" stroke="#ff4343" stroke-width="1.6"/>
<circle cx="194.60" cy="824.31" r="2.5" fill="#ff4343"/>
<line x1="216.75" y1="815.83" x2="216.75" y2="832.78" stroke="#ff4343" stroke-width="1.6"/>
<line x1="214.15" y1="815.83" x2="219.35" y2="815.83" stroke="#ff4343" stroke-width="1.6"/>
<line x1="214.15" y1="832.78" x2="219.35" y2="832.78" stroke="#ff4343" stroke-width="1.6"/>
<circle cx="216.75" cy="824.31" r="2.5" fill="#ff4343"/>
<path d="M66.13 898.81 C66.87 898.54 69.08 898.51 70.56 897.19 C72.04 895.87 73.51 893.74 74.99 890.87 C76.47 888.01 77.94 883.78 79.42 880.01 C80.90 876.23 81.27 872.42 83.85 868.22 C86.43 864.02 91.23 858.44 94.93 854.82 C98.62 851.20 100.46 848.58 106.00 846.50 C111.54 844.42 120.77 843.35 128.15 842.34 C135.53 841.32 142.92 840.96 150.30 840.41 C157.68 839.86 165.07 839.40 172.45 839.02 C179.83 838.65 187.22 838.32 194.60 838.18 C201.98 838.04 213.06 838.18 216.75 838.18" stroke="#a30000" fill="none" stroke-width="3.0" stroke-linecap="butt"/>
<line x1="66.13" y1="896.50" x2="66.13" y2="901.12" stroke="#a30000" stroke-width="1.6"/>
<line x1="63.53" y1="896.50" x2="68.73" y2="896.50" stroke="#a30000" stroke-width="1.6"/>
<line x1="63.53" y1="901.12" x2="68.73" y2="901.12" stroke="#a30000" stroke-width="1.6"/>
<circle cx="66.13" cy="898.81" r="2.5" fill="#a30000"/>
<line x1="70.56" y1="894.88" x2="70.56" y2="899.50" stroke="#a30000" stroke-width="1.6"/>
<line x1="67.96" y1="894.88" x2="73.16" y2="894.88" stroke="#a30000" stroke-width="1.6"/>
<line x1="67.96" y1="899.50" x2="73.16" y2="899.50" stroke="#a30000" stroke-width="1.6"/>
<circle cx="70.56" cy="897.19" r="2.5" fill="#a30000"/>
<line x1="74.99" y1="887.79" x2="74.99" y2="893.95" stroke="#a30000" stroke-width="1.6"/>
<line x1="72.39" y1="887.79" x2="77.59" y2="887.79" stroke="#a30000" stroke-width="1.6"/>
<line x1="72.39" y1="893.95" x2="77.59" y2="893.95" stroke="#a30000" stroke-width="1.6"/>
<circle cx="74.99" cy="890.87" r="2.5" fill="#a30000"/>
<line x1="79.42" y1="875.39" x2="79.42" y2="884.63" stroke="#a30000" stroke-width="1.6"/>
<line x1="76.82" y1="875.39" x2="82.02" y2="875.39" stroke="#a30000" stroke-width="1.6"/>
<line x1="76.82" y1="884.63" x2="82.02" y2="884.63" stroke="#a30000" stroke-width="1.6"/>
<circle cx="79.42" cy="880.01" r="2.5" fill="#a30000"/>
<line x1="83.85" y1="862.06" x2="83.85" y2="874.39" stroke="#a30000" stroke-width="1.6"/>
<line x1="81.25" y1="862.06" x2="86.45" y2="862.06" stroke="#a30000" stroke-width="1.6"/>
<line x1="81.25" y1="874.39" x2="86.45" y2="874.39" stroke="#a30000" stroke-width="1.6"/>
<circle cx="83.85" cy="868.22" r="2.5" fill="#a30000"/>
<line x1="94.93" y1="846.34" x2="94.93" y2="863.29" stroke="#a30000" stroke-width="1.6"/>
<line x1="92.33" y1="846.34" x2="97.53" y2="846.34" stroke="#a30000" stroke-width="1.6"/>
<line x1="92.33" y1="863.29" x2="97.53" y2="863.29" stroke="#a30000" stroke-width="1.6"/>
<circle cx="94.93" cy="854.82" r="2.5" fill="#a30000"/>
<line x1="106.00" y1="838.02" x2="106.00" y2="854.97" stroke="#a30000" stroke-width="1.6"/>
<line x1="103.40" y1="838.02" x2="108.60" y2="838.02" stroke="#a30000" stroke-width="1.6"/>
<line x1="103.40" y1="854.97" x2="108.60" y2="854.97" stroke="#a30000" stroke-width="1.6"/>
<circle cx="106.00" cy="846.50" r="2.5" fill="#a30000"/>
<line x1="128.15" y1="833.09" x2="128.15" y2="851.58" stroke="#a30000" stroke-width="1.6"/>
<line x1="125.55" y1="833.09" x2="130.75" y2="833.09" stroke="#a30000" stroke-width="1.6"/>
<line x1="125.55" y1="851.58" x2="130.75" y2="851.58" stroke="#a30000" stroke-width="1.6"/>
<circle cx="128.15" cy="842.34" r="2.5" fill="#a30000"/>
<line x1="150.30" y1="831.17" x2="150.30" y2="849.66" stroke="#a30000" stroke-width="1.6"/>
<line x1="147.70" y1="831.17" x2="152.90" y2="831.17" stroke="#a30000" stroke-width="1.6"/>
<line x1="147.70" y1="849.66" x2="152.90" y2="849.66" stroke="#a30000" stroke-width="1.6"/>
<circle cx="150.30" cy="840.41" r="2.5" fill="#a30000"/>
<line x1="172.45" y1="829.78" x2="172.45" y2="848.27" stroke="#a30000" stroke-width="1.6"/>
<line x1="169.85" y1="829.78" x2="175.05" y2="829.78" stroke="#a30000" stroke-width="1.6"/>
<line x1="169.85" y1="848.27" x2="175.05" y2="848.27" stroke="#a30000" stroke-width="1.6"/>
<circle cx="172.45" cy="839.02" r="2.5" fill="#a30000"/>
<line x1="194.60" y1="828.93" x2="194.60" y2="847.42" stroke="#a30000" stroke-width="1.6"/>
<line x1="192.00" y1="828.93" x2="197.20" y2="828.93" stroke="#a30000" stroke-width="1.6"/>
<line x1="192.00" y1="847.42" x2="197.20" y2="847.42" stroke="#a30000" stroke-width="1.6"/>
<circle cx="194.60" cy="838.18" r="2.5" fill="#a30000"/>
<line x1="216.75" y1="828.93" x2="216.75" y2="847.42" stroke="#a30000" stroke-width="1.6"/>
<line x1="214.15" y1="828.93" x2="219.35" y2="828.93" stroke="#a30000" stroke-width="1.6"/>
<line x1="214.15" y1="847.42" x2="219.35" y2="847.42" stroke="#a30000" stroke-width="1.6"/>
<circle cx="216.75" cy="838.18" r="2.5" fill="#a30000"/>
<path d="M66.13 873.77 C66.87 873.38 69.08 873.51 70.56 871.46 C72.04 869.40 73.51 866.58 74.99 861.44 C76.47 856.31 77.94 848.35 79.42 840.64 C80.90 832.94 81.27 824.66 83.85 815.22 C86.43 805.78 91.23 791.05 94.93 784.02 C98.62 776.98 100.46 776.45 106.00 773.00 C111.54 769.55 120.77 765.76 128.15 763.29 C135.53 760.83 142.92 759.38 150.30 758.21 C157.68 757.04 165.07 756.68 172.45 756.28 C179.83 755.88 187.22 755.90 194.60 755.82 C201.98 755.74 213.06 755.82 216.75 755.82" stroke="#000000" fill="none" stroke-width="3.0" stroke-linecap="butt"/>
<line x1="66.13" y1="870.69" x2="66.13" y2="876.85" stroke="#000000" stroke-width="1.6"/>
<line x1="63.53" y1="870.69" x2="68.73" y2="870.69" stroke="#000000" stroke-width="1.6"/>
<line x1="63.53" y1="876.85" x2="68.73" y2="876.85" stroke="#000000" stroke-width="1.6"/>
<circle cx="66.13" cy="873.77" r="2.5" fill="#000000"/>
<line x1="70.56" y1="867.61" x2="70.56" y2="875.31" stroke="#000000" stroke-width="1.6"/>
<line x1="67.96" y1="867.61" x2="73.16" y2="867.61" stroke="#000000" stroke-width="1.6"/>
<line x1="67.96" y1="875.31" x2="73.16" y2="875.31" stroke="#000000" stroke-width="1.6"/>
<circle cx="70.56" cy="871.46" r="2.5" fill="#000000"/>
<line x1="74.99" y1="856.82" x2="74.99" y2="866.06" stroke="#000000" stroke-width="1.6"/>
<line x1="72.39" y1="856.82" x2="77.59" y2="856.82" stroke="#000000" stroke-width="1.6"/>
<line x1="72.39" y1="866.06" x2="77.59" y2="866.06" stroke="#000000" stroke-width="1.6"/>
<circle cx="74.99" cy="861.44" r="2.5" fill="#000000"/>
<line x1="79.42" y1="833.71" x2="79.42" y2="847.58" stroke="#000000" stroke-width="1.6"/>
<line x1="76.82" y1="833.71" x2="82.02" y2="833.71" stroke="#000000" stroke-width="1.6"/>
<line x1="76.82" y1="847.58" x2="82.02" y2="847.58" stroke="#000000" stroke-width="1.6"/>
<circle cx="79.42" cy="840.64" r="2.5" fill="#000000"/>
<line x1="83.85" y1="806.74" x2="83.85" y2="823.69" stroke="#000000" stroke-width="1.6"/>
<line x1="81.25" y1="806.74" x2="86.45" y2="806.74" stroke="#000000" stroke-width="1.6"/>
<line x1="81.25" y1="823.69" x2="86.45" y2="823.69" stroke="#000000" stroke-width="1.6"/>
<circle cx="83.85" cy="815.22" r="2.5" fill="#000000"/>
<line x1="94.93" y1="777.08" x2="94.93" y2="790.95" stroke="#000000" stroke-width="1.6"/>
<line x1="92.33" y1="777.08" x2="97.53" y2="777.08" stroke="#000000" stroke-width="1.6"/>
<line x1="92.33" y1="790.95" x2="97.53" y2="790.95" stroke="#000000" stroke-width="1.6"/>
<circle cx="94.93" cy="784.02" r="2.5" fill="#000000"/>
<line x1="106.00" y1="766.84" x2="106.00" y2="779.16" stroke="#000000" stroke-width="1.6"/>
<line x1="103.40" y1="766.84" x2="108.60" y2="766.84" stroke="#000000" stroke-width="1.6"/>
<line x1="103.40" y1="779.16" x2="108.60" y2="779.16" stroke="#000000" stroke-width="1.6"/>
<circle cx="106.00" cy="773.00" r="2.5" fill="#000000"/>
<line x1="128.15" y1="756.36" x2="128.15" y2="770.23" stroke="#000000" stroke-width="1.6"/>
<line x1="125.55" y1="756.36" x2="130.75" y2="756.36" stroke="#000000" stroke-width="1.6"/>
<line x1="125.55" y1="770.23" x2="130.75" y2="770.23" stroke="#000000" stroke-width="1.6"/>
<circle cx="128.15" cy="763.29" r="2.5" fill="#000000"/>
<line x1="150.30" y1="751.28" x2="150.30" y2="765.14" stroke="#000000" stroke-width="1.6"/>
<line x1="147.70" y1="751.28" x2="152.90" y2="751.28" stroke="#000000" stroke-width="1.6"/>
<line x1="147.70" y1="765.14" x2="152.90" y2="765.14" stroke="#000000" stroke-width="1.6"/>
<circle cx="150.30" cy="758.21" r="2.5" fill="#000000"/>
<line x1="172.45" y1="749.35" x2="172.45" y2="763.22" stroke="#000000" stroke-width="1.6"/>
<line x1="169.85" y1="749.35" x2="175.05" y2="749.35" stroke="#000000" stroke-width="1.6"/>
<line x1="169.85" y1="763.22" x2="175.05" y2="763.22" stroke="#000000" stroke-width="1.6"/>
<circle cx="172.45" cy="756.28" r="2.5" fill="#000000"/>
<line x1="194.60" y1="748.89" x2="194.60" y2="762.75" stroke="#000000" stroke-width="1.6"/>
<line x1="192.00" y1="748.89" x2="197.20" y2="748.89" stroke="#000000" stroke-width="1.6"/>
<line x1="192.00" y1="762.75" x2="197.20" y2="762.75" stroke="#000000" stroke-width="1.6"/>
<circle cx="194.60" cy="755.82" r="2.5" fill="#000000"/>
<line x1="216.75" y1="748.89" x2="216.75" y2="762.75" stroke="#000000" stroke-width="1.6"/>
<line x1="214.15" y1="748.89" x2="219.35" y2="748.89" stroke="#000000" stroke-width="1.6"/>
<line x1="214.15" y1="762.75" x2="219.35" y2="762.75" stroke="#000000" stroke-width="1.6"/>
<circle cx="216.75" cy="755.82" r="2.5" fill="#000000"/>
<line x1="230.00" y1="740.00" x2="250.50" y2="740.00" stroke="#a7a7ab" stroke-width="3.2"/>
<circle cx="240.40" cy="740.00" r="2.6" fill="#a7a7ab"/>
<text x="262.60" y="744.30" font-size="12" text-anchor="start" fill="#111">NI WT</text>
<line x1="230.00" y1="763.64" x2="250.50" y2="763.64" stroke="#ffa3a3" stroke-width="3.2"/>
<circle cx="240.40" cy="763.64" r="2.6" fill="#ffa3a3"/>
<text x="262.60" y="767.94" font-size="12" text-anchor="start" fill="#111">NI Akita</text>
<line x1="230.00" y1="787.28" x2="250.50" y2="787.28" stroke="#ff4343" stroke-width="3.2"/>
<circle cx="240.40" cy="787.28" r="2.6" fill="#ff4343"/>
<text x="262.60" y="791.58" font-size="12" text-anchor="start" fill="#111">1x Akita</text>
<line x1="230.00" y1="810.92" x2="250.50" y2="810.92" stroke="#5e5e5e" stroke-width="3.2"/>
<circle cx="240.40" cy="810.92" r="2.6" fill="#5e5e5e"/>
<text x="262.60" y="815.22" font-size="12" text-anchor="start" fill="#111">1x WT</text>
<line x1="230.00" y1="834.56" x2="250.50" y2="834.56" stroke="#000000" stroke-width="3.2"/>
<circle cx="240.40" cy="834.56" r="2.6" fill="#000000"/>
<text x="262.60" y="838.86" font-size="12" text-anchor="start" fill="#111">3x WT</text>
<line x1="230.00" y1="858.20" x2="250.50" y2="858.20" stroke="#a30000" stroke-width="3.2"/>
<circle cx="240.40" cy="858.20" r="2.6" fill="#a30000"/>
<text x="262.60" y="862.50" font-size="12" text-anchor="start" fill="#111">3x Akita</text>
<text x="353.60" y="704.50" font-size="20" font-weight="bold" text-anchor="start" fill="#000">h</text>
<path d="M396.95 932.00 L396.95 841.67 L404.25 841.67 L404.25 932.00" fill="#fff" stroke="#a5a5ab" stroke-width="2.5"/>
<path d="M409.35 932.00 L409.35 862.76 L416.65 862.76 L416.65 932.00" fill="#fff" stroke="#ff8484" stroke-width="2.5"/>
<path d="M429.45 932.00 L429.45 822.25 L436.75 822.25 L436.75 932.00" fill="#fff" stroke="#a5a5ab" stroke-width="2.5"/>
<path d="M441.85 932.00 L441.85 868.04 L449.15 868.04 L449.15 932.00" fill="#fff" stroke="#ff8484" stroke-width="2.5"/>
<path d="M461.95 932.00 L461.95 818.92 L469.25 818.92 L469.25 932.00" fill="#fff" stroke="#a5a5ab" stroke-width="2.5"/>
<path d="M474.35 932.00 L474.35 877.75 L481.65 877.75 L481.65 932.00" fill="#fff" stroke="#ff8484" stroke-width="2.5"/>
<line x1="400.60" y1="843.20" x2="400.60" y2="837.65" stroke="#c8c8cc" stroke-width="1.1"/>
<line x1="398.10" y1="837.65" x2="403.10" y2="837.65" stroke="#c8c8cc" stroke-width="1.1"/>
<line x1="398.10" y1="843.20" x2="403.10" y2="843.20" stroke="#c8c8cc" stroke-width="1.1"/>
<circle cx="397.40" cy="836.54" r="1.75" fill="#333333"/>
<circle cx="400.60" cy="838.76" r="1.75" fill="#333333"/>
<circle cx="403.80" cy="841.53" r="1.75" fill="#333333"/>
<circle cx="397.40" cy="843.20" r="1.75" fill="#333333"/>
<circle cx="400.60" cy="840.98" r="1.75" fill="#333333"/>
<line x1="413.00" y1="863.18" x2="413.00" y2="859.85" stroke="#ffa0a0" stroke-width="1.1"/>
<line x1="410.50" y1="859.85" x2="415.50" y2="859.85" stroke="#ffa0a0" stroke-width="1.1"/>
<line x1="410.50" y1="863.18" x2="415.50" y2="863.18" stroke="#ffa0a0" stroke-width="1.1"/>
<circle cx="409.80" cy="862.07" r="1.75" fill="#990000"/>
<circle cx="413.00" cy="858.74" r="1.75" fill="#990000"/>
<circle cx="416.20" cy="861.51" r="1.75" fill="#990000"/>
<line x1="433.10" y1="829.33" x2="433.10" y2="812.12" stroke="#c8c8cc" stroke-width="1.1"/>
<line x1="430.60" y1="812.12" x2="435.60" y2="812.12" stroke="#c8c8cc" stroke-width="1.1"/>
<line x1="430.60" y1="829.33" x2="435.60" y2="829.33" stroke="#c8c8cc" stroke-width="1.1"/>
<circle cx="433.10" cy="802.68" r="1.75" fill="#333333"/>
<circle cx="429.90" cy="818.78" r="1.75" fill="#333333"/>
<circle cx="436.30" cy="817.67" r="1.75" fill="#333333"/>
<circle cx="433.10" cy="822.11" r="1.75" fill="#333333"/>
<circle cx="429.90" cy="826.55" r="1.75" fill="#333333"/>
<circle cx="433.10" cy="830.99" r="1.75" fill="#333333"/>
<circle cx="436.30" cy="819.34" r="1.75" fill="#333333"/>
<line x1="445.50" y1="873.17" x2="445.50" y2="859.29" stroke="#ffa0a0" stroke-width="1.1"/>
<line x1="443.00" y1="859.29" x2="448.00" y2="859.29" stroke="#ffa0a0" stroke-width="1.1"/>
<line x1="443.00" y1="873.17" x2="448.00" y2="873.17" stroke="#ffa0a0" stroke-width="1.1"/>
<circle cx="442.30" cy="860.40" r="1.75" fill="#990000"/>
<circle cx="445.50" cy="858.74" r="1.75" fill="#990000"/>
<circle cx="448.70" cy="861.51" r="1.75" fill="#990000"/>
<circle cx="445.50" cy="866.51" r="1.75" fill="#990000"/>
<circle cx="445.50" cy="876.50" r="1.75" fill="#990000"/>
<line x1="465.60" y1="820.44" x2="465.60" y2="815.45" stroke="#c8c8cc" stroke-width="1.1"/>
<line x1="463.10" y1="815.45" x2="468.10" y2="815.45" stroke="#c8c8cc" stroke-width="1.1"/>
<line x1="463.10" y1="820.44" x2="468.10" y2="820.44" stroke="#c8c8cc" stroke-width="1.1"/>
<circle cx="462.40" cy="808.79" r="1.75" fill="#333333"/>
<circle cx="465.60" cy="811.01" r="1.75" fill="#333333"/>
<circle cx="468.80" cy="814.34" r="1.75" fill="#333333"/>
<circle cx="462.40" cy="816.56" r="1.75" fill="#333333"/>
<circle cx="467.10" cy="817.12" r="1.75" fill="#333333"/>
<circle cx="464.10" cy="821.00" r="1.75" fill="#333333"/>
<circle cx="468.80" cy="819.89" r="1.75" fill="#333333"/>
<circle cx="465.60" cy="823.22" r="1.75" fill="#333333"/>
<line x1="478.00" y1="880.94" x2="478.00" y2="872.06" stroke="#ffa0a0" stroke-width="1.1"/>
<line x1="475.50" y1="872.06" x2="480.50" y2="872.06" stroke="#ffa0a0" stroke-width="1.1"/>
<line x1="475.50" y1="880.94" x2="480.50" y2="880.94" stroke="#ffa0a0" stroke-width="1.1"/>
<circle cx="478.00" cy="870.39" r="1.75" fill="#990000"/>
<circle cx="474.80" cy="874.28" r="1.75" fill="#990000"/>
<circle cx="481.20" cy="874.84" r="1.75" fill="#990000"/>
<circle cx="478.00" cy="878.72" r="1.75" fill="#990000"/>
<circle cx="478.00" cy="882.05" r="1.75" fill="#990000"/>
<line x1="390.20" y1="765.60" x2="390.20" y2="932.80" stroke="#000" stroke-width="1.7"/>
<line x1="383.60" y1="932.00" x2="489.50" y2="932.00" stroke="#000" stroke-width="1.7"/>
<line x1="383.60" y1="932.00" x2="390.20" y2="932.00" stroke="#000" stroke-width="1.7"/>
<text x="381.00" y="936.60" font-size="10.4" font-weight="bold" text-anchor="end" fill="#000">0</text>
<line x1="383.60" y1="876.50" x2="390.20" y2="876.50" stroke="#000" stroke-width="1.7"/>
<text x="381.00" y="881.10" font-size="10.4" font-weight="bold" text-anchor="end" fill="#000">1000</text>
<line x1="383.60" y1="821.00" x2="390.20" y2="821.00" stroke="#000" stroke-width="1.7"/>
<text x="381.00" y="825.60" font-size="10.4" font-weight="bold" text-anchor="end" fill="#000">2000</text>
<line x1="383.60" y1="765.50" x2="390.20" y2="765.50" stroke="#000" stroke-width="1.7"/>
<text x="381.00" y="770.10" font-size="10.4" font-weight="bold" text-anchor="end" fill="#000">3000</text>
<line x1="406.80" y1="932.00" x2="406.80" y2="938.60" stroke="#000" stroke-width="1.7"/>
<text x="406.80" y="951.60" font-size="11.3" font-weight="bold" text-anchor="middle" fill="#000">NI</text>
<line x1="439.30" y1="932.00" x2="439.30" y2="938.60" stroke="#000" stroke-width="1.7"/>
<text x="439.30" y="951.60" font-size="11.3" font-weight="bold" text-anchor="middle" fill="#000">1x</text>
<line x1="471.80" y1="932.00" x2="471.80" y2="938.60" stroke="#000" stroke-width="1.7"/>
<text x="471.80" y="951.60" font-size="11.3" font-weight="bold" text-anchor="middle" fill="#000">3x</text>
<path d="M400.50 748.40 L400.50 721.70 L465.70 721.70 L465.70 731.50" stroke="#000" fill="none" stroke-width="1.7" stroke-linejoin="miter"/>
<path d="M426.36 710.78 L426.36 714.62 M424.70 711.74 L428.02 713.66 M424.70 713.66 L428.02 711.74 " stroke="#111" stroke-width="1.30" stroke-linecap="round" fill="none"/>
<path d="M432.60 710.78 L432.60 714.62 M430.94 711.74 L434.26 713.66 M430.94 713.66 L434.26 711.74 " stroke="#111" stroke-width="1.30" stroke-linecap="round" fill="none"/>
<path d="M438.84 710.78 L438.84 714.62 M437.18 711.74 L440.50 713.66 M437.18 713.66 L440.50 711.74 " stroke="#111" stroke-width="1.30" stroke-linecap="round" fill="none"/>
<path d="M413.00 746.00 L413.00 740.10 L478.00 740.10 L478.00 772.30" stroke="#000" fill="none" stroke-width="1.7" stroke-linejoin="miter"/>
<path d="M445.60 729.08 L445.60 732.92 M443.94 730.04 L447.26 731.96 M443.94 731.96 L447.26 730.04 " stroke="#111" stroke-width="1.30" stroke-linecap="round" fill="none"/>
<path d="M400.50 772.30 L400.50 762.80 L433.10 762.80 L433.10 772.30" stroke="#000" fill="none" stroke-width="1.7" stroke-linejoin="miter"/>
<path d="M413.48 751.78 L413.48 755.62 M411.82 752.74 L415.14 754.66 M411.82 754.66 L415.14 752.74 " stroke="#111" stroke-width="1.30" stroke-linecap="round" fill="none"/>
<path d="M419.72 751.78 L419.72 755.62 M418.06 752.74 L421.38 754.66 M418.06 754.66 L421.38 752.74 " stroke="#111" stroke-width="1.30" stroke-linecap="round" fill="none"/>
<path d="M400.30 829.20 L400.30 789.30 L413.30 789.30 L413.30 852.00" stroke="#000" fill="none" stroke-width="1.7" stroke-linejoin="miter"/>
<path d="M406.70 778.28 L406.70 782.12 M405.04 779.24 L408.36 781.16 M405.04 781.16 L408.36 779.24 " stroke="#111" stroke-width="1.30" stroke-linecap="round" fill="none"/>
<path d="M432.60 797.70 L432.60 789.30 L446.20 789.30 L446.20 851.10" stroke="#000" fill="none" stroke-width="1.7" stroke-linejoin="miter"/>
<path d="M432.76 778.28 L432.76 782.12 M431.10 779.24 L434.42 781.16 M431.10 781.16 L434.42 779.24 " stroke="#111" stroke-width="1.30" stroke-linecap="round" fill="none"/>
<path d="M439.00 778.28 L439.00 782.12 M437.34 779.24 L440.66 781.16 M437.34 781.16 L440.66 779.24 " stroke="#111" stroke-width="1.30" stroke-linecap="round" fill="none"/>
<path d="M445.24 778.28 L445.24 782.12 M443.58 779.24 L446.90 781.16 M443.58 781.16 L446.90 779.24 " stroke="#111" stroke-width="1.30" stroke-linecap="round" fill="none"/>
<path d="M465.80 804.70 L465.80 789.30 L478.00 789.30 L478.00 867.70" stroke="#000" fill="none" stroke-width="1.7" stroke-linejoin="miter"/>
<path d="M465.26 778.28 L465.26 782.12 M463.60 779.24 L466.92 781.16 M463.60 781.16 L466.92 779.24 " stroke="#111" stroke-width="1.30" stroke-linecap="round" fill="none"/>
<path d="M471.50 778.28 L471.50 782.12 M469.84 779.24 L473.16 781.16 M469.84 781.16 L473.16 779.24 " stroke="#111" stroke-width="1.30" stroke-linecap="round" fill="none"/>
<path d="M477.74 778.28 L477.74 782.12 M476.08 779.24 L479.40 781.16 M476.08 781.16 L479.40 779.24 " stroke="#111" stroke-width="1.30" stroke-linecap="round" fill="none"/>
<text x="0" y="0" font-size="12.8" font-weight="bold" text-anchor="middle" textLength="65.5" lengthAdjust="spacingAndGlyphs" transform="translate(350.7 849.3) rotate(-90)">Force (mN)</text>
<text x="408.30" y="701.80" font-size="14.6" text-anchor="start" fill="#000" textLength="67.8" lengthAdjust="spacingAndGlyphs">Peak force</text>
<text x="548.80" y="703.80" font-size="20" font-weight="bold" text-anchor="start" fill="#000">i</text>
<path d="M591.45 931.70 L591.45 801.68 L598.75 801.68 L598.75 931.70" fill="#fff" stroke="#a5a5ab" stroke-width="2.5"/>
<path d="M603.85 931.70 L603.85 810.09 L611.15 810.09 L611.15 931.70" fill="#fff" stroke="#ff8484" stroke-width="2.5"/>
<path d="M624.25 931.70 L624.25 810.65 L631.55 810.65 L631.55 931.70" fill="#fff" stroke="#a5a5ab" stroke-width="2.5"/>
<path d="M636.65 931.70 L636.65 811.77 L643.95 811.77 L643.95 931.70" fill="#fff" stroke="#ff8484" stroke-width="2.5"/>
<path d="M657.05 931.70 L657.05 817.95 L664.35 817.95 L664.35 931.70" fill="#fff" stroke="#a5a5ab" stroke-width="2.5"/>
<path d="M669.45 931.70 L669.45 828.04 L676.75 828.04 L676.75 931.70" fill="#fff" stroke="#ff8484" stroke-width="2.5"/>
<line x1="595.10" y1="807.16" x2="595.10" y2="792.57" stroke="#c8c8cc" stroke-width="1.1"/>
<line x1="592.60" y1="792.57" x2="597.60" y2="792.57" stroke="#c8c8cc" stroke-width="1.1"/>
<line x1="592.60" y1="807.16" x2="597.60" y2="807.16" stroke="#c8c8cc" stroke-width="1.1"/>
<circle cx="594.10" cy="788.08" r="1.75" fill="#333333"/>
<circle cx="591.90" cy="797.06" r="1.75" fill="#333333"/>
<circle cx="598.30" cy="800.99" r="1.75" fill="#333333"/>
<circle cx="591.90" cy="804.35" r="1.75" fill="#333333"/>
<circle cx="595.10" cy="807.16" r="1.75" fill="#333333"/>
<line x1="607.50" y1="816.70" x2="607.50" y2="799.87" stroke="#ffa0a0" stroke-width="1.1"/>
<line x1="605.00" y1="799.87" x2="610.00" y2="799.87" stroke="#ffa0a0" stroke-width="1.1"/>
<line x1="605.00" y1="816.70" x2="610.00" y2="816.70" stroke="#ffa0a0" stroke-width="1.1"/>
<circle cx="604.30" cy="802.67" r="1.75" fill="#990000"/>
<circle cx="610.70" cy="802.67" r="1.75" fill="#990000"/>
<circle cx="607.50" cy="817.26" r="1.75" fill="#990000"/>
<line x1="627.90" y1="820.62" x2="627.90" y2="795.94" stroke="#c8c8cc" stroke-width="1.1"/>
<line x1="625.40" y1="795.94" x2="630.40" y2="795.94" stroke="#c8c8cc" stroke-width="1.1"/>
<line x1="625.40" y1="820.62" x2="630.40" y2="820.62" stroke="#c8c8cc" stroke-width="1.1"/>
<circle cx="624.70" cy="795.94" r="1.75" fill="#333333"/>
<circle cx="631.10" cy="793.69" r="1.75" fill="#333333"/>
<circle cx="627.90" cy="808.28" r="1.75" fill="#333333"/>
<circle cx="624.70" cy="809.96" r="1.75" fill="#333333"/>
<circle cx="631.10" cy="816.70" r="1.75" fill="#333333"/>
<circle cx="627.90" cy="823.43" r="1.75" fill="#333333"/>
<circle cx="626.90" cy="829.04" r="1.75" fill="#333333"/>
<line x1="640.30" y1="819.50" x2="640.30" y2="798.18" stroke="#ffa0a0" stroke-width="1.1"/>
<line x1="637.80" y1="798.18" x2="642.80" y2="798.18" stroke="#ffa0a0" stroke-width="1.1"/>
<line x1="637.80" y1="819.50" x2="642.80" y2="819.50" stroke="#ffa0a0" stroke-width="1.1"/>
<circle cx="640.30" cy="795.38" r="1.75" fill="#990000"/>
<circle cx="640.30" cy="804.91" r="1.75" fill="#990000"/>
<circle cx="637.10" cy="816.13" r="1.75" fill="#990000"/>
<circle cx="643.50" cy="817.26" r="1.75" fill="#990000"/>
<circle cx="640.30" cy="809.96" r="1.75" fill="#990000"/>
<line x1="660.70" y1="821.18" x2="660.70" y2="811.65" stroke="#c8c8cc" stroke-width="1.1"/>
<line x1="658.20" y1="811.65" x2="663.20" y2="811.65" stroke="#c8c8cc" stroke-width="1.1"/>
<line x1="658.20" y1="821.18" x2="663.20" y2="821.18" stroke="#c8c8cc" stroke-width="1.1"/>
<circle cx="660.70" cy="807.16" r="1.75" fill="#333333"/>
<circle cx="657.50" cy="813.89" r="1.75" fill="#333333"/>
<circle cx="662.20" cy="813.33" r="1.75" fill="#333333"/>
<circle cx="663.90" cy="815.57" r="1.75" fill="#333333"/>
<circle cx="659.20" cy="816.70" r="1.75" fill="#333333"/>
<circle cx="660.70" cy="819.50" r="1.75" fill="#333333"/>
<circle cx="663.90" cy="820.62" r="1.75" fill="#333333"/>
<circle cx="660.70" cy="826.23" r="1.75" fill="#333333"/>
<line x1="673.10" y1="843.06" x2="673.10" y2="811.09" stroke="#ffa0a0" stroke-width="1.1"/>
<line x1="670.60" y1="811.09" x2="675.60" y2="811.09" stroke="#ffa0a0" stroke-width="1.1"/>
<line x1="670.60" y1="843.06" x2="675.60" y2="843.06" stroke="#ffa0a0" stroke-width="1.1"/>
<circle cx="673.10" cy="805.48" r="1.75" fill="#990000"/>
<circle cx="673.10" cy="815.57" r="1.75" fill="#990000"/>
<circle cx="673.10" cy="820.62" r="1.75" fill="#990000"/>
<circle cx="669.90" cy="833.53" r="1.75" fill="#990000"/>
<circle cx="676.30" cy="831.84" r="1.75" fill="#990000"/>
<line x1="583.90" y1="763.70" x2="583.90" y2="932.50" stroke="#000" stroke-width="1.7"/>
<line x1="577.30" y1="931.70" x2="685.00" y2="931.70" stroke="#000" stroke-width="1.7"/>
<line x1="577.30" y1="931.70" x2="583.90" y2="931.70" stroke="#000" stroke-width="1.7"/>
<text x="575.30" y="936.30" font-size="10.4" font-weight="bold" text-anchor="end" fill="#000">0</text>
<line x1="577.30" y1="875.60" x2="583.90" y2="875.60" stroke="#000" stroke-width="1.7"/>
<text x="575.30" y="880.20" font-size="10.4" font-weight="bold" text-anchor="end" fill="#000">100</text>
<line x1="577.30" y1="819.50" x2="583.90" y2="819.50" stroke="#000" stroke-width="1.7"/>
<text x="575.30" y="824.10" font-size="10.4" font-weight="bold" text-anchor="end" fill="#000">200</text>
<line x1="577.30" y1="763.40" x2="583.90" y2="763.40" stroke="#000" stroke-width="1.7"/>
<text x="575.30" y="768.00" font-size="10.4" font-weight="bold" text-anchor="end" fill="#000">300</text>
<line x1="601.30" y1="931.70" x2="601.30" y2="938.30" stroke="#000" stroke-width="1.7"/>
<text x="601.30" y="952.10" font-size="11.3" font-weight="bold" text-anchor="middle" fill="#000">NI</text>
<line x1="634.10" y1="931.70" x2="634.10" y2="938.30" stroke="#000" stroke-width="1.7"/>
<text x="634.10" y="952.10" font-size="11.3" font-weight="bold" text-anchor="middle" fill="#000">1x</text>
<line x1="666.90" y1="931.70" x2="666.90" y2="938.30" stroke="#000" stroke-width="1.7"/>
<text x="666.90" y="952.10" font-size="11.3" font-weight="bold" text-anchor="middle" fill="#000">3x</text>
<text x="0" y="0" font-size="12" font-weight="bold" text-anchor="middle" textLength="87.1" lengthAdjust="spacingAndGlyphs" transform="translate(551 848.3) rotate(-90)">Force (mN/CSA)</text>
<text x="587.20" y="701.80" font-size="14.6" text-anchor="start" fill="#000" textLength="86.2" lengthAdjust="spacingAndGlyphs">Specific force</text>
</svg></body></html>
